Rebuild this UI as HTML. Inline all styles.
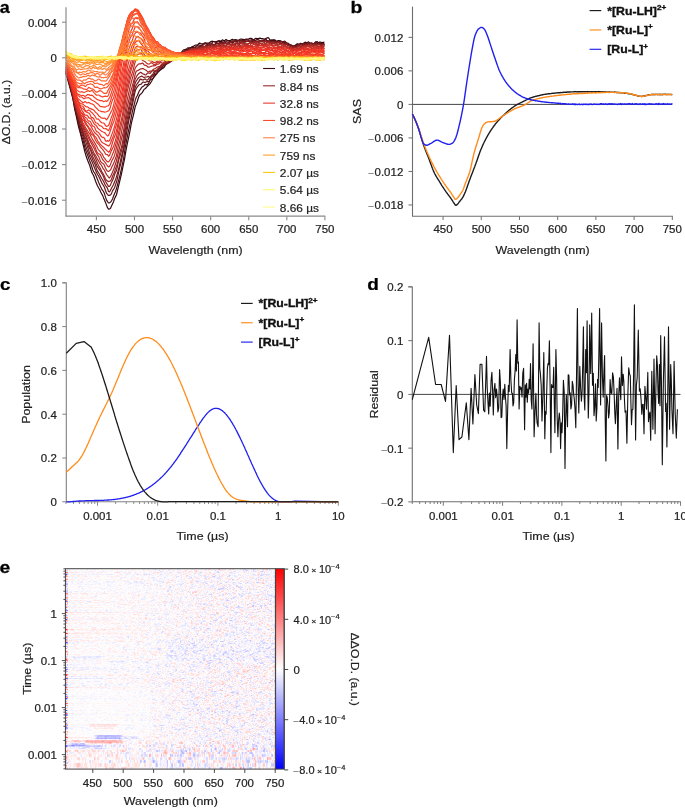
<!DOCTYPE html>
<html><head><meta charset="utf-8"><style>
html,body{margin:0;padding:0;background:#fff;}
#wrap{position:relative;width:685px;height:808px;overflow:hidden;}
#hm{position:absolute;left:65.4px;top:568.7px;width:210.0px;height:200.4px;background:#f6f0f4;}
svg{position:absolute;left:0;top:0;}
svg text{font-family:"Liberation Sans", sans-serif;}
.rt{stroke:#222;stroke-width:0.2;}
</style></head><body><div id="wrap">
<canvas id="hm" width="210" height="200"></canvas>
<svg width="685" height="808" viewBox="0 0 685 808">
<g fill="none" stroke-width="1.2" stroke-linejoin="round">
<path d="M65.9,73.3 66.9,76.3 67.9,79.9 68.9,83.8 69.9,87.6 70.9,91.4 71.9,94.7 72.9,98.7 73.9,104.3 74.8,109.7 75.8,114.2 76.8,118.7 77.8,123.4 78.8,127.8 79.8,131.2 80.8,134.9 81.8,139.2 82.8,143.3 83.8,147.4 84.7,151.4 85.7,154.7 86.7,157.7 87.7,160.5 88.7,162.9 89.7,165.4 90.7,168.8 91.7,172.1 92.7,174.0 93.7,175.7 94.6,178.4 95.6,181.3 96.6,183.7 97.6,186.0 98.6,187.8 99.6,189.5 100.6,191.8 101.6,193.7 102.6,195.4 103.6,197.9 104.6,200.2 105.5,202.4 106.5,205.1 107.5,207.7 108.5,209.2 109.5,209.0 110.5,208.2 111.5,206.1 112.5,203.9 113.5,201.8 114.5,198.8 115.4,196.9 116.4,195.0 117.4,191.0 118.4,186.6 119.4,182.5 120.4,178.4 121.4,174.1 122.4,169.3 123.4,164.5 124.4,159.8 125.3,154.4 126.3,148.7 127.3,143.6 128.3,139.2 129.3,134.4 130.3,129.1 131.3,123.7 132.3,119.3 133.3,115.5 134.3,111.0 135.2,106.9 136.2,104.4 137.2,101.7 138.2,98.5 139.2,95.8 140.2,94.4 141.2,93.7 142.2,92.6 143.2,90.9 144.2,89.3 145.1,88.7 146.1,87.8 147.1,86.5 148.1,85.5 149.1,84.7 150.1,83.6 151.1,82.0 152.1,80.2 153.1,78.2 154.1,76.9 155.1,75.9 156.0,74.7 157.0,73.5 158.0,72.2 159.0,71.0 160.0,70.3 161.0,69.6 162.0,68.7 163.0,68.3 164.0,67.5 165.0,65.9 165.9,64.5 166.9,62.6 167.9,61.2 168.9,61.4 169.9,61.2 170.9,59.9 171.9,59.0 172.9,58.6 173.9,57.9 174.9,56.9 175.8,56.5 176.8,56.4 177.8,55.6 178.8,54.8 179.8,54.1 180.8,53.1 181.8,51.9 182.8,50.6 183.8,49.8 184.8,49.6 185.7,49.4 186.7,49.3 187.7,49.5 188.7,48.7 189.7,47.9 190.7,47.7 191.7,47.1 192.7,46.6 193.7,46.1 194.7,45.5 195.6,45.0 196.6,45.0 197.6,45.1 198.6,43.7 199.6,43.1 200.6,43.6 201.6,43.9 202.6,43.9 203.6,43.5 204.6,42.9 205.6,42.9 206.5,43.1 207.5,43.1 208.5,43.2 209.5,42.7 210.5,41.7 211.5,41.4 212.5,41.2 213.5,41.5 214.5,41.8 215.5,41.7 216.4,41.5 217.4,41.2 218.4,41.1 219.4,41.3 220.4,41.6 221.4,40.8 222.4,39.9 223.4,40.4 224.4,40.8 225.4,39.8 226.3,39.5 227.3,40.4 228.3,40.5 229.3,40.6 230.3,40.6 231.3,39.8 232.3,39.4 233.3,39.8 234.3,39.8 235.3,39.6 236.2,39.7 237.2,40.0 238.2,40.3 239.2,40.0 240.2,39.1 241.2,39.2 242.2,39.3 243.2,39.3 244.2,39.6 245.2,39.4 246.2,39.1 247.1,39.2 248.1,39.3 249.1,38.8 250.1,38.3 251.1,38.3 252.1,38.8 253.1,39.6 254.1,39.7 255.1,38.6 256.1,38.3 257.0,38.7 258.0,38.6 259.0,38.3 260.0,38.1 261.0,38.5 262.0,38.6 263.0,38.7 264.0,39.1 265.0,38.8 266.0,38.4 266.9,38.0 267.9,37.6 268.9,38.3 269.9,39.9 270.9,40.3 271.9,39.8 272.9,39.9 273.9,39.8 274.9,39.8 275.9,41.2 276.8,41.6 277.8,40.7 278.8,40.5 279.8,40.8 280.8,41.2 281.8,41.9 282.8,42.4 283.8,42.3 284.8,43.0 285.8,43.4 286.7,43.1 287.7,43.1 288.7,43.8 289.7,44.7 290.7,45.4 291.7,45.9 292.7,45.9 293.7,45.8 294.7,45.6 295.7,45.1 296.7,44.0 297.6,43.7 298.6,44.2 299.6,43.8 300.6,43.3 301.6,43.5 302.6,43.8 303.6,43.2 304.6,42.4 305.6,42.4 306.6,42.5 307.5,42.3 308.5,41.9 309.5,42.7 310.5,43.8 311.5,43.9 312.5,44.5 313.5,44.8 314.5,43.2 315.5,41.9 316.5,42.4 317.4,43.3 318.4,43.0 319.4,42.1 320.4,42.1 321.4,42.4 322.4,42.5 323.4,42.3 324.4,42.1" stroke="#360910"/>
<path d="M65.9,72.6 66.9,75.9 67.9,79.5 68.9,82.7 69.9,86.1 70.9,89.8 71.9,94.3 72.9,98.5 73.9,103.3 74.8,108.1 75.8,111.8 76.8,116.2 77.8,121.0 78.8,124.8 79.8,129.2 80.8,133.7 81.8,136.6 82.8,139.4 83.8,143.2 84.7,147.1 85.7,150.3 86.7,152.9 87.7,155.3 88.7,158.2 89.7,160.9 90.7,163.2 91.7,166.3 92.7,169.5 93.7,171.8 94.6,172.9 95.6,174.7 96.6,177.2 97.6,179.7 98.6,182.3 99.6,184.6 100.6,186.8 101.6,188.8 102.6,190.3 103.6,191.7 104.6,194.1 105.5,197.1 106.5,199.9 107.5,201.6 108.5,202.8 109.5,202.9 110.5,202.1 111.5,200.8 112.5,199.0 113.5,196.3 114.5,193.8 115.4,191.7 116.4,189.0 117.4,185.1 118.4,181.2 119.4,177.6 120.4,173.5 121.4,168.9 122.4,164.2 123.4,159.5 124.4,153.4 125.3,147.0 126.3,141.9 127.3,136.9 128.3,131.7 129.3,127.1 130.3,122.7 131.3,117.2 132.3,112.0 133.3,108.0 134.3,104.3 135.2,100.4 136.2,97.5 137.2,95.7 138.2,93.4 139.2,91.0 140.2,89.7 141.2,88.1 142.2,86.8 143.2,86.4 144.2,85.5 145.1,84.4 146.1,84.6 147.1,84.8 148.1,84.1 149.1,82.2 150.1,80.1 151.1,79.4 152.1,79.2 153.1,78.4 154.1,76.7 155.1,75.2 156.0,74.0 157.0,72.8 158.0,71.8 159.0,71.0 160.0,69.9 161.0,68.7 162.0,67.6 163.0,66.1 164.0,64.6 165.0,64.1 165.9,64.3 166.9,64.0 167.9,63.2 168.9,63.0 169.9,62.1 170.9,60.2 171.9,59.2 172.9,59.5 173.9,59.6 174.9,58.8 175.8,57.7 176.8,56.0 177.8,54.7 178.8,54.8 179.8,55.1 180.8,54.3 181.8,53.0 182.8,52.1 183.8,51.6 184.8,50.9 185.7,50.1 186.7,48.8 187.7,47.8 188.7,47.8 189.7,48.0 190.7,47.7 191.7,47.4 192.7,47.4 193.7,47.4 194.7,47.6 195.6,47.0 196.6,45.9 197.6,45.4 198.6,45.0 199.6,45.0 200.6,45.7 201.6,45.5 202.6,44.5 203.6,44.1 204.6,43.9 205.6,43.4 206.5,43.7 207.5,44.4 208.5,44.0 209.5,42.9 210.5,43.1 211.5,43.4 212.5,42.3 213.5,41.5 214.5,41.6 215.5,42.2 216.4,42.7 217.4,42.0 218.4,40.9 219.4,40.7 220.4,41.0 221.4,41.4 222.4,41.9 223.4,42.2 224.4,41.5 225.4,41.0 226.3,41.1 227.3,40.6 228.3,40.7 229.3,41.4 230.3,41.4 231.3,41.0 232.3,40.9 233.3,41.1 234.3,41.2 235.3,41.1 236.2,41.4 237.2,41.3 238.2,40.5 239.2,40.2 240.2,40.8 241.2,40.8 242.2,40.7 243.2,40.6 244.2,40.0 245.2,39.7 246.2,39.6 247.1,39.9 248.1,40.0 249.1,40.1 250.1,40.2 251.1,39.8 252.1,39.6 253.1,39.5 254.1,39.9 255.1,40.4 256.1,40.1 257.0,39.5 258.0,39.5 259.0,40.0 260.0,40.4 261.0,40.5 262.0,40.1 263.0,40.6 264.0,41.0 265.0,40.0 266.0,39.6 266.9,40.6 267.9,41.0 268.9,40.8 269.9,40.6 270.9,40.3 271.9,40.6 272.9,40.6 273.9,40.4 274.9,40.6 275.9,40.8 276.8,41.4 277.8,42.3 278.8,41.8 279.8,40.8 280.8,41.0 281.8,41.6 282.8,41.7 283.8,42.0 284.8,41.9 285.8,42.2 286.7,43.8 287.7,45.1 288.7,45.4 289.7,45.3 290.7,44.7 291.7,45.0 292.7,46.3 293.7,46.9 294.7,46.0 295.7,45.7 296.7,46.2 297.6,45.7 298.6,44.8 299.6,44.3 300.6,44.3 301.6,44.4 302.6,44.5 303.6,43.8 304.6,42.5 305.6,42.4 306.6,43.2 307.5,44.0 308.5,44.3 309.5,43.7 310.5,43.1 311.5,43.0 312.5,43.3 313.5,43.6 314.5,43.3 315.5,42.7 316.5,41.8 317.4,41.7 318.4,42.8 319.4,43.4 320.4,43.4 321.4,43.5 322.4,43.6 323.4,43.6 324.4,43.6" stroke="#4a0f14"/>
<path d="M65.9,72.2 66.9,75.2 67.9,78.4 68.9,81.9 69.9,85.9 70.9,89.6 71.9,93.1 72.9,97.0 73.9,101.3 74.8,106.3 75.8,111.4 76.8,115.7 77.8,119.7 78.8,123.3 79.8,127.0 80.8,130.6 81.8,133.3 82.8,136.0 83.8,139.4 84.7,142.7 85.7,146.0 86.7,149.0 87.7,151.6 88.7,154.0 89.7,156.6 90.7,159.1 91.7,161.1 92.7,163.2 93.7,165.7 94.6,167.9 95.6,170.3 96.6,172.8 97.6,174.5 98.6,176.1 99.6,178.2 100.6,180.3 101.6,182.6 102.6,184.3 103.6,185.7 104.6,187.7 105.5,190.5 106.5,193.2 107.5,194.4 108.5,195.5 109.5,195.4 110.5,194.9 111.5,193.6 112.5,190.9 113.5,189.4 114.5,188.0 115.4,185.1 116.4,182.3 117.4,178.6 118.4,173.5 119.4,168.7 120.4,165.0 121.4,160.8 122.4,155.6 123.4,150.9 124.4,146.1 125.3,140.5 126.3,134.7 127.3,128.8 128.3,123.1 129.3,118.2 130.3,113.6 131.3,109.2 132.3,105.2 133.3,100.4 134.3,95.3 135.2,91.2 136.2,88.6 137.2,87.1 138.2,85.8 139.2,84.7 140.2,84.5 141.2,84.1 142.2,82.8 143.2,82.1 144.2,82.2 145.1,82.5 146.1,82.0 147.1,81.5 148.1,81.6 149.1,81.2 150.1,79.4 151.1,77.4 152.1,76.6 153.1,76.0 154.1,74.7 155.1,74.0 156.0,74.0 157.0,72.5 158.0,70.5 159.0,69.1 160.0,67.8 161.0,67.1 162.0,66.8 163.0,66.0 164.0,65.3 165.0,64.9 165.9,64.0 166.9,62.3 167.9,61.4 168.9,61.6 169.9,61.4 170.9,60.4 171.9,59.6 172.9,59.1 173.9,58.8 174.9,58.9 175.8,58.6 176.8,57.5 177.8,56.3 178.8,55.9 179.8,56.1 180.8,55.2 181.8,53.8 182.8,53.3 183.8,52.6 184.8,51.0 185.7,50.2 186.7,50.1 187.7,49.8 188.7,49.2 189.7,48.7 190.7,48.5 191.7,48.9 192.7,48.8 193.7,48.1 194.7,47.7 195.6,47.0 196.6,46.9 197.6,47.1 198.6,46.8 199.6,46.2 200.6,45.9 201.6,46.1 202.6,45.7 203.6,44.4 204.6,43.3 205.6,43.5 206.5,44.3 207.5,44.2 208.5,43.8 209.5,44.3 210.5,44.8 211.5,44.2 212.5,43.9 213.5,44.5 214.5,45.1 215.5,44.5 216.4,43.6 217.4,43.5 218.4,43.3 219.4,42.7 220.4,42.6 221.4,42.6 222.4,42.7 223.4,42.9 224.4,43.1 225.4,42.6 226.3,41.9 227.3,42.0 228.3,42.5 229.3,42.4 230.3,41.9 231.3,42.0 232.3,42.7 233.3,42.8 234.3,41.5 235.3,40.1 236.2,40.4 237.2,41.1 238.2,40.6 239.2,40.2 240.2,41.0 241.2,41.2 242.2,40.6 243.2,40.4 244.2,40.8 245.2,40.7 246.2,39.7 247.1,39.5 248.1,40.0 249.1,40.9 250.1,41.6 251.1,41.1 252.1,40.6 253.1,40.4 254.1,40.4 255.1,41.2 256.1,41.6 257.0,41.1 258.0,41.0 259.0,41.2 260.0,41.1 261.0,41.5 262.0,41.6 263.0,40.5 264.0,39.9 265.0,39.4 266.0,39.3 266.9,40.6 267.9,41.8 268.9,41.9 269.9,41.7 270.9,41.4 271.9,41.5 272.9,41.9 273.9,41.8 274.9,41.8 275.9,41.6 276.8,41.5 277.8,41.8 278.8,42.0 279.8,42.4 280.8,43.0 281.8,43.3 282.8,42.5 283.8,41.3 284.8,41.2 285.8,42.1 286.7,43.4 287.7,44.1 288.7,44.2 289.7,44.8 290.7,45.6 291.7,46.1 292.7,46.4 293.7,46.6 294.7,46.7 295.7,46.8 296.7,45.7 297.6,44.5 298.6,44.7 299.6,44.9 300.6,44.2 301.6,44.1 302.6,44.5 303.6,44.1 304.6,43.3 305.6,43.3 306.6,43.1 307.5,43.0 308.5,43.6 309.5,43.9 310.5,43.5 311.5,43.5 312.5,44.4 313.5,44.6 314.5,43.9 315.5,43.3 316.5,42.8 317.4,43.2 318.4,43.9 319.4,43.8 320.4,43.8 321.4,44.0 322.4,43.8 323.4,44.6 324.4,45.1" stroke="#651619"/>
<path d="M65.9,72.7 66.9,75.9 67.9,78.5 68.9,80.9 69.9,83.7 70.9,87.1 71.9,91.7 72.9,96.6 73.9,101.1 74.8,105.6 75.8,109.9 76.8,113.5 77.8,117.7 78.8,121.6 79.8,124.1 80.8,127.0 81.8,130.2 82.8,133.2 83.8,136.1 84.7,139.0 85.7,141.6 86.7,144.4 87.7,147.3 88.7,150.2 89.7,153.3 90.7,155.4 91.7,157.3 92.7,159.8 93.7,161.9 94.6,163.3 95.6,165.8 96.6,169.1 97.6,171.4 98.6,172.8 99.6,174.5 100.6,176.4 101.6,178.2 102.6,179.8 103.6,181.6 104.6,183.7 105.5,185.6 106.5,186.6 107.5,188.4 108.5,191.5 109.5,191.9 110.5,190.2 111.5,188.1 112.5,186.5 113.5,184.5 114.5,182.1 115.4,180.0 116.4,177.1 117.4,173.4 118.4,169.8 119.4,165.6 120.4,161.0 121.4,156.6 122.4,152.9 123.4,148.7 124.4,142.3 125.3,135.0 126.3,128.7 127.3,123.7 128.3,118.9 129.3,114.1 130.3,110.0 131.3,106.2 132.3,101.2 133.3,95.6 134.3,91.0 135.2,87.5 136.2,85.3 137.2,83.7 138.2,82.5 139.2,80.9 140.2,79.1 141.2,79.3 142.2,80.0 143.2,79.9 144.2,79.2 145.1,78.9 146.1,79.7 147.1,80.2 148.1,79.4 149.1,78.2 150.1,77.1 151.1,75.8 152.1,75.0 153.1,74.5 154.1,73.9 155.1,72.1 156.0,70.4 157.0,70.1 158.0,69.9 159.0,68.8 160.0,67.9 161.0,67.8 162.0,67.1 163.0,65.8 164.0,65.0 165.0,64.6 165.9,63.9 166.9,63.3 167.9,62.6 168.9,62.3 169.9,62.1 170.9,61.0 171.9,60.3 172.9,60.3 173.9,59.7 174.9,59.0 175.8,58.8 176.8,58.4 177.8,57.5 178.8,55.7 179.8,53.8 180.8,53.3 181.8,53.4 182.8,52.7 183.8,52.1 184.8,51.3 185.7,50.8 186.7,50.9 187.7,50.3 188.7,49.5 189.7,49.0 190.7,49.1 191.7,49.3 192.7,48.6 193.7,48.0 194.7,47.8 195.6,47.8 196.6,48.3 197.6,48.4 198.6,47.1 199.6,46.3 200.6,46.5 201.6,46.2 202.6,45.9 203.6,46.3 204.6,46.5 205.6,45.8 206.5,45.4 207.5,45.6 208.5,45.2 209.5,45.4 210.5,45.4 211.5,44.5 212.5,44.7 213.5,45.3 214.5,44.6 215.5,43.5 216.4,43.3 217.4,43.8 218.4,43.5 219.4,43.4 220.4,43.6 221.4,43.5 222.4,43.4 223.4,43.7 224.4,43.5 225.4,43.1 226.3,43.1 227.3,43.3 228.3,42.9 229.3,42.2 230.3,42.0 231.3,41.8 232.3,41.5 233.3,41.3 234.3,41.3 235.3,42.0 236.2,42.2 237.2,41.7 238.2,40.8 239.2,41.2 240.2,42.9 241.2,42.8 242.2,41.6 243.2,41.1 244.2,41.3 245.2,41.5 246.2,41.3 247.1,41.2 248.1,41.2 249.1,41.7 250.1,42.3 251.1,42.0 252.1,41.6 253.1,41.3 254.1,41.5 255.1,41.8 256.1,41.6 257.0,41.9 258.0,42.4 259.0,42.3 260.0,41.6 261.0,40.7 262.0,40.6 263.0,40.8 264.0,40.7 265.0,41.0 266.0,41.1 266.9,40.7 267.9,40.6 268.9,41.3 269.9,41.6 270.9,41.5 271.9,41.7 272.9,41.8 273.9,41.5 274.9,41.6 275.9,42.0 276.8,42.3 277.8,42.1 278.8,42.1 279.8,42.1 280.8,41.6 281.8,41.6 282.8,41.7 283.8,42.5 284.8,43.8 285.8,44.2 286.7,44.2 287.7,44.6 288.7,45.2 289.7,46.1 290.7,47.0 291.7,47.5 292.7,47.7 293.7,47.3 294.7,47.2 295.7,47.1 296.7,46.5 297.6,46.2 298.6,46.8 299.6,46.9 300.6,46.6 301.6,46.3 302.6,45.2 303.6,44.1 304.6,44.3 305.6,44.5 306.6,44.6 307.5,44.4 308.5,44.2 309.5,44.1 310.5,43.4 311.5,43.0 312.5,43.5 313.5,44.3 314.5,44.5 315.5,44.2 316.5,43.9 317.4,43.8 318.4,43.5 319.4,43.8 320.4,44.8 321.4,44.6 322.4,43.9 323.4,44.4 324.4,44.8" stroke="#711a1c"/>
<path d="M65.9,72.2 66.9,75.2 67.9,77.0 68.9,78.8 69.9,82.8 70.9,87.6 71.9,91.6 72.9,94.8 73.9,98.7 74.8,103.7 75.8,108.0 76.8,111.2 77.8,114.7 78.8,119.0 79.8,123.1 80.8,126.4 81.8,129.5 82.8,132.2 83.8,134.2 84.7,136.6 85.7,138.7 86.7,140.5 87.7,143.5 88.7,146.8 89.7,148.6 90.7,150.6 91.7,153.8 92.7,156.4 93.7,158.5 94.6,160.3 95.6,162.2 96.6,165.1 97.6,167.2 98.6,168.4 99.6,169.9 100.6,171.5 101.6,173.2 102.6,174.8 103.6,176.9 104.6,179.5 105.5,181.5 106.5,183.1 107.5,184.7 108.5,186.4 109.5,186.5 110.5,184.9 111.5,182.4 112.5,180.4 113.5,178.3 114.5,174.9 115.4,172.5 116.4,170.9 117.4,166.5 118.4,161.1 119.4,157.6 120.4,154.7 121.4,151.3 122.4,147.4 123.4,142.7 124.4,136.6 125.3,129.8 126.3,123.8 127.3,118.7 128.3,113.9 129.3,109.2 130.3,104.8 131.3,100.2 132.3,95.3 133.3,90.8 134.3,86.5 135.2,83.1 136.2,81.1 137.2,79.7 138.2,78.2 139.2,77.3 140.2,76.8 141.2,76.2 142.2,76.4 143.2,77.1 144.2,77.3 145.1,77.2 146.1,77.0 147.1,76.8 148.1,76.4 149.1,76.9 150.1,77.2 151.1,76.4 152.1,75.3 153.1,73.5 154.1,71.6 155.1,71.2 156.0,71.5 157.0,70.3 158.0,68.5 159.0,67.9 160.0,67.4 161.0,65.9 162.0,64.4 163.0,64.2 164.0,64.4 165.0,63.8 165.9,63.3 166.9,63.3 167.9,63.0 168.9,62.3 169.9,61.8 170.9,61.1 171.9,59.8 172.9,59.0 173.9,59.4 174.9,59.4 175.8,58.6 176.8,57.6 177.8,57.0 178.8,57.0 179.8,57.0 180.8,56.5 181.8,55.1 182.8,53.4 183.8,52.8 184.8,52.8 185.7,52.2 186.7,51.3 187.7,50.8 188.7,50.8 189.7,51.0 190.7,51.2 191.7,50.2 192.7,49.3 193.7,49.8 194.7,49.4 195.6,48.6 196.6,48.6 197.6,48.5 198.6,48.0 199.6,47.6 200.6,47.9 201.6,48.2 202.6,47.8 203.6,47.5 204.6,47.1 205.6,46.3 206.5,45.7 207.5,45.7 208.5,45.8 209.5,45.2 210.5,44.5 211.5,44.3 212.5,44.4 213.5,45.0 214.5,45.0 215.5,44.9 216.4,45.3 217.4,45.1 218.4,44.9 219.4,45.3 220.4,45.6 221.4,45.2 222.4,44.2 223.4,43.3 224.4,43.2 225.4,43.7 226.3,44.1 227.3,44.0 228.3,43.7 229.3,43.4 230.3,42.7 231.3,42.3 232.3,43.3 233.3,44.3 234.3,44.4 235.3,44.4 236.2,43.7 237.2,42.6 238.2,42.9 239.2,43.4 240.2,42.5 241.2,42.0 242.2,42.7 243.2,43.2 244.2,42.9 245.2,42.3 246.2,41.8 247.1,41.3 248.1,41.1 249.1,41.0 250.1,41.1 251.1,41.9 252.1,42.9 253.1,42.6 254.1,42.1 255.1,42.0 256.1,41.8 257.0,42.2 258.0,42.2 259.0,41.3 260.0,41.2 261.0,41.4 262.0,41.1 263.0,41.0 264.0,42.1 265.0,43.3 266.0,43.0 266.9,42.6 267.9,42.5 268.9,41.8 269.9,41.5 270.9,42.3 271.9,42.3 272.9,41.6 273.9,42.4 274.9,43.1 275.9,42.6 276.8,42.6 277.8,42.9 278.8,42.8 279.8,43.4 280.8,43.8 281.8,43.4 282.8,43.3 283.8,43.9 284.8,44.2 285.8,43.7 286.7,43.7 287.7,44.6 288.7,45.1 289.7,45.7 290.7,46.3 291.7,46.2 292.7,46.1 293.7,46.2 294.7,46.8 295.7,47.3 296.7,47.0 297.6,46.2 298.6,45.4 299.6,44.9 300.6,44.7 301.6,44.2 302.6,44.0 303.6,44.9 304.6,45.9 305.6,46.2 306.6,45.4 307.5,44.5 308.5,44.4 309.5,44.1 310.5,43.6 311.5,43.4 312.5,43.8 313.5,44.5 314.5,44.8 315.5,44.7 316.5,44.7 317.4,45.0 318.4,44.5 319.4,44.4 320.4,45.1 321.4,45.3 322.4,45.1 323.4,44.7 324.4,44.3" stroke="#831f1f"/>
<path d="M65.9,71.3 66.9,74.2 67.9,77.4 68.9,80.1 69.9,83.2 70.9,86.5 71.9,90.6 72.9,95.5 73.9,99.3 74.8,102.3 75.8,106.0 76.8,110.2 77.8,114.5 78.8,117.9 79.8,119.9 80.8,122.5 81.8,126.3 82.8,130.0 83.8,132.8 84.7,134.0 85.7,135.5 86.7,138.3 87.7,141.1 88.7,144.0 89.7,146.5 90.7,148.6 91.7,151.2 92.7,153.3 93.7,154.7 94.6,156.4 95.6,158.5 96.6,160.9 97.6,163.5 98.6,165.6 99.6,167.1 100.6,169.1 101.6,171.3 102.6,172.9 103.6,174.5 104.6,176.7 105.5,178.8 106.5,180.3 107.5,181.1 108.5,181.6 109.5,181.2 110.5,180.9 111.5,179.2 112.5,176.3 113.5,174.3 114.5,171.9 115.4,168.8 116.4,166.5 117.4,163.5 118.4,159.1 119.4,154.2 120.4,150.5 121.4,147.4 122.4,143.0 123.4,137.4 124.4,131.4 125.3,125.2 126.3,118.6 127.3,113.3 128.3,109.3 129.3,104.5 130.3,99.7 131.3,96.4 132.3,92.8 133.3,87.6 134.3,82.1 135.2,78.9 136.2,77.3 137.2,75.3 138.2,74.2 139.2,73.3 140.2,72.3 141.2,72.5 142.2,73.5 143.2,74.1 144.2,74.1 145.1,75.0 146.1,75.0 147.1,73.4 148.1,72.8 149.1,73.2 150.1,73.3 151.1,72.1 152.1,70.8 153.1,70.4 154.1,70.8 155.1,70.8 156.0,70.4 157.0,70.5 158.0,69.6 159.0,68.2 160.0,67.4 161.0,66.5 162.0,65.1 163.0,63.5 164.0,63.0 165.0,62.9 165.9,62.6 166.9,62.6 167.9,62.1 168.9,61.4 169.9,61.5 170.9,61.4 171.9,60.9 172.9,59.7 173.9,58.7 174.9,58.9 175.8,58.8 176.8,58.7 177.8,58.6 178.8,57.4 179.8,55.1 180.8,53.5 181.8,53.7 182.8,53.7 183.8,52.8 184.8,52.2 185.7,51.6 186.7,51.1 187.7,50.8 188.7,50.6 189.7,50.8 190.7,51.0 191.7,51.0 192.7,50.7 193.7,50.3 194.7,49.8 195.6,49.4 196.6,48.7 197.6,48.5 198.6,49.0 199.6,49.1 200.6,48.3 201.6,47.1 202.6,46.2 203.6,46.5 204.6,46.7 205.6,46.7 206.5,46.8 207.5,46.4 208.5,47.2 209.5,47.3 210.5,45.1 211.5,44.8 212.5,46.0 213.5,46.0 214.5,45.7 215.5,45.9 216.4,46.3 217.4,45.9 218.4,45.0 219.4,44.5 220.4,44.2 221.4,43.9 222.4,43.7 223.4,44.3 224.4,45.1 225.4,45.7 226.3,45.2 227.3,44.1 228.3,44.2 229.3,44.1 230.3,44.2 231.3,44.6 232.3,44.5 233.3,44.3 234.3,44.0 235.3,43.3 236.2,43.3 237.2,44.0 238.2,44.1 239.2,43.6 240.2,43.1 241.2,42.2 242.2,41.4 243.2,42.1 244.2,43.0 245.2,43.5 246.2,43.8 247.1,44.0 248.1,43.8 249.1,43.5 250.1,43.0 251.1,42.7 252.1,42.9 253.1,43.3 254.1,43.0 255.1,42.0 256.1,41.5 257.0,41.4 258.0,41.3 259.0,41.7 260.0,42.1 261.0,41.5 262.0,41.2 263.0,42.1 264.0,41.8 265.0,41.2 266.0,41.6 266.9,41.7 267.9,41.8 268.9,42.5 269.9,42.8 270.9,43.2 271.9,43.5 272.9,43.3 273.9,43.1 274.9,42.8 275.9,43.2 276.8,43.3 277.8,42.4 278.8,42.1 279.8,43.0 280.8,43.8 281.8,43.9 282.8,43.7 283.8,44.4 284.8,45.2 285.8,44.3 286.7,44.1 287.7,45.7 288.7,45.9 289.7,46.0 290.7,46.4 291.7,46.8 292.7,47.7 293.7,47.4 294.7,46.8 295.7,47.2 296.7,47.3 297.6,47.0 298.6,46.4 299.6,45.8 300.6,45.8 301.6,45.9 302.6,45.8 303.6,45.5 304.6,45.9 305.6,46.7 306.6,46.2 307.5,45.9 308.5,45.3 309.5,44.8 310.5,45.6 311.5,45.7 312.5,44.7 313.5,44.3 314.5,44.2 315.5,44.8 316.5,45.6 317.4,45.1 318.4,44.3 319.4,44.4 320.4,45.0 321.4,45.2 322.4,45.5 323.4,45.1 324.4,44.4" stroke="#912322"/>
<path d="M65.9,71.6 66.9,74.6 67.9,77.0 68.9,79.2 69.9,82.3 70.9,86.2 71.9,90.0 72.9,94.0 73.9,98.8 74.8,102.7 75.8,106.0 76.8,109.7 77.8,112.7 78.8,115.4 79.8,118.6 80.8,121.4 81.8,123.6 82.8,126.6 83.8,129.8 84.7,132.0 85.7,134.6 86.7,137.3 87.7,139.4 88.7,141.9 89.7,144.5 90.7,146.1 91.7,147.8 92.7,150.2 93.7,152.6 94.6,154.1 95.6,155.4 96.6,157.4 97.6,159.4 98.6,161.1 99.6,163.1 100.6,164.4 101.6,165.4 102.6,167.6 103.6,169.2 104.6,170.4 105.5,172.6 106.5,174.6 107.5,175.6 108.5,177.3 109.5,177.9 110.5,176.5 111.5,174.4 112.5,172.2 113.5,169.8 114.5,167.1 115.4,164.2 116.4,161.0 117.4,156.7 118.4,152.2 119.4,148.3 120.4,143.9 121.4,139.2 122.4,135.5 123.4,131.4 124.4,125.7 125.3,119.3 126.3,112.4 127.3,106.7 128.3,102.4 129.3,97.8 130.3,93.3 131.3,89.7 132.3,86.1 133.3,82.3 134.3,78.3 135.2,74.1 136.2,71.3 137.2,70.7 138.2,70.4 139.2,69.7 140.2,69.1 141.2,68.8 142.2,68.7 143.2,68.6 144.2,69.2 145.1,69.7 146.1,70.2 147.1,71.1 148.1,71.9 149.1,71.6 150.1,71.1 151.1,71.2 152.1,71.0 153.1,69.6 154.1,68.9 155.1,68.5 156.0,67.9 157.0,67.2 158.0,66.7 159.0,66.8 160.0,66.2 161.0,64.9 162.0,64.2 163.0,64.0 164.0,63.8 165.0,63.2 165.9,62.1 166.9,61.3 167.9,61.0 168.9,60.1 169.9,59.7 170.9,59.9 171.9,59.8 172.9,60.4 173.9,60.6 174.9,59.9 175.8,58.9 176.8,58.2 177.8,57.6 178.8,57.4 179.8,57.0 180.8,55.9 181.8,55.2 182.8,54.5 183.8,53.7 184.8,53.6 185.7,53.4 186.7,52.7 187.7,51.6 188.7,50.7 189.7,50.6 190.7,51.1 191.7,51.2 192.7,50.6 193.7,50.3 194.7,50.1 195.6,49.3 196.6,49.2 197.6,49.3 198.6,48.4 199.6,47.8 200.6,47.6 201.6,47.5 202.6,47.3 203.6,46.8 204.6,46.7 205.6,46.9 206.5,46.6 207.5,46.8 208.5,47.2 209.5,47.5 210.5,47.0 211.5,46.7 212.5,46.9 213.5,46.3 214.5,45.9 215.5,46.5 216.4,47.2 217.4,46.4 218.4,45.7 219.4,46.0 220.4,46.4 221.4,46.6 222.4,45.9 223.4,45.3 224.4,45.5 225.4,45.7 226.3,45.3 227.3,44.8 228.3,44.8 229.3,45.3 230.3,44.8 231.3,44.0 232.3,44.7 233.3,45.3 234.3,45.2 235.3,44.8 236.2,43.6 237.2,43.4 238.2,44.7 239.2,45.0 240.2,43.8 241.2,43.0 242.2,43.1 243.2,43.4 244.2,44.2 245.2,44.6 246.2,45.0 247.1,44.7 248.1,43.8 249.1,43.2 250.1,42.7 251.1,43.2 252.1,43.7 253.1,42.8 254.1,42.2 255.1,43.1 256.1,43.9 257.0,43.2 258.0,42.7 259.0,43.5 260.0,43.6 261.0,43.0 262.0,43.3 263.0,43.9 264.0,44.0 265.0,43.7 266.0,43.3 266.9,42.9 267.9,42.5 268.9,43.1 269.9,43.9 270.9,43.4 271.9,42.8 272.9,42.8 273.9,43.1 274.9,44.0 275.9,44.3 276.8,44.0 277.8,45.0 278.8,45.3 279.8,44.6 280.8,44.7 281.8,45.3 282.8,45.9 283.8,46.4 284.8,46.3 285.8,46.0 286.7,46.5 287.7,47.3 288.7,47.2 289.7,47.7 290.7,48.1 291.7,47.7 292.7,48.2 293.7,48.4 294.7,47.7 295.7,47.8 296.7,47.7 297.6,46.9 298.6,46.5 299.6,46.5 300.6,46.4 301.6,46.2 302.6,46.0 303.6,46.3 304.6,45.9 305.6,44.9 306.6,45.2 307.5,45.1 308.5,44.5 309.5,45.3 310.5,46.0 311.5,46.0 312.5,46.0 313.5,45.2 314.5,45.1 315.5,46.0 316.5,46.3 317.4,45.9 318.4,46.1 319.4,46.2 320.4,46.4 321.4,46.9 322.4,46.8 323.4,46.3 324.4,46.2" stroke="#a22724"/>
<path d="M65.9,71.3 66.9,74.1 67.9,76.5 68.9,79.5 69.9,83.3 70.9,87.1 71.9,90.2 72.9,93.4 73.9,97.6 74.8,101.4 75.8,104.7 76.8,108.1 77.8,111.5 78.8,115.5 79.8,118.7 80.8,120.7 81.8,122.8 82.8,125.3 83.8,127.6 84.7,129.7 85.7,131.7 86.7,134.0 87.7,136.2 88.7,138.3 89.7,140.3 90.7,142.1 91.7,144.0 92.7,145.9 93.7,147.5 94.6,149.5 95.6,151.5 96.6,153.6 97.6,155.1 98.6,156.3 99.6,158.9 100.6,161.4 101.6,162.8 102.6,163.3 103.6,163.9 104.6,165.7 105.5,168.0 106.5,170.1 107.5,171.2 108.5,171.5 109.5,170.8 110.5,169.9 111.5,167.8 112.5,165.6 113.5,163.8 114.5,161.1 115.4,158.7 116.4,155.7 117.4,150.5 118.4,145.5 119.4,141.8 120.4,137.7 121.4,132.6 122.4,127.9 123.4,122.8 124.4,116.9 125.3,111.1 126.3,104.9 127.3,99.4 128.3,94.9 129.3,90.5 130.3,86.2 131.3,82.0 132.3,78.6 133.3,75.0 134.3,71.1 135.2,68.0 136.2,66.6 137.2,65.4 138.2,64.3 139.2,63.9 140.2,63.9 141.2,63.7 142.2,63.1 143.2,63.6 144.2,64.9 145.1,65.4 146.1,65.4 147.1,66.3 148.1,67.2 149.1,67.2 150.1,66.8 151.1,66.4 152.1,66.0 153.1,65.7 154.1,65.8 155.1,65.7 156.0,65.1 157.0,64.2 158.0,64.2 159.0,63.9 160.0,62.8 161.0,62.5 162.0,63.0 163.0,63.1 164.0,62.5 165.0,61.7 165.9,61.0 166.9,60.9 167.9,60.7 168.9,60.4 169.9,59.9 170.9,58.8 171.9,58.6 172.9,59.3 173.9,59.1 174.9,58.2 175.8,57.9 176.8,57.8 177.8,57.5 178.8,56.8 179.8,55.7 180.8,54.9 181.8,54.3 182.8,53.6 183.8,53.5 184.8,53.3 185.7,52.3 186.7,51.6 187.7,51.3 188.7,50.5 189.7,50.4 190.7,51.2 191.7,50.8 192.7,49.3 193.7,49.1 194.7,50.2 195.6,50.6 196.6,50.2 197.6,50.1 198.6,50.0 199.6,49.7 200.6,49.8 201.6,49.4 202.6,48.5 203.6,48.5 204.6,48.2 205.6,47.5 206.5,47.4 207.5,47.7 208.5,47.9 209.5,47.5 210.5,46.6 211.5,46.8 212.5,47.6 213.5,47.2 214.5,46.5 215.5,45.9 216.4,45.3 217.4,45.6 218.4,46.5 219.4,47.0 220.4,47.0 221.4,46.4 222.4,45.3 223.4,44.6 224.4,45.8 225.4,47.2 226.3,46.7 227.3,46.2 228.3,46.6 229.3,46.5 230.3,45.9 231.3,45.5 232.3,45.7 233.3,45.7 234.3,45.3 235.3,45.5 236.2,46.0 237.2,46.2 238.2,45.7 239.2,45.4 240.2,45.7 241.2,45.2 242.2,44.7 243.2,44.8 244.2,45.1 245.2,44.9 246.2,44.0 247.1,43.7 248.1,44.7 249.1,45.7 250.1,45.3 251.1,43.8 252.1,43.2 253.1,43.5 254.1,43.8 255.1,44.4 256.1,44.6 257.0,44.2 258.0,44.4 259.0,44.7 260.0,43.8 261.0,43.5 262.0,44.8 263.0,45.1 264.0,44.5 265.0,45.0 266.0,45.3 266.9,44.3 267.9,44.0 268.9,43.8 269.9,43.2 270.9,43.8 271.9,44.7 272.9,44.8 273.9,45.2 274.9,45.1 275.9,44.8 276.8,45.1 277.8,44.8 278.8,44.0 279.8,44.0 280.8,44.5 281.8,44.8 282.8,44.8 283.8,44.9 284.8,45.2 285.8,45.6 286.7,46.8 287.7,47.8 288.7,48.2 289.7,48.0 290.7,47.4 291.7,47.6 292.7,48.5 293.7,48.9 294.7,49.0 295.7,49.2 296.7,49.0 297.6,48.7 298.6,48.6 299.6,47.9 300.6,47.4 301.6,47.6 302.6,47.9 303.6,47.3 304.6,46.4 305.6,46.4 306.6,45.9 307.5,45.9 308.5,46.9 309.5,46.9 310.5,45.8 311.5,45.6 312.5,46.6 313.5,46.6 314.5,46.0 315.5,45.6 316.5,45.6 317.4,46.2 318.4,46.7 319.4,46.5 320.4,46.0 321.4,47.0 322.4,48.0 323.4,47.3 324.4,46.7" stroke="#b42a25"/>
<path d="M65.9,70.0 66.9,73.2 67.9,76.2 68.9,78.4 69.9,81.3 70.9,84.9 71.9,88.3 72.9,92.2 73.9,96.8 74.8,101.0 75.8,105.3 76.8,108.8 77.8,111.7 78.8,114.7 79.8,116.8 80.8,119.0 81.8,122.1 82.8,124.8 83.8,126.6 84.7,128.1 85.7,129.8 86.7,131.7 87.7,133.7 88.7,135.8 89.7,138.1 90.7,140.0 91.7,141.2 92.7,142.9 93.7,144.7 94.6,146.0 95.6,148.5 96.6,151.4 97.6,152.8 98.6,153.8 99.6,154.2 100.6,155.0 101.6,157.5 102.6,159.5 103.6,160.7 104.6,161.8 105.5,162.9 106.5,164.5 107.5,166.0 108.5,166.9 109.5,166.4 110.5,164.4 111.5,161.6 112.5,159.5 113.5,157.9 114.5,155.4 115.4,152.1 116.4,148.0 117.4,143.6 118.4,139.2 119.4,134.3 120.4,129.5 121.4,125.1 122.4,120.3 123.4,115.0 124.4,109.2 125.3,102.9 126.3,96.4 127.3,91.2 128.3,87.3 129.3,82.8 130.3,78.9 131.3,75.8 132.3,72.9 133.3,69.3 134.3,65.2 135.2,61.8 136.2,60.1 137.2,59.0 138.2,57.6 139.2,57.3 140.2,58.2 141.2,59.1 142.2,60.0 143.2,60.8 144.2,61.2 145.1,61.6 146.1,62.6 147.1,63.6 148.1,64.0 149.1,64.1 150.1,63.4 151.1,62.6 152.1,63.0 153.1,63.9 154.1,64.5 155.1,64.5 156.0,63.8 157.0,62.7 158.0,62.4 159.0,62.3 160.0,61.9 161.0,61.1 162.0,60.4 163.0,60.7 164.0,60.9 165.0,60.2 165.9,59.7 166.9,60.0 167.9,60.3 168.9,60.2 169.9,59.6 170.9,57.9 171.9,57.0 172.9,57.6 173.9,57.5 174.9,57.4 175.8,57.8 176.8,57.4 177.8,56.9 178.8,56.0 179.8,55.2 180.8,55.2 181.8,54.4 182.8,53.4 183.8,53.2 184.8,52.5 185.7,51.8 186.7,51.6 187.7,51.3 188.7,51.5 189.7,51.7 190.7,50.2 191.7,48.9 192.7,49.2 193.7,50.0 194.7,50.7 195.6,50.6 196.6,50.4 197.6,49.9 198.6,49.4 199.6,49.6 200.6,50.0 201.6,50.2 202.6,49.5 203.6,49.0 204.6,49.3 205.6,48.7 206.5,48.0 207.5,48.8 208.5,49.3 209.5,48.5 210.5,47.1 211.5,46.4 212.5,47.3 213.5,48.1 214.5,47.8 215.5,47.3 216.4,47.3 217.4,46.5 218.4,46.1 219.4,46.6 220.4,46.6 221.4,46.1 222.4,46.2 223.4,46.7 224.4,46.6 225.4,46.8 226.3,47.1 227.3,46.8 228.3,46.9 229.3,47.5 230.3,47.8 231.3,46.9 232.3,45.3 233.3,44.7 234.3,45.0 235.3,45.5 236.2,46.1 237.2,46.1 238.2,46.1 239.2,46.7 240.2,46.7 241.2,46.1 242.2,46.2 243.2,46.3 244.2,45.8 245.2,45.4 246.2,45.1 247.1,45.4 248.1,45.6 249.1,45.5 250.1,45.6 251.1,45.9 252.1,45.5 253.1,44.8 254.1,44.4 255.1,44.8 256.1,45.8 257.0,45.9 258.0,45.4 259.0,45.3 260.0,45.4 261.0,45.3 262.0,44.8 263.0,45.1 264.0,45.3 265.0,44.4 266.0,44.3 266.9,44.9 267.9,45.0 268.9,45.0 269.9,44.8 270.9,45.2 271.9,45.8 272.9,45.9 273.9,45.8 274.9,45.5 275.9,45.4 276.8,45.7 277.8,47.0 278.8,47.9 279.8,47.4 280.8,47.0 281.8,46.3 282.8,45.6 283.8,46.2 284.8,47.0 285.8,47.3 286.7,47.7 287.7,48.2 288.7,48.7 289.7,48.6 290.7,48.2 291.7,48.4 292.7,48.7 293.7,49.1 294.7,49.3 295.7,49.0 296.7,48.4 297.6,48.0 298.6,48.3 299.6,48.7 300.6,48.1 301.6,47.1 302.6,47.4 303.6,47.3 304.6,46.4 305.6,46.2 306.6,46.8 307.5,46.7 308.5,46.0 309.5,46.3 310.5,46.9 311.5,47.6 312.5,48.4 313.5,48.2 314.5,47.3 315.5,47.0 316.5,47.6 317.4,48.3 318.4,48.4 319.4,48.2 320.4,47.9 321.4,46.9 322.4,45.8 323.4,45.3 324.4,46.2" stroke="#c22d25"/>
<path d="M65.9,71.2 66.9,74.6 67.9,78.0 68.9,79.9 69.9,81.7 70.9,84.3 71.9,87.5 72.9,91.4 73.9,95.5 74.8,99.3 75.8,103.4 76.8,107.8 77.8,111.3 78.8,113.6 79.8,114.8 80.8,116.7 81.8,119.7 82.8,122.5 83.8,124.3 84.7,126.0 85.7,127.8 86.7,129.4 87.7,131.0 88.7,132.6 89.7,133.9 90.7,135.7 91.7,137.8 92.7,139.7 93.7,141.2 94.6,142.6 95.6,144.4 96.6,146.1 97.6,148.2 98.6,149.9 99.6,150.9 100.6,152.3 101.6,153.3 102.6,154.9 103.6,157.1 104.6,158.4 105.5,159.5 106.5,161.0 107.5,161.7 108.5,161.9 109.5,160.8 110.5,159.1 111.5,156.9 112.5,154.4 113.5,152.0 114.5,149.0 115.4,145.5 116.4,142.2 117.4,138.3 118.4,133.6 119.4,128.3 120.4,123.6 121.4,119.6 122.4,115.0 123.4,108.9 124.4,102.3 125.3,96.8 126.3,91.1 127.3,86.2 128.3,82.4 129.3,77.9 130.3,73.4 131.3,69.4 132.3,66.5 133.3,63.4 134.3,59.8 135.2,56.9 136.2,55.5 137.2,54.9 138.2,54.5 139.2,53.9 140.2,53.1 141.2,53.2 142.2,54.4 143.2,55.6 144.2,56.1 145.1,56.7 146.1,57.4 147.1,58.6 148.1,60.0 149.1,60.6 150.1,60.8 151.1,61.0 152.1,61.3 153.1,62.1 154.1,62.6 155.1,62.4 156.0,62.0 157.0,61.2 158.0,61.0 159.0,61.1 160.0,60.0 161.0,59.3 162.0,59.0 163.0,58.1 164.0,58.1 165.0,58.8 165.9,58.4 166.9,57.9 167.9,57.7 168.9,57.7 169.9,58.2 170.9,58.5 171.9,58.4 172.9,58.1 173.9,57.9 174.9,58.1 175.8,57.6 176.8,56.5 177.8,56.0 178.8,56.1 179.8,56.4 180.8,55.8 181.8,54.6 182.8,53.8 183.8,53.1 184.8,52.4 185.7,52.2 186.7,52.2 187.7,51.7 188.7,51.4 189.7,51.2 190.7,50.7 191.7,50.5 192.7,50.7 193.7,50.5 194.7,50.0 195.6,49.5 196.6,49.4 197.6,49.4 198.6,49.4 199.6,49.2 200.6,49.0 201.6,49.8 202.6,50.2 203.6,49.2 204.6,49.1 205.6,49.8 206.5,49.7 207.5,48.9 208.5,47.8 209.5,48.3 210.5,49.2 211.5,48.8 212.5,48.0 213.5,47.7 214.5,48.9 215.5,49.6 216.4,48.7 217.4,48.3 218.4,48.8 219.4,49.0 220.4,47.7 221.4,47.2 222.4,47.9 223.4,47.6 224.4,46.9 225.4,46.3 226.3,46.6 227.3,47.0 228.3,46.6 229.3,46.8 230.3,47.2 231.3,47.0 232.3,47.6 233.3,47.6 234.3,46.5 235.3,46.7 236.2,47.2 237.2,47.2 238.2,47.8 239.2,48.0 240.2,47.4 241.2,47.0 242.2,46.4 243.2,46.0 244.2,46.3 245.2,46.1 246.2,46.2 247.1,46.7 248.1,46.7 249.1,46.4 250.1,45.8 251.1,45.7 252.1,46.4 253.1,46.8 254.1,46.6 255.1,46.2 256.1,45.9 257.0,46.1 258.0,46.2 259.0,45.5 260.0,45.5 261.0,45.7 262.0,45.5 263.0,45.8 264.0,46.1 265.0,46.1 266.0,46.4 266.9,46.4 267.9,45.7 268.9,44.8 269.9,44.8 270.9,45.3 271.9,45.3 272.9,45.6 273.9,45.8 274.9,45.6 275.9,45.3 276.8,45.0 277.8,46.1 278.8,46.9 279.8,46.5 280.8,46.8 281.8,48.0 282.8,48.5 283.8,47.3 284.8,46.6 285.8,46.9 286.7,46.9 287.7,47.3 288.7,48.0 289.7,48.6 290.7,49.4 291.7,49.6 292.7,49.2 293.7,49.7 294.7,50.3 295.7,49.8 296.7,49.7 297.6,49.6 298.6,49.1 299.6,49.3 300.6,49.8 301.6,48.9 302.6,48.0 303.6,48.4 304.6,48.2 305.6,47.5 306.6,47.8 307.5,48.5 308.5,48.4 309.5,47.8 310.5,47.7 311.5,48.4 312.5,48.5 313.5,47.4 314.5,47.0 315.5,47.6 316.5,48.1 317.4,47.9 318.4,47.6 319.4,47.8 320.4,48.4 321.4,48.3 322.4,48.4 323.4,48.6 324.4,48.2" stroke="#cd2f25"/>
<path d="M65.9,70.4 66.9,72.8 67.9,75.6 68.9,78.8 69.9,81.4 70.9,83.9 71.9,86.9 72.9,90.7 73.9,95.7 74.8,100.0 75.8,103.0 76.8,105.4 77.8,107.6 78.8,110.9 79.8,114.0 80.8,116.0 81.8,118.6 82.8,120.1 83.8,120.5 84.7,122.3 85.7,124.3 86.7,125.5 87.7,126.8 88.7,128.5 89.7,130.5 90.7,133.1 91.7,134.7 92.7,134.9 93.7,136.1 94.6,138.2 95.6,140.2 96.6,142.0 97.6,143.4 98.6,144.2 99.6,145.5 100.6,147.2 101.6,148.4 102.6,149.4 103.6,150.7 104.6,152.3 105.5,154.1 106.5,154.5 107.5,154.7 108.5,156.2 109.5,155.5 110.5,152.9 111.5,150.4 112.5,148.5 113.5,146.5 114.5,143.6 115.4,140.7 116.4,136.9 117.4,131.9 118.4,126.7 119.4,121.0 120.4,115.6 121.4,111.8 122.4,108.1 123.4,103.9 124.4,98.4 125.3,92.2 126.3,86.2 127.3,80.9 128.3,76.2 129.3,72.2 130.3,69.0 131.3,66.0 132.3,62.4 133.3,58.2 134.3,54.5 135.2,51.6 136.2,50.3 137.2,50.0 138.2,49.9 139.2,49.7 140.2,49.1 141.2,49.8 142.2,51.9 143.2,53.4 144.2,54.4 145.1,55.9 146.1,56.4 147.1,56.4 148.1,57.3 149.1,58.0 150.1,58.4 151.1,59.0 152.1,59.3 153.1,59.5 154.1,59.5 155.1,59.3 156.0,58.9 157.0,58.5 158.0,58.3 159.0,58.3 160.0,58.7 161.0,58.9 162.0,59.3 163.0,59.3 164.0,58.2 165.0,57.9 165.9,58.0 166.9,57.6 167.9,57.6 168.9,57.4 169.9,56.9 170.9,57.2 171.9,57.4 172.9,56.4 173.9,56.2 174.9,57.0 175.8,57.6 176.8,57.8 177.8,57.0 178.8,55.8 179.8,55.5 180.8,55.5 181.8,54.3 182.8,53.0 183.8,53.1 184.8,52.9 185.7,51.9 186.7,51.7 187.7,52.1 188.7,52.6 189.7,53.0 190.7,52.7 191.7,52.0 192.7,51.3 193.7,50.8 194.7,50.5 195.6,50.4 196.6,50.7 197.6,51.5 198.6,51.9 199.6,51.3 200.6,51.0 201.6,50.7 202.6,50.6 203.6,50.9 204.6,50.7 205.6,50.0 206.5,49.7 207.5,49.7 208.5,49.3 209.5,49.5 210.5,49.8 211.5,48.9 212.5,48.2 213.5,48.5 214.5,48.1 215.5,47.4 216.4,47.8 217.4,48.2 218.4,47.8 219.4,48.0 220.4,48.6 221.4,48.5 222.4,48.1 223.4,48.2 224.4,48.0 225.4,47.8 226.3,48.4 227.3,48.6 228.3,47.7 229.3,47.1 230.3,47.5 231.3,47.9 232.3,47.4 233.3,46.8 234.3,47.0 235.3,47.8 236.2,47.9 237.2,48.1 238.2,48.6 239.2,48.0 240.2,47.2 241.2,47.6 242.2,47.6 243.2,46.8 244.2,46.3 245.2,46.7 246.2,47.4 247.1,47.1 248.1,46.8 249.1,47.3 250.1,47.4 251.1,46.4 252.1,46.2 253.1,47.8 254.1,48.9 255.1,48.6 256.1,47.8 257.0,47.0 258.0,46.6 259.0,46.9 260.0,47.1 261.0,47.1 262.0,47.2 263.0,47.2 264.0,46.4 265.0,45.3 266.0,45.8 266.9,47.2 267.9,47.6 268.9,47.7 269.9,47.9 270.9,47.8 271.9,47.2 272.9,46.8 273.9,47.2 274.9,47.9 275.9,48.4 276.8,48.2 277.8,47.7 278.8,47.3 279.8,47.1 280.8,47.4 281.8,47.3 282.8,47.4 283.8,48.5 284.8,49.6 285.8,49.5 286.7,48.4 287.7,48.1 288.7,48.6 289.7,49.2 290.7,49.9 291.7,50.5 292.7,50.5 293.7,49.9 294.7,50.0 295.7,50.3 296.7,50.1 297.6,49.5 298.6,49.6 299.6,49.3 300.6,48.5 301.6,48.5 302.6,48.5 303.6,47.8 304.6,47.9 305.6,48.3 306.6,48.7 307.5,49.2 308.5,49.8 309.5,49.7 310.5,49.1 311.5,49.1 312.5,49.0 313.5,49.2 314.5,49.4 315.5,48.9 316.5,48.4 317.4,47.8 318.4,47.5 319.4,47.8 320.4,48.3 321.4,48.6 322.4,48.4 323.4,48.6 324.4,48.9" stroke="#d73025"/>
<path d="M65.9,70.1 66.9,72.4 67.9,74.8 68.9,77.6 69.9,81.0 70.9,84.0 71.9,87.1 72.9,91.3 73.9,94.7 74.8,98.3 75.8,103.2 76.8,106.2 77.8,108.2 78.8,110.4 79.8,112.3 80.8,114.9 81.8,115.9 82.8,116.6 83.8,118.8 84.7,121.0 85.7,122.8 86.7,124.3 87.7,125.6 88.7,127.3 89.7,128.4 90.7,129.5 91.7,131.5 92.7,133.1 93.7,134.6 94.6,136.1 95.6,136.9 96.6,138.6 97.6,140.8 98.6,142.1 99.6,143.4 100.6,144.6 101.6,145.6 102.6,146.5 103.6,147.3 104.6,148.4 105.5,149.4 106.5,150.3 107.5,151.1 108.5,152.1 109.5,151.6 110.5,149.5 111.5,146.2 112.5,142.6 113.5,139.3 114.5,136.8 115.4,134.5 116.4,131.1 117.4,126.5 118.4,121.1 119.4,115.7 120.4,111.5 121.4,107.9 122.4,103.0 123.4,97.1 124.4,91.4 125.3,85.4 126.3,79.4 127.3,74.5 128.3,70.5 129.3,67.1 130.3,63.8 131.3,60.0 132.3,57.2 133.3,54.2 134.3,50.8 135.2,47.9 136.2,46.7 137.2,46.6 138.2,46.7 139.2,46.8 140.2,47.2 141.2,47.4 142.2,48.1 143.2,48.8 144.2,49.3 145.1,50.7 146.1,52.2 147.1,53.6 148.1,54.4 149.1,54.6 150.1,55.5 151.1,56.6 152.1,56.5 153.1,56.2 154.1,56.4 155.1,57.1 156.0,58.2 157.0,57.9 158.0,56.8 159.0,57.2 160.0,58.0 161.0,57.7 162.0,57.9 163.0,58.9 164.0,59.2 165.0,58.4 165.9,57.2 166.9,56.9 167.9,56.8 168.9,56.5 169.9,56.8 170.9,57.6 171.9,57.5 172.9,57.3 173.9,57.4 174.9,56.9 175.8,56.4 176.8,56.5 177.8,56.6 178.8,55.5 179.8,54.3 180.8,55.0 181.8,55.1 182.8,53.7 183.8,52.7 184.8,52.8 185.7,52.9 186.7,52.4 187.7,52.7 188.7,53.0 189.7,52.6 190.7,51.8 191.7,51.1 192.7,51.0 193.7,50.9 194.7,50.7 195.6,50.6 196.6,50.8 197.6,51.8 198.6,51.7 199.6,51.0 200.6,51.1 201.6,51.0 202.6,50.6 203.6,50.7 204.6,50.2 205.6,50.2 206.5,50.7 207.5,49.5 208.5,48.4 209.5,49.2 210.5,49.5 211.5,48.8 212.5,48.7 213.5,49.6 214.5,49.8 215.5,49.3 216.4,49.0 217.4,48.9 218.4,48.9 219.4,49.2 220.4,49.3 221.4,49.5 222.4,49.5 223.4,49.2 224.4,49.3 225.4,49.1 226.3,48.3 227.3,48.8 228.3,49.2 229.3,48.6 230.3,48.6 231.3,48.5 232.3,48.3 233.3,48.3 234.3,48.4 235.3,48.6 236.2,47.9 237.2,47.8 238.2,48.9 239.2,48.6 240.2,48.2 241.2,48.9 242.2,48.5 243.2,47.4 244.2,47.1 245.2,46.8 246.2,47.1 247.1,47.6 248.1,47.4 249.1,47.0 250.1,46.9 251.1,47.1 252.1,47.5 253.1,47.2 254.1,46.7 255.1,47.1 256.1,48.1 257.0,48.1 258.0,47.7 259.0,47.9 260.0,48.1 261.0,48.1 262.0,47.7 263.0,47.0 264.0,46.8 265.0,46.6 266.0,46.4 266.9,46.1 267.9,45.6 268.9,46.0 269.9,47.1 270.9,48.4 271.9,49.2 272.9,48.4 273.9,47.2 274.9,47.1 275.9,47.6 276.8,47.4 277.8,47.5 278.8,48.4 279.8,49.3 280.8,49.0 281.8,48.4 282.8,48.2 283.8,48.7 284.8,49.2 285.8,48.7 286.7,48.6 287.7,48.9 288.7,48.9 289.7,49.2 290.7,50.4 291.7,51.6 292.7,51.5 293.7,50.3 294.7,50.1 295.7,50.6 296.7,50.7 297.6,50.4 298.6,50.3 299.6,50.3 300.6,49.7 301.6,48.6 302.6,49.0 303.6,50.0 304.6,50.4 305.6,49.8 306.6,48.9 307.5,48.7 308.5,49.1 309.5,49.3 310.5,49.7 311.5,49.6 312.5,48.8 313.5,48.1 314.5,48.1 315.5,49.0 316.5,49.3 317.4,48.9 318.4,49.5 319.4,50.3 320.4,50.1 321.4,49.4 322.4,49.1 323.4,49.0 324.4,48.8" stroke="#df3226"/>
<path d="M65.9,69.2 66.9,71.6 67.9,74.5 68.9,77.2 69.9,79.7 70.9,82.5 71.9,85.9 72.9,89.6 73.9,94.0 74.8,98.5 75.8,101.8 76.8,104.0 77.8,105.9 78.8,108.1 79.8,110.4 80.8,112.1 81.8,113.4 82.8,115.3 83.8,117.6 84.7,119.1 85.7,120.5 86.7,121.8 87.7,122.4 88.7,123.3 89.7,124.5 90.7,125.6 91.7,127.5 92.7,129.5 93.7,131.0 94.6,132.5 95.6,133.5 96.6,134.3 97.6,135.2 98.6,136.6 99.6,138.4 100.6,140.3 101.6,141.9 102.6,142.8 103.6,143.3 104.6,143.8 105.5,144.4 106.5,144.9 107.5,145.5 108.5,146.1 109.5,145.3 110.5,143.3 111.5,140.5 112.5,137.9 113.5,135.5 114.5,131.8 115.4,127.7 116.4,124.8 117.4,121.2 118.4,116.5 119.4,111.3 120.4,105.8 121.4,100.9 122.4,95.9 123.4,89.7 124.4,84.0 125.3,79.1 126.3,73.3 127.3,67.8 128.3,63.7 129.3,60.2 130.3,56.7 131.3,53.2 132.3,50.5 133.3,47.7 134.3,44.6 135.2,42.5 136.2,41.7 137.2,41.0 138.2,40.4 139.2,41.1 140.2,42.6 141.2,44.0 142.2,45.2 143.2,46.4 144.2,47.2 145.1,48.6 146.1,50.5 147.1,51.0 148.1,51.2 149.1,52.5 150.1,53.4 151.1,53.7 152.1,54.8 153.1,55.9 154.1,55.9 155.1,55.3 156.0,54.6 157.0,54.7 158.0,55.7 159.0,56.7 160.0,56.9 161.0,56.7 162.0,56.8 163.0,57.0 164.0,56.3 165.0,55.7 165.9,55.8 166.9,56.0 167.9,56.7 168.9,57.1 169.9,56.4 170.9,55.3 171.9,55.2 172.9,55.6 173.9,55.5 174.9,55.3 175.8,54.9 176.8,55.1 177.8,55.3 178.8,55.1 179.8,55.2 180.8,55.5 181.8,54.9 182.8,53.8 183.8,53.2 184.8,53.1 185.7,52.6 186.7,52.1 187.7,52.5 188.7,52.4 189.7,51.3 190.7,50.9 191.7,51.8 192.7,52.7 193.7,52.2 194.7,51.4 195.6,50.9 196.6,50.9 197.6,51.4 198.6,51.3 199.6,50.9 200.6,50.5 201.6,50.3 202.6,50.5 203.6,51.2 204.6,51.9 205.6,51.7 206.5,51.4 207.5,50.9 208.5,49.7 209.5,49.3 210.5,50.1 211.5,50.7 212.5,50.7 213.5,50.1 214.5,49.4 215.5,49.3 216.4,49.7 217.4,50.5 218.4,51.2 219.4,51.0 220.4,50.4 221.4,49.8 222.4,49.7 223.4,50.1 224.4,49.6 225.4,49.1 226.3,49.8 227.3,50.2 228.3,49.9 229.3,49.9 230.3,49.6 231.3,48.7 232.3,48.7 233.3,49.7 234.3,49.6 235.3,49.1 236.2,49.2 237.2,49.2 238.2,49.0 239.2,48.6 240.2,48.9 241.2,49.1 242.2,48.8 243.2,48.8 244.2,48.6 245.2,48.2 246.2,48.4 247.1,48.6 248.1,48.9 249.1,49.3 250.1,49.5 251.1,49.2 252.1,48.8 253.1,49.1 254.1,49.1 255.1,48.4 256.1,48.5 257.0,48.7 258.0,47.9 259.0,47.9 260.0,48.1 261.0,47.7 262.0,48.1 263.0,48.0 264.0,47.6 265.0,48.3 266.0,48.4 266.9,48.1 267.9,48.6 268.9,48.5 269.9,47.5 270.9,47.2 271.9,48.2 272.9,48.5 273.9,48.1 274.9,48.7 275.9,49.1 276.8,48.8 277.8,48.5 278.8,48.3 279.8,48.0 280.8,48.1 281.8,48.6 282.8,49.2 283.8,49.9 284.8,49.9 285.8,49.8 286.7,50.1 287.7,50.5 288.7,50.5 289.7,49.5 290.7,49.5 291.7,50.7 292.7,51.3 293.7,51.1 294.7,50.7 295.7,50.7 296.7,51.0 297.6,51.0 298.6,51.0 299.6,50.9 300.6,50.5 301.6,50.3 302.6,50.0 303.6,49.6 304.6,49.4 305.6,49.4 306.6,49.6 307.5,50.0 308.5,49.9 309.5,49.8 310.5,49.8 311.5,49.6 312.5,49.9 313.5,50.6 314.5,50.7 315.5,50.3 316.5,50.2 317.4,50.9 318.4,51.4 319.4,50.6 320.4,49.9 321.4,50.2 322.4,50.4 323.4,50.7 324.4,51.1" stroke="#e83326"/>
<path d="M65.9,69.5 66.9,71.5 67.9,73.8 68.9,76.4 69.9,79.5 70.9,82.7 71.9,85.6 72.9,88.4 73.9,91.6 74.8,95.7 75.8,100.0 76.8,103.6 77.8,105.6 78.8,107.3 79.8,109.9 80.8,111.8 81.8,112.9 82.8,113.5 83.8,114.8 84.7,116.9 85.7,117.7 86.7,118.3 87.7,120.1 88.7,121.1 89.7,121.2 90.7,122.1 91.7,124.6 92.7,126.2 93.7,126.3 94.6,127.2 95.6,129.8 96.6,131.6 97.6,131.8 98.6,132.6 99.6,133.8 100.6,135.3 101.6,136.8 102.6,137.4 103.6,137.3 104.6,138.5 105.5,140.9 106.5,141.3 107.5,140.5 108.5,141.3 109.5,140.8 110.5,138.2 111.5,135.4 112.5,132.6 113.5,129.9 114.5,126.8 115.4,123.2 116.4,119.3 117.4,114.9 118.4,109.7 119.4,104.0 120.4,98.6 121.4,94.1 122.4,89.5 123.4,84.2 124.4,78.2 125.3,72.1 126.3,66.2 127.3,60.6 128.3,56.7 129.3,54.1 130.3,51.1 131.3,47.8 132.3,45.2 133.3,43.2 134.3,41.6 135.2,39.6 136.2,37.5 137.2,36.3 138.2,36.6 139.2,37.5 140.2,38.1 141.2,39.1 142.2,40.3 143.2,41.7 144.2,43.7 145.1,45.6 146.1,47.4 147.1,48.7 148.1,49.4 149.1,49.6 150.1,50.0 151.1,50.6 152.1,51.6 153.1,52.5 154.1,52.8 155.1,53.0 156.0,53.1 157.0,53.7 158.0,54.5 159.0,54.5 160.0,54.5 161.0,54.5 162.0,53.9 163.0,53.7 164.0,54.7 165.0,55.8 165.9,56.3 166.9,55.8 167.9,55.9 168.9,56.3 169.9,55.5 170.9,55.1 171.9,55.7 172.9,56.0 173.9,55.8 174.9,55.6 175.8,56.0 176.8,55.3 177.8,54.1 178.8,54.2 179.8,54.4 180.8,54.5 181.8,54.6 182.8,53.8 183.8,53.3 184.8,53.4 185.7,52.7 186.7,51.8 187.7,52.2 188.7,53.3 189.7,53.7 190.7,53.1 191.7,51.9 192.7,51.3 193.7,51.7 194.7,52.5 195.6,52.6 196.6,52.0 197.6,51.8 198.6,52.0 199.6,51.5 200.6,51.0 201.6,51.4 202.6,52.4 203.6,52.7 204.6,51.9 205.6,51.2 206.5,51.3 207.5,51.5 208.5,51.3 209.5,50.8 210.5,50.7 211.5,51.1 212.5,51.4 213.5,51.3 214.5,51.1 215.5,51.5 216.4,51.6 217.4,50.8 218.4,50.0 219.4,49.7 220.4,49.7 221.4,50.2 222.4,51.0 223.4,51.3 224.4,50.6 225.4,49.6 226.3,49.5 227.3,49.6 228.3,49.6 229.3,50.0 230.3,50.2 231.3,49.9 232.3,49.6 233.3,49.5 234.3,49.6 235.3,49.9 236.2,50.3 237.2,50.4 238.2,50.1 239.2,50.1 240.2,50.6 241.2,49.8 242.2,48.6 243.2,49.5 244.2,50.3 245.2,49.5 246.2,48.9 247.1,49.1 248.1,49.2 249.1,49.3 250.1,48.8 251.1,47.8 252.1,48.6 253.1,49.7 254.1,49.6 255.1,49.1 256.1,48.7 257.0,48.7 258.0,49.3 259.0,49.8 260.0,49.4 261.0,49.3 262.0,49.8 263.0,50.2 264.0,50.0 265.0,49.7 266.0,49.7 266.9,49.9 267.9,49.5 268.9,49.4 269.9,49.9 270.9,50.1 271.9,49.6 272.9,49.7 273.9,50.5 274.9,50.7 275.9,50.5 276.8,50.0 277.8,49.4 278.8,49.8 279.8,50.1 280.8,49.7 281.8,48.9 282.8,48.7 283.8,49.7 284.8,51.0 285.8,51.2 286.7,50.5 287.7,50.8 288.7,51.2 289.7,51.5 290.7,51.9 291.7,51.7 292.7,51.6 293.7,51.9 294.7,52.0 295.7,51.9 296.7,51.7 297.6,51.0 298.6,50.3 299.6,50.4 300.6,50.4 301.6,51.2 302.6,51.9 303.6,51.1 304.6,50.6 305.6,50.8 306.6,51.1 307.5,51.6 308.5,51.1 309.5,50.1 310.5,49.9 311.5,50.8 312.5,50.9 313.5,50.3 314.5,50.2 315.5,49.8 316.5,50.3 317.4,50.8 318.4,49.9 319.4,49.9 320.4,50.6 321.4,50.3 322.4,50.0 323.4,50.1 324.4,50.5" stroke="#ed3526"/>
<path d="M65.9,69.8 66.9,71.2 67.9,72.5 68.9,74.4 69.9,77.3 70.9,81.1 71.9,84.9 72.9,88.6 73.9,92.4 74.8,96.1 75.8,100.0 76.8,103.2 77.8,104.6 78.8,105.3 79.8,106.2 80.8,108.2 81.8,110.3 82.8,111.6 83.8,113.2 84.7,114.7 85.7,115.3 86.7,115.0 87.7,115.9 88.7,117.6 89.7,118.1 90.7,118.4 91.7,119.6 92.7,121.3 93.7,123.2 94.6,124.5 95.6,125.0 96.6,126.0 97.6,127.9 98.6,129.0 99.6,129.6 100.6,130.5 101.6,131.2 102.6,131.8 103.6,132.2 104.6,132.5 105.5,133.5 106.5,134.8 107.5,135.8 108.5,135.6 109.5,133.3 110.5,130.4 111.5,127.3 112.5,124.4 113.5,122.2 114.5,119.4 115.4,115.8 116.4,112.1 117.4,107.9 118.4,102.6 119.4,97.1 120.4,92.3 121.4,87.6 122.4,82.6 123.4,77.2 124.4,71.4 125.3,65.8 126.3,60.7 127.3,55.3 128.3,50.6 129.3,47.6 130.3,44.7 131.3,42.6 132.3,40.6 133.3,37.1 134.3,34.5 135.2,33.1 136.2,32.2 137.2,32.2 138.2,32.4 139.2,32.7 140.2,33.0 141.2,33.9 142.2,36.0 143.2,37.2 144.2,38.8 145.1,41.7 146.1,43.3 147.1,43.7 148.1,44.8 149.1,45.6 150.1,46.5 151.1,48.3 152.1,50.3 153.1,51.3 154.1,51.1 155.1,51.1 156.0,51.2 157.0,51.8 158.0,52.3 159.0,51.6 160.0,51.5 161.0,52.5 162.0,53.7 163.0,54.0 164.0,54.0 165.0,54.3 165.9,54.4 166.9,54.0 167.9,53.8 168.9,54.2 169.9,54.2 170.9,53.9 171.9,54.9 172.9,56.3 173.9,55.9 174.9,54.8 175.8,54.4 176.8,54.8 177.8,55.1 178.8,54.8 179.8,54.3 180.8,54.3 181.8,54.5 182.8,54.0 183.8,53.4 184.8,53.7 185.7,53.9 186.7,53.2 187.7,52.9 188.7,52.6 189.7,52.0 190.7,51.6 191.7,51.8 192.7,52.5 193.7,52.9 194.7,52.6 195.6,51.6 196.6,51.1 197.6,51.4 198.6,52.4 199.6,52.8 200.6,51.7 201.6,51.4 202.6,51.8 203.6,51.6 204.6,51.3 205.6,51.7 206.5,52.1 207.5,51.7 208.5,51.8 209.5,51.5 210.5,50.6 211.5,50.7 212.5,51.9 213.5,52.5 214.5,51.7 215.5,51.1 216.4,51.6 217.4,52.2 218.4,52.4 219.4,52.1 220.4,51.3 221.4,50.5 222.4,50.7 223.4,51.2 224.4,51.1 225.4,50.9 226.3,51.3 227.3,50.7 228.3,49.9 229.3,50.1 230.3,50.6 231.3,50.9 232.3,51.5 233.3,51.8 234.3,51.0 235.3,49.7 236.2,49.1 237.2,49.4 238.2,50.0 239.2,50.6 240.2,51.0 241.2,50.7 242.2,50.5 243.2,50.6 244.2,50.5 245.2,51.2 246.2,51.9 247.1,51.9 248.1,51.9 249.1,51.2 250.1,50.2 251.1,50.1 252.1,49.9 253.1,49.3 254.1,49.4 255.1,49.8 256.1,49.5 257.0,49.6 258.0,50.0 259.0,50.3 260.0,51.0 261.0,50.9 262.0,50.2 263.0,49.9 264.0,50.2 265.0,50.0 266.0,49.3 266.9,48.9 267.9,49.0 268.9,49.4 269.9,50.1 270.9,50.4 271.9,50.2 272.9,50.5 273.9,50.2 274.9,49.7 275.9,50.3 276.8,50.9 277.8,50.0 278.8,49.5 279.8,49.8 280.8,50.2 281.8,50.8 282.8,51.4 283.8,51.5 284.8,50.9 285.8,50.7 286.7,51.2 287.7,51.4 288.7,52.0 289.7,52.2 290.7,51.7 291.7,51.8 292.7,52.7 293.7,53.3 294.7,53.1 295.7,52.3 296.7,51.4 297.6,51.6 298.6,52.4 299.6,52.6 300.6,52.7 301.6,52.2 302.6,51.5 303.6,51.3 304.6,51.5 305.6,51.8 306.6,51.5 307.5,51.1 308.5,52.1 309.5,52.5 310.5,52.0 311.5,52.0 312.5,51.7 313.5,51.3 314.5,51.4 315.5,51.4 316.5,51.2 317.4,50.5 318.4,50.5 319.4,51.4 320.4,51.9 321.4,51.9 322.4,51.3 323.4,51.2 324.4,51.9" stroke="#ee3625"/>
<path d="M65.9,68.7 66.9,71.6 67.9,74.5 68.9,76.3 69.9,77.7 70.9,80.5 71.9,84.1 72.9,87.4 73.9,91.2 74.8,95.4 75.8,97.9 76.8,99.7 77.8,102.3 78.8,104.4 79.8,105.9 80.8,107.5 81.8,108.3 82.8,108.7 83.8,109.7 84.7,110.8 85.7,111.7 86.7,112.3 87.7,112.6 88.7,112.8 89.7,113.9 90.7,116.1 91.7,117.7 92.7,117.7 93.7,118.5 94.6,120.8 95.6,122.7 96.6,123.0 97.6,123.3 98.6,124.6 99.6,125.6 100.6,125.8 101.6,126.2 102.6,127.4 103.6,128.5 104.6,128.8 105.5,128.5 106.5,128.9 107.5,130.0 108.5,130.6 109.5,128.8 110.5,126.0 111.5,123.2 112.5,119.7 113.5,116.5 114.5,113.3 115.4,109.6 116.4,105.9 117.4,101.7 118.4,95.7 119.4,89.7 120.4,85.6 121.4,80.8 122.4,75.1 123.4,70.2 124.4,65.4 125.3,59.6 126.3,53.2 127.3,47.4 128.3,43.4 129.3,40.6 130.3,38.0 131.3,36.0 132.3,33.9 133.3,31.6 134.3,29.1 135.2,27.0 136.2,26.5 137.2,26.8 138.2,26.8 139.2,28.0 140.2,29.6 141.2,31.0 142.2,32.6 143.2,33.8 144.2,35.0 145.1,36.7 146.1,38.3 147.1,40.0 148.1,41.9 149.1,43.6 150.1,44.7 151.1,45.9 152.1,46.8 153.1,47.4 154.1,48.3 155.1,49.8 156.0,50.5 157.0,50.2 158.0,50.0 159.0,50.2 160.0,50.2 161.0,50.4 162.0,51.2 163.0,52.2 164.0,53.1 165.0,53.5 165.9,53.2 166.9,53.0 167.9,53.1 168.9,53.4 169.9,53.6 170.9,53.5 171.9,53.7 172.9,53.9 173.9,54.2 174.9,54.8 175.8,55.0 176.8,54.4 177.8,54.1 178.8,54.5 179.8,53.9 180.8,53.1 181.8,53.6 182.8,53.8 183.8,53.6 184.8,53.8 185.7,52.9 186.7,51.9 187.7,51.9 188.7,52.2 189.7,52.4 190.7,52.4 191.7,52.3 192.7,52.7 193.7,52.9 194.7,52.5 195.6,52.0 196.6,52.0 197.6,52.6 198.6,53.1 199.6,51.8 200.6,50.6 201.6,51.2 202.6,52.4 203.6,52.8 204.6,52.7 205.6,52.6 206.5,52.3 207.5,52.1 208.5,51.5 209.5,51.8 210.5,52.8 211.5,52.7 212.5,52.8 213.5,53.2 214.5,52.9 215.5,52.1 216.4,52.0 217.4,52.3 218.4,51.4 219.4,50.5 220.4,51.0 221.4,51.5 222.4,52.1 223.4,52.4 224.4,51.9 225.4,51.4 226.3,50.7 227.3,50.1 228.3,50.7 229.3,51.0 230.3,51.2 231.3,52.4 232.3,52.8 233.3,52.4 234.3,51.9 235.3,51.5 236.2,51.1 237.2,50.4 238.2,50.1 239.2,50.8 240.2,51.3 241.2,51.0 242.2,51.1 243.2,51.7 244.2,51.3 245.2,50.8 246.2,50.6 247.1,50.1 248.1,50.4 249.1,51.3 250.1,51.6 251.1,51.4 252.1,51.3 253.1,51.2 254.1,50.8 255.1,50.4 256.1,50.5 257.0,51.3 258.0,51.4 259.0,50.5 260.0,50.3 261.0,50.2 262.0,50.2 263.0,50.1 264.0,49.8 265.0,50.0 266.0,50.6 266.9,51.2 267.9,51.0 268.9,50.9 269.9,51.2 270.9,51.0 271.9,50.5 272.9,50.6 273.9,51.7 274.9,51.8 275.9,51.3 276.8,51.0 277.8,51.1 278.8,51.4 279.8,51.4 280.8,51.0 281.8,51.0 282.8,51.6 283.8,52.2 284.8,52.6 285.8,52.1 286.7,51.8 287.7,52.2 288.7,52.6 289.7,54.0 290.7,54.7 291.7,54.3 292.7,53.7 293.7,53.3 294.7,53.2 295.7,53.0 296.7,52.7 297.6,53.3 298.6,53.9 299.6,53.1 300.6,52.3 301.6,53.1 302.6,52.6 303.6,51.4 304.6,51.8 305.6,52.5 306.6,52.1 307.5,51.4 308.5,51.5 309.5,52.1 310.5,51.9 311.5,51.5 312.5,51.1 313.5,51.2 314.5,52.3 315.5,52.9 316.5,51.9 317.4,51.0 318.4,51.3 319.4,51.2 320.4,51.1 321.4,51.9 322.4,52.1 323.4,52.2 324.4,52.3" stroke="#f03725"/>
<path d="M65.9,68.1 66.9,69.9 67.9,73.0 68.9,76.1 69.9,78.6 70.9,80.8 71.9,83.3 72.9,86.7 73.9,90.6 74.8,93.7 75.8,96.4 76.8,99.1 77.8,100.9 78.8,102.6 79.8,104.7 80.8,105.9 81.8,106.0 82.8,106.3 83.8,107.5 84.7,109.5 85.7,110.8 86.7,111.1 87.7,110.6 88.7,109.9 89.7,110.5 90.7,111.6 91.7,112.5 92.7,113.4 93.7,114.7 94.6,115.7 95.6,117.3 96.6,119.0 97.6,119.2 98.6,119.2 99.6,120.5 100.6,121.8 101.6,122.7 102.6,123.0 103.6,123.0 104.6,123.9 105.5,125.6 106.5,126.5 107.5,125.9 108.5,125.5 109.5,123.6 110.5,119.9 111.5,117.1 112.5,114.7 113.5,110.8 114.5,107.3 115.4,103.9 116.4,99.9 117.4,95.8 118.4,90.8 119.4,85.3 120.4,79.5 121.4,73.9 122.4,69.4 123.4,64.6 124.4,58.5 125.3,52.4 126.3,46.8 127.3,41.8 128.3,38.6 129.3,36.1 130.3,32.9 131.3,30.3 132.3,28.4 133.3,25.5 134.3,23.2 135.2,22.6 136.2,22.0 137.2,21.7 138.2,22.7 139.2,24.3 140.2,25.4 141.2,26.1 142.2,27.5 143.2,29.6 144.2,31.1 145.1,32.3 146.1,34.6 147.1,37.2 148.1,38.7 149.1,39.6 150.1,41.0 151.1,42.7 152.1,44.3 153.1,45.7 154.1,46.8 155.1,47.1 156.0,47.4 157.0,48.1 158.0,49.0 159.0,49.8 160.0,50.5 161.0,50.7 162.0,50.5 163.0,50.8 164.0,51.4 165.0,52.0 165.9,52.5 166.9,53.1 167.9,53.3 168.9,52.9 169.9,52.8 170.9,53.0 171.9,53.3 172.9,53.2 173.9,53.3 174.9,53.4 175.8,53.5 176.8,54.0 177.8,54.3 178.8,54.2 179.8,54.1 180.8,53.5 181.8,52.9 182.8,53.0 183.8,53.8 184.8,54.2 185.7,53.8 186.7,53.1 187.7,52.8 188.7,53.2 189.7,53.2 190.7,53.0 191.7,53.3 192.7,52.9 193.7,51.9 194.7,51.7 195.6,52.3 196.6,53.0 197.6,53.3 198.6,53.0 199.6,52.8 200.6,53.0 201.6,53.2 202.6,53.2 203.6,53.0 204.6,52.4 205.6,52.0 206.5,52.8 207.5,53.9 208.5,54.2 209.5,54.2 210.5,53.5 211.5,52.7 212.5,52.7 213.5,53.0 214.5,53.1 215.5,53.5 216.4,54.1 217.4,54.1 218.4,53.3 219.4,52.6 220.4,52.8 221.4,52.1 222.4,51.8 223.4,52.5 224.4,53.0 225.4,53.1 226.3,52.7 227.3,52.4 228.3,52.3 229.3,51.8 230.3,51.7 231.3,52.1 232.3,52.4 233.3,52.4 234.3,52.7 235.3,52.9 236.2,52.5 237.2,52.5 238.2,52.3 239.2,51.8 240.2,52.6 241.2,53.0 242.2,52.9 243.2,53.5 244.2,53.6 245.2,53.5 246.2,53.2 247.1,52.5 248.1,51.8 249.1,51.3 250.1,51.1 251.1,51.1 252.1,51.6 253.1,51.9 254.1,51.7 255.1,52.2 256.1,52.1 257.0,51.2 258.0,51.1 259.0,51.5 260.0,51.3 261.0,51.7 262.0,52.5 263.0,52.7 264.0,52.6 265.0,52.4 266.0,51.9 266.9,51.3 267.9,51.5 268.9,52.3 269.9,52.5 270.9,52.6 271.9,52.2 272.9,51.7 273.9,52.3 274.9,53.1 275.9,52.7 276.8,52.0 277.8,51.7 278.8,52.0 279.8,52.6 280.8,52.6 281.8,52.6 282.8,52.5 283.8,52.2 284.8,52.4 285.8,52.9 286.7,53.4 287.7,54.1 288.7,54.2 289.7,53.5 290.7,53.9 291.7,54.8 292.7,54.7 293.7,53.7 294.7,52.7 295.7,52.6 296.7,53.4 297.6,54.3 298.6,53.9 299.6,53.0 300.6,52.8 301.6,52.9 302.6,52.7 303.6,51.8 304.6,51.8 305.6,52.9 306.6,53.0 307.5,52.3 308.5,52.4 309.5,52.0 310.5,51.9 311.5,52.9 312.5,53.1 313.5,52.9 314.5,52.7 315.5,52.1 316.5,51.7 317.4,52.1 318.4,52.5 319.4,52.5 320.4,52.9 321.4,52.7 322.4,52.1 323.4,53.0 324.4,53.4" stroke="#f23824"/>
<path d="M65.9,68.4 66.9,71.2 67.9,73.4 68.9,74.8 69.9,77.4 70.9,80.3 71.9,83.1 72.9,86.5 73.9,89.8 74.8,91.9 75.8,94.0 76.8,96.8 77.8,99.5 78.8,101.8 79.8,103.0 80.8,103.6 81.8,103.8 82.8,104.3 83.8,104.9 84.7,105.6 85.7,106.5 86.7,106.9 87.7,106.9 88.7,107.7 89.7,108.4 90.7,108.6 91.7,109.1 92.7,109.4 93.7,110.0 94.6,111.1 95.6,112.3 96.6,113.1 97.6,114.2 98.6,115.7 99.6,116.4 100.6,117.3 101.6,118.1 102.6,118.2 103.6,118.3 104.6,118.0 105.5,118.7 106.5,119.8 107.5,118.7 108.5,116.7 109.5,115.0 110.5,112.9 111.5,111.0 112.5,108.9 113.5,105.4 114.5,100.9 115.4,97.0 116.4,93.5 117.4,88.7 118.4,83.3 119.4,78.3 120.4,72.4 121.4,65.7 122.4,60.4 123.4,55.7 124.4,50.4 125.3,45.7 126.3,41.7 127.3,36.9 128.3,32.3 129.3,28.5 130.3,25.4 131.3,23.6 132.3,22.9 133.3,21.3 134.3,19.0 135.2,17.9 136.2,18.5 137.2,18.8 138.2,18.1 139.2,18.7 140.2,20.8 141.2,22.3 142.2,23.6 143.2,25.4 144.2,27.2 145.1,29.0 146.1,31.6 147.1,34.1 148.1,36.4 149.1,38.6 150.1,39.4 151.1,39.7 152.1,41.2 153.1,42.9 154.1,44.2 155.1,45.5 156.0,45.9 157.0,45.7 158.0,46.6 159.0,47.5 160.0,47.4 161.0,47.6 162.0,48.7 163.0,49.8 164.0,51.2 165.0,51.8 165.9,51.1 166.9,51.0 167.9,51.7 168.9,52.3 169.9,52.4 170.9,51.8 171.9,51.8 172.9,53.2 173.9,53.9 174.9,53.1 175.8,52.9 176.8,53.3 177.8,53.0 178.8,52.6 179.8,53.1 180.8,54.0 181.8,54.7 182.8,54.6 183.8,54.1 184.8,53.6 185.7,53.5 186.7,53.4 187.7,53.1 188.7,53.7 189.7,53.9 190.7,53.8 191.7,53.9 192.7,53.4 193.7,53.1 194.7,53.0 195.6,52.6 196.6,52.9 197.6,53.6 198.6,54.4 199.6,54.8 200.6,54.4 201.6,54.0 202.6,53.6 203.6,53.8 204.6,54.8 205.6,55.2 206.5,54.4 207.5,53.4 208.5,53.6 209.5,54.2 210.5,54.0 211.5,53.4 212.5,53.4 213.5,54.1 214.5,54.2 215.5,53.4 216.4,52.9 217.4,52.8 218.4,52.8 219.4,53.4 220.4,53.5 221.4,53.1 222.4,53.2 223.4,53.6 224.4,53.7 225.4,53.6 226.3,53.0 227.3,52.8 228.3,52.8 229.3,52.9 230.3,53.8 231.3,53.5 232.3,52.7 233.3,53.6 234.3,54.0 235.3,52.9 236.2,53.0 237.2,53.6 238.2,53.5 239.2,54.0 240.2,54.3 241.2,53.8 242.2,53.8 243.2,54.0 244.2,53.9 245.2,53.7 246.2,53.4 247.1,52.9 248.1,52.8 249.1,53.4 250.1,54.2 251.1,54.1 252.1,53.1 253.1,52.0 254.1,52.3 255.1,52.8 256.1,52.9 257.0,53.0 258.0,52.8 259.0,52.6 260.0,52.4 261.0,52.4 262.0,52.8 263.0,53.0 264.0,53.3 265.0,52.9 266.0,51.2 266.9,50.2 267.9,51.4 268.9,52.9 269.9,53.1 270.9,53.0 271.9,53.7 272.9,53.7 273.9,53.3 274.9,53.1 275.9,52.3 276.8,52.2 277.8,53.3 278.8,53.9 279.8,54.4 280.8,54.2 281.8,53.3 282.8,52.8 283.8,53.0 284.8,53.4 285.8,53.8 286.7,54.1 287.7,54.5 288.7,54.0 289.7,53.0 290.7,53.2 291.7,54.3 292.7,54.3 293.7,53.3 294.7,53.5 295.7,54.8 296.7,54.8 297.6,53.9 298.6,53.7 299.6,54.0 300.6,53.9 301.6,53.2 302.6,52.5 303.6,53.0 304.6,53.8 305.6,53.6 306.6,53.1 307.5,53.3 308.5,54.0 309.5,54.2 310.5,54.5 311.5,54.8 312.5,54.9 313.5,54.9 314.5,54.7 315.5,54.2 316.5,53.5 317.4,53.2 318.4,53.9 319.4,54.1 320.4,54.1 321.4,55.1 322.4,55.1 323.4,53.7 324.4,53.2" stroke="#f33924"/>
<path d="M65.9,67.2 66.9,69.7 67.9,72.4 68.9,74.2 69.9,76.1 70.9,79.1 71.9,82.2 72.9,85.4 73.9,88.3 74.8,90.5 75.8,93.5 76.8,96.8 77.8,98.5 78.8,99.2 79.8,99.9 80.8,100.9 81.8,101.8 82.8,102.7 83.8,102.6 84.7,101.7 85.7,101.8 86.7,102.8 87.7,102.8 88.7,102.4 89.7,103.0 90.7,103.6 91.7,103.8 92.7,104.3 93.7,104.8 94.6,106.0 95.6,107.4 96.6,108.3 97.6,109.2 98.6,110.5 99.6,110.8 100.6,111.0 101.6,111.7 102.6,111.7 103.6,111.8 104.6,112.2 105.5,112.0 106.5,111.7 107.5,111.2 108.5,111.0 109.5,109.7 110.5,106.7 111.5,102.9 112.5,100.1 113.5,98.0 114.5,94.8 115.4,90.9 116.4,86.4 117.4,80.7 118.4,75.2 119.4,70.5 120.4,65.0 121.4,59.7 122.4,55.3 123.4,50.2 124.4,44.8 125.3,39.1 126.3,34.1 127.3,29.9 128.3,26.0 129.3,22.9 130.3,20.3 131.3,18.2 132.3,16.7 133.3,15.1 134.3,14.0 135.2,13.7 136.2,13.9 137.2,13.6 138.2,13.3 139.2,14.8 140.2,17.6 141.2,19.1 142.2,20.5 143.2,23.1 144.2,24.6 145.1,25.3 146.1,27.6 147.1,30.3 148.1,31.6 149.1,33.1 150.1,35.2 151.1,37.2 152.1,39.1 153.1,41.0 154.1,41.9 155.1,42.3 156.0,42.8 157.0,43.5 158.0,45.6 159.0,47.4 160.0,47.4 161.0,47.2 162.0,47.7 163.0,48.6 164.0,49.1 165.0,49.1 165.9,49.8 166.9,50.3 167.9,51.1 168.9,51.6 169.9,51.9 170.9,53.1 171.9,53.3 172.9,52.7 173.9,52.8 174.9,52.8 175.8,53.3 176.8,53.2 177.8,52.7 178.8,53.3 179.8,54.2 180.8,54.5 181.8,54.2 182.8,53.4 183.8,53.2 184.8,53.7 185.7,53.9 186.7,54.0 187.7,54.5 188.7,54.5 189.7,54.2 190.7,54.3 191.7,54.2 192.7,54.4 193.7,54.0 194.7,53.0 195.6,52.8 196.6,53.1 197.6,53.4 198.6,53.3 199.6,53.0 200.6,52.6 201.6,52.6 202.6,53.5 203.6,54.0 204.6,55.0 205.6,56.3 206.5,55.8 207.5,54.3 208.5,54.0 209.5,54.0 210.5,53.4 211.5,53.3 212.5,53.7 213.5,53.1 214.5,52.8 215.5,53.8 216.4,54.3 217.4,53.8 218.4,54.1 219.4,54.5 220.4,54.5 221.4,54.3 222.4,53.7 223.4,53.3 224.4,53.4 225.4,53.9 226.3,54.7 227.3,54.4 228.3,54.0 229.3,53.6 230.3,53.0 231.3,53.8 232.3,54.4 233.3,53.6 234.3,53.6 235.3,54.1 236.2,54.2 237.2,53.8 238.2,53.4 239.2,53.6 240.2,54.0 241.2,53.8 242.2,53.3 243.2,54.3 244.2,55.7 245.2,55.5 246.2,54.7 247.1,54.3 248.1,53.7 249.1,53.3 250.1,53.4 251.1,53.8 252.1,53.5 253.1,53.1 254.1,53.7 255.1,53.5 256.1,52.9 257.0,53.8 258.0,54.7 259.0,54.3 260.0,53.9 261.0,53.7 262.0,53.2 263.0,53.3 264.0,53.6 265.0,53.3 266.0,53.3 266.9,53.5 267.9,53.5 268.9,53.7 269.9,54.0 270.9,54.1 271.9,54.2 272.9,54.7 273.9,54.5 274.9,53.6 275.9,53.7 276.8,54.1 277.8,54.1 278.8,54.0 279.8,54.0 280.8,54.3 281.8,54.3 282.8,54.1 283.8,54.1 284.8,54.5 285.8,55.4 286.7,55.3 287.7,54.4 288.7,54.7 289.7,55.1 290.7,55.1 291.7,55.4 292.7,55.8 293.7,56.3 294.7,56.0 295.7,55.3 296.7,54.6 297.6,54.5 298.6,54.6 299.6,54.3 300.6,55.1 301.6,56.4 302.6,55.9 303.6,54.4 304.6,54.3 305.6,55.0 306.6,55.3 307.5,54.9 308.5,54.1 309.5,53.7 310.5,53.6 311.5,54.7 312.5,55.5 313.5,54.7 314.5,54.5 315.5,54.3 316.5,53.8 317.4,53.9 318.4,53.9 319.4,54.4 320.4,54.7 321.4,54.6 322.4,54.3 323.4,53.7 324.4,53.7" stroke="#f53a23"/>
<path d="M65.9,66.8 66.9,68.3 67.9,70.3 68.9,72.5 69.9,74.7 70.9,77.1 71.9,79.9 72.9,83.0 73.9,85.9 74.8,88.8 75.8,92.0 76.8,94.3 77.8,95.3 78.8,96.1 79.8,97.1 80.8,97.0 81.8,96.8 82.8,97.8 83.8,98.8 84.7,98.4 85.7,97.9 86.7,98.0 87.7,97.7 88.7,97.7 89.7,98.3 90.7,99.2 91.7,100.0 92.7,100.5 93.7,100.9 94.6,101.4 95.6,102.2 96.6,103.2 97.6,103.7 98.6,104.6 99.6,105.9 100.6,106.6 101.6,106.7 102.6,106.8 103.6,106.8 104.6,107.1 105.5,107.0 106.5,106.3 107.5,106.0 108.5,105.7 109.5,104.0 110.5,101.0 111.5,97.5 112.5,94.8 113.5,92.0 114.5,88.4 115.4,84.7 116.4,80.1 117.4,74.9 118.4,69.6 119.4,64.1 120.4,59.3 121.4,54.6 122.4,49.0 123.4,43.8 124.4,39.3 125.3,34.7 126.3,29.7 127.3,25.4 128.3,21.9 129.3,18.6 130.3,16.8 131.3,15.8 132.3,14.3 133.3,12.4 134.3,11.1 135.2,10.5 136.2,10.2 137.2,10.9 138.2,12.7 139.2,14.3 140.2,15.7 141.2,16.6 142.2,17.8 143.2,20.4 144.2,23.3 145.1,25.0 146.1,26.6 147.1,28.9 148.1,30.9 149.1,33.0 150.1,35.1 151.1,36.1 152.1,37.2 153.1,39.0 154.1,40.9 155.1,42.2 156.0,42.9 157.0,43.4 158.0,44.1 159.0,44.5 160.0,44.5 161.0,45.6 162.0,47.4 163.0,47.9 164.0,47.7 165.0,48.3 165.9,48.4 166.9,48.9 167.9,50.3 168.9,51.1 169.9,51.5 170.9,52.3 171.9,52.8 172.9,52.5 173.9,52.4 174.9,52.9 175.8,53.5 176.8,54.0 177.8,53.9 178.8,53.8 179.8,54.7 180.8,54.5 181.8,54.0 182.8,54.2 183.8,53.5 184.8,53.3 185.7,54.0 186.7,54.3 187.7,54.4 188.7,54.0 189.7,53.8 190.7,53.6 191.7,53.3 192.7,53.3 193.7,53.3 194.7,53.9 195.6,54.7 196.6,54.4 197.6,54.4 198.6,54.7 199.6,54.1 200.6,54.0 201.6,54.5 202.6,54.9 203.6,54.7 204.6,54.5 205.6,54.7 206.5,55.2 207.5,55.4 208.5,54.8 209.5,55.5 210.5,56.4 211.5,56.1 212.5,55.3 213.5,55.0 214.5,55.1 215.5,55.2 216.4,54.7 217.4,53.9 218.4,53.6 219.4,54.1 220.4,54.8 221.4,55.2 222.4,55.2 223.4,54.8 224.4,54.9 225.4,56.0 226.3,56.3 227.3,56.3 228.3,56.3 229.3,56.1 230.3,56.1 231.3,56.0 232.3,55.2 233.3,55.0 234.3,55.7 235.3,55.6 236.2,55.1 237.2,55.2 238.2,55.1 239.2,54.4 240.2,54.1 241.2,54.3 242.2,54.3 243.2,53.4 244.2,53.5 245.2,54.6 246.2,54.6 247.1,54.4 248.1,54.8 249.1,54.7 250.1,54.8 251.1,55.1 252.1,55.4 253.1,55.7 254.1,55.9 255.1,55.2 256.1,53.6 257.0,52.9 258.0,53.5 259.0,53.9 260.0,53.7 261.0,53.4 262.0,53.5 263.0,54.1 264.0,54.7 265.0,54.7 266.0,55.1 266.9,55.6 267.9,55.4 268.9,54.4 269.9,54.3 270.9,54.6 271.9,53.7 272.9,53.5 273.9,54.6 274.9,55.0 275.9,54.6 276.8,54.3 277.8,55.0 278.8,55.4 279.8,55.5 280.8,55.8 281.8,55.0 282.8,54.2 283.8,54.3 284.8,54.4 285.8,54.4 286.7,54.6 287.7,55.2 288.7,55.8 289.7,55.7 290.7,55.2 291.7,54.5 292.7,54.3 293.7,55.2 294.7,56.1 295.7,56.2 296.7,55.4 297.6,54.7 298.6,54.9 299.6,55.5 300.6,55.5 301.6,54.9 302.6,54.8 303.6,55.1 304.6,54.7 305.6,54.3 306.6,54.3 307.5,54.0 308.5,54.0 309.5,54.5 310.5,54.7 311.5,55.2 312.5,55.7 313.5,55.7 314.5,55.5 315.5,55.1 316.5,54.8 317.4,54.6 318.4,55.4 319.4,56.5 320.4,56.3 321.4,55.9 322.4,55.7 323.4,55.5 324.4,55.3" stroke="#f73b22"/>
<path d="M65.9,66.2 66.9,68.6 67.9,70.3 68.9,72.4 69.9,74.9 70.9,76.4 71.9,78.6 72.9,81.7 73.9,84.0 74.8,85.7 75.8,89.6 76.8,93.0 77.8,94.0 78.8,94.4 79.8,94.9 80.8,95.3 81.8,95.5 82.8,95.3 83.8,95.6 84.7,96.3 85.7,96.1 86.7,95.3 87.7,94.5 88.7,94.6 89.7,95.1 90.7,95.4 91.7,95.2 92.7,95.5 93.7,96.8 94.6,97.5 95.6,98.2 96.6,99.2 97.6,99.6 98.6,100.0 99.6,100.6 100.6,100.6 101.6,100.5 102.6,100.9 103.6,101.6 104.6,101.2 105.5,100.8 106.5,101.4 107.5,100.8 108.5,99.3 109.5,97.7 110.5,95.4 111.5,92.5 112.5,89.1 113.5,86.0 114.5,83.2 115.4,79.8 116.4,75.9 117.4,71.5 118.4,66.4 119.4,61.1 120.4,55.2 121.4,49.3 122.4,44.3 123.4,40.3 124.4,36.0 125.3,31.1 126.3,27.0 127.3,22.6 128.3,19.1 129.3,17.3 130.3,15.2 131.3,13.5 132.3,12.9 133.3,11.9 134.3,10.7 135.2,9.9 136.2,9.3 137.2,9.9 138.2,11.6 139.2,13.1 140.2,14.6 141.2,16.7 142.2,18.6 143.2,20.1 144.2,22.3 145.1,24.9 146.1,26.5 147.1,28.1 148.1,30.5 149.1,32.1 150.1,32.6 151.1,34.6 152.1,37.7 153.1,39.4 154.1,40.0 155.1,41.3 156.0,42.3 157.0,42.9 158.0,44.2 159.0,46.3 160.0,47.5 161.0,47.0 162.0,46.6 163.0,47.7 164.0,48.8 165.0,48.6 165.9,48.7 166.9,49.7 167.9,50.3 168.9,50.1 169.9,50.3 170.9,50.9 171.9,51.5 172.9,52.1 173.9,52.9 174.9,53.3 175.8,53.2 176.8,53.4 177.8,53.4 178.8,53.1 179.8,53.0 180.8,53.7 181.8,54.3 182.8,54.2 183.8,54.4 184.8,54.9 185.7,54.5 186.7,53.6 187.7,53.7 188.7,54.8 189.7,55.2 190.7,54.9 191.7,54.3 192.7,54.2 193.7,55.4 194.7,56.1 195.6,55.3 196.6,54.8 197.6,54.5 198.6,53.9 199.6,53.7 200.6,54.7 201.6,55.8 202.6,56.0 203.6,55.1 204.6,54.6 205.6,54.7 206.5,54.6 207.5,54.4 208.5,54.3 209.5,54.9 210.5,55.9 211.5,56.3 212.5,56.7 213.5,56.6 214.5,55.5 215.5,54.4 216.4,54.2 217.4,55.1 218.4,55.9 219.4,55.9 220.4,55.2 221.4,55.3 222.4,55.6 223.4,55.2 224.4,55.6 225.4,56.3 226.3,55.7 227.3,55.5 228.3,55.9 229.3,55.5 230.3,54.4 231.3,53.9 232.3,54.6 233.3,55.9 234.3,56.0 235.3,55.6 236.2,56.1 237.2,56.7 238.2,56.2 239.2,54.8 240.2,54.4 241.2,54.9 242.2,55.4 243.2,55.7 244.2,55.6 245.2,55.4 246.2,55.3 247.1,55.1 248.1,55.6 249.1,55.6 250.1,55.0 251.1,55.0 252.1,55.2 253.1,56.0 254.1,56.5 255.1,56.0 256.1,55.6 257.0,55.5 258.0,56.3 259.0,56.6 260.0,55.5 261.0,54.9 262.0,55.4 263.0,55.6 264.0,55.5 265.0,55.9 266.0,56.1 266.9,55.9 267.9,55.4 268.9,55.1 269.9,55.2 270.9,55.0 271.9,55.2 272.9,56.3 273.9,56.5 274.9,56.0 275.9,55.7 276.8,55.9 277.8,56.1 278.8,55.3 279.8,54.9 280.8,55.7 281.8,56.2 282.8,56.0 283.8,55.7 284.8,55.4 285.8,55.3 286.7,55.5 287.7,55.4 288.7,55.8 289.7,56.9 290.7,56.9 291.7,56.4 292.7,56.5 293.7,56.4 294.7,56.4 295.7,56.5 296.7,56.5 297.6,56.3 298.6,55.9 299.6,55.9 300.6,55.5 301.6,54.7 302.6,55.4 303.6,56.0 304.6,55.2 305.6,54.7 306.6,54.4 307.5,54.7 308.5,55.4 309.5,55.1 310.5,54.8 311.5,55.3 312.5,56.3 313.5,57.3 314.5,56.3 315.5,55.4 316.5,56.3 317.4,56.3 318.4,55.5 319.4,54.9 320.4,55.1 321.4,56.2 322.4,55.9 323.4,55.6 324.4,56.1" stroke="#f83c22"/>
<path d="M65.9,65.4 66.9,66.1 67.9,67.8 68.9,71.0 69.9,74.2 70.9,75.7 71.9,77.1 72.9,79.8 73.9,81.8 74.8,83.6 75.8,87.1 76.8,89.9 77.8,90.7 78.8,91.5 79.8,92.1 80.8,92.0 81.8,91.6 82.8,92.0 83.8,92.6 84.7,92.2 85.7,91.7 86.7,91.4 87.7,90.7 88.7,90.8 89.7,91.5 90.7,91.0 91.7,90.3 92.7,91.0 93.7,92.3 94.6,93.2 95.6,94.5 96.6,95.3 97.6,95.0 98.6,95.0 99.6,95.6 100.6,96.1 101.6,96.6 102.6,96.9 103.6,96.6 104.6,96.3 105.5,96.2 106.5,96.4 107.5,96.5 108.5,95.0 109.5,91.9 110.5,89.2 111.5,87.3 112.5,85.2 113.5,82.4 114.5,78.5 115.4,75.0 116.4,71.6 117.4,66.8 118.4,61.2 119.4,56.6 120.4,52.1 121.4,47.5 122.4,42.7 123.4,37.4 124.4,33.0 125.3,28.9 126.3,23.9 127.3,19.9 128.3,17.2 129.3,14.9 130.3,13.7 131.3,12.2 132.3,11.3 133.3,11.0 134.3,9.8 135.2,9.0 136.2,9.7 137.2,10.3 138.2,11.0 139.2,12.6 140.2,14.4 141.2,16.0 142.2,17.5 143.2,19.1 144.2,21.7 145.1,24.1 146.1,25.7 147.1,27.1 148.1,28.5 149.1,30.5 150.1,33.0 151.1,35.0 152.1,36.2 153.1,37.2 154.1,38.6 155.1,40.8 156.0,42.0 157.0,41.5 158.0,42.1 159.0,43.7 160.0,44.9 161.0,46.2 162.0,47.2 163.0,47.6 164.0,48.1 165.0,49.1 165.9,49.9 166.9,49.9 167.9,49.9 168.9,50.6 169.9,51.6 170.9,52.5 171.9,52.4 172.9,52.5 173.9,53.5 174.9,53.9 175.8,53.5 176.8,53.5 177.8,53.6 178.8,53.6 179.8,53.7 180.8,54.3 181.8,54.9 182.8,54.7 183.8,54.2 184.8,54.2 185.7,54.6 186.7,54.6 187.7,53.9 188.7,53.6 189.7,53.7 190.7,53.9 191.7,54.1 192.7,54.2 193.7,54.2 194.7,54.6 195.6,54.9 196.6,54.4 197.6,53.9 198.6,54.7 199.6,55.5 200.6,55.6 201.6,55.4 202.6,55.6 203.6,56.5 204.6,56.8 205.6,56.3 206.5,56.3 207.5,55.9 208.5,55.2 209.5,54.6 210.5,54.5 211.5,55.3 212.5,56.3 213.5,56.8 214.5,56.6 215.5,56.7 216.4,57.0 217.4,56.5 218.4,55.8 219.4,55.8 220.4,56.1 221.4,56.3 222.4,56.6 223.4,57.0 224.4,57.2 225.4,56.2 226.3,55.3 227.3,55.6 228.3,56.2 229.3,56.3 230.3,55.9 231.3,56.0 232.3,56.0 233.3,56.2 234.3,56.4 235.3,55.9 236.2,55.8 237.2,55.9 238.2,55.9 239.2,56.1 240.2,56.2 241.2,56.1 242.2,56.2 243.2,56.3 244.2,56.8 245.2,57.2 246.2,56.9 247.1,56.5 248.1,55.8 249.1,55.8 250.1,56.5 251.1,56.9 252.1,57.4 253.1,57.2 254.1,57.1 255.1,57.7 256.1,57.5 257.0,56.3 258.0,55.9 259.0,56.2 260.0,55.8 261.0,55.0 262.0,55.7 263.0,56.0 264.0,55.1 265.0,55.2 266.0,55.6 266.9,55.3 267.9,55.3 268.9,55.5 269.9,55.9 270.9,56.1 271.9,55.7 272.9,55.9 273.9,56.6 274.9,56.4 275.9,55.8 276.8,55.9 277.8,55.9 278.8,55.6 279.8,56.2 280.8,56.6 281.8,55.9 282.8,55.2 283.8,55.0 284.8,55.0 285.8,55.4 286.7,55.3 287.7,55.3 288.7,55.6 289.7,55.1 290.7,54.8 291.7,55.1 292.7,55.1 293.7,55.8 294.7,56.4 295.7,56.0 296.7,55.8 297.6,56.0 298.6,55.8 299.6,55.4 300.6,55.8 301.6,56.4 302.6,56.0 303.6,55.9 304.6,56.5 305.6,56.7 306.6,56.7 307.5,56.5 308.5,55.9 309.5,55.1 310.5,54.6 311.5,54.8 312.5,55.1 313.5,55.0 314.5,55.3 315.5,55.9 316.5,55.9 317.4,55.9 318.4,56.3 319.4,56.6 320.4,56.7 321.4,56.8 322.4,56.8 323.4,56.3 324.4,56.1" stroke="#f94425"/>
<path d="M65.9,65.2 66.9,66.3 67.9,68.0 68.9,70.2 69.9,72.5 70.9,75.3 71.9,78.0 72.9,79.4 73.9,81.0 74.8,83.7 75.8,85.4 76.8,86.5 77.8,87.6 78.8,87.7 79.8,87.7 80.8,87.9 81.8,87.8 82.8,88.5 83.8,89.2 84.7,89.1 85.7,89.3 86.7,89.7 87.7,88.7 88.7,87.4 89.7,87.8 90.7,88.5 91.7,88.8 92.7,89.1 93.7,89.6 94.6,90.6 95.6,91.6 96.6,92.1 97.6,91.9 98.6,91.2 99.6,90.6 100.6,90.8 101.6,91.3 102.6,92.1 103.6,93.1 104.6,93.4 105.5,93.4 106.5,93.3 107.5,91.6 108.5,89.3 109.5,87.8 110.5,85.9 111.5,84.1 112.5,81.9 113.5,78.8 114.5,75.0 115.4,70.5 116.4,66.7 117.4,63.7 118.4,59.3 119.4,54.2 120.4,49.9 121.4,45.6 122.4,40.6 123.4,35.7 124.4,31.7 125.3,28.0 126.3,24.4 127.3,20.7 128.3,17.5 129.3,15.6 130.3,14.1 131.3,12.8 132.3,12.1 133.3,11.8 134.3,10.8 135.2,9.2 136.2,9.2 137.2,9.7 138.2,10.0 139.2,11.8 140.2,13.7 141.2,15.2 142.2,16.8 143.2,18.9 144.2,21.3 145.1,23.5 146.1,25.2 147.1,27.3 148.1,30.1 149.1,31.9 150.1,33.3 151.1,35.5 152.1,37.3 153.1,38.2 154.1,39.4 155.1,40.7 156.0,42.1 157.0,43.4 158.0,44.4 159.0,45.5 160.0,46.0 161.0,46.2 162.0,46.5 163.0,47.1 164.0,47.3 165.0,47.2 165.9,48.5 166.9,50.2 167.9,50.8 168.9,51.0 169.9,51.4 170.9,51.9 171.9,51.9 172.9,51.5 173.9,52.1 174.9,53.0 175.8,53.3 176.8,53.1 177.8,52.8 178.8,52.8 179.8,54.0 180.8,55.3 181.8,54.5 182.8,53.1 183.8,53.1 184.8,54.4 185.7,55.3 186.7,55.0 187.7,55.4 188.7,56.1 189.7,55.4 190.7,54.3 191.7,54.0 192.7,54.7 193.7,54.9 194.7,54.6 195.6,55.3 196.6,56.1 197.6,55.9 198.6,55.1 199.6,54.8 200.6,55.0 201.6,55.4 202.6,55.7 203.6,56.2 204.6,56.5 205.6,55.6 206.5,55.3 207.5,55.9 208.5,56.0 209.5,55.5 210.5,55.1 211.5,55.5 212.5,56.1 213.5,56.8 214.5,57.3 215.5,56.9 216.4,56.5 217.4,56.4 218.4,56.2 219.4,55.9 220.4,55.9 221.4,56.0 222.4,56.0 223.4,56.2 224.4,56.4 225.4,56.8 226.3,57.0 227.3,56.7 228.3,56.7 229.3,56.5 230.3,56.1 231.3,56.0 232.3,56.5 233.3,56.8 234.3,56.2 235.3,56.1 236.2,56.4 237.2,56.2 238.2,55.8 239.2,55.8 240.2,56.6 241.2,57.3 242.2,57.1 243.2,56.1 244.2,55.4 245.2,55.8 246.2,56.1 247.1,55.9 248.1,56.2 249.1,56.4 250.1,56.7 251.1,56.9 252.1,56.2 253.1,56.0 254.1,56.7 255.1,57.0 256.1,56.2 257.0,55.7 258.0,56.6 259.0,56.9 260.0,56.8 261.0,57.6 262.0,58.0 263.0,57.3 264.0,56.9 265.0,56.8 266.0,56.6 266.9,56.3 267.9,56.5 268.9,56.8 269.9,56.5 270.9,55.9 271.9,55.4 272.9,55.4 273.9,56.6 274.9,58.1 275.9,57.8 276.8,56.7 277.8,56.8 278.8,56.8 279.8,56.0 280.8,56.0 281.8,56.6 282.8,56.6 283.8,56.8 284.8,56.8 285.8,56.6 286.7,57.0 287.7,57.6 288.7,57.3 289.7,57.1 290.7,56.9 291.7,56.6 292.7,56.5 293.7,55.9 294.7,56.0 295.7,56.9 296.7,56.5 297.6,56.1 298.6,56.7 299.6,57.3 300.6,56.3 301.6,55.9 302.6,56.7 303.6,56.6 304.6,56.4 305.6,56.7 306.6,56.8 307.5,56.5 308.5,55.9 309.5,56.2 310.5,56.5 311.5,56.3 312.5,56.6 313.5,56.5 314.5,55.9 315.5,55.8 316.5,55.7 317.4,55.9 318.4,56.0 319.4,55.9 320.4,55.5 321.4,55.5 322.4,56.0 323.4,56.0 324.4,56.0" stroke="#fa4d29"/>
<path d="M65.9,64.7 66.9,66.0 67.9,67.6 68.9,69.9 69.9,71.5 70.9,72.8 71.9,74.5 72.9,76.1 73.9,78.5 74.8,81.0 75.8,82.9 76.8,84.5 77.8,85.6 78.8,86.3 79.8,86.3 80.8,85.6 81.8,85.2 82.8,85.1 83.8,85.5 84.7,86.2 85.7,86.3 86.7,85.1 87.7,84.4 88.7,84.5 89.7,84.0 90.7,83.8 91.7,84.3 92.7,84.6 93.7,85.7 94.6,87.1 95.6,87.4 96.6,87.1 97.6,87.3 98.6,88.0 99.6,88.7 100.6,88.9 101.6,88.7 102.6,88.3 103.6,87.8 104.6,87.7 105.5,87.8 106.5,87.5 107.5,86.8 108.5,85.3 109.5,84.2 110.5,83.2 111.5,80.5 112.5,76.7 113.5,74.0 114.5,71.7 115.4,68.2 116.4,64.5 117.4,61.5 118.4,57.7 119.4,52.9 120.4,48.1 121.4,43.5 122.4,39.0 123.4,34.4 124.4,30.8 125.3,27.8 126.3,24.4 127.3,20.9 128.3,17.5 129.3,15.2 130.3,14.0 131.3,13.3 132.3,12.9 133.3,11.5 134.3,10.6 135.2,11.1 136.2,11.0 137.2,11.6 138.2,13.8 139.2,15.5 140.2,16.2 141.2,17.0 142.2,19.0 143.2,20.9 144.2,22.4 145.1,24.4 146.1,26.5 147.1,28.2 148.1,29.9 149.1,31.6 150.1,33.1 151.1,35.3 152.1,37.3 153.1,38.1 154.1,39.7 155.1,41.5 156.0,42.5 157.0,43.6 158.0,44.2 159.0,44.5 160.0,45.5 161.0,46.2 162.0,46.4 163.0,46.5 164.0,47.9 165.0,49.5 165.9,50.3 166.9,50.4 167.9,50.4 168.9,50.4 169.9,50.6 170.9,51.2 171.9,51.7 172.9,52.1 173.9,52.5 174.9,52.6 175.8,52.5 176.8,53.0 177.8,54.3 178.8,55.2 179.8,54.9 180.8,55.0 181.8,55.7 182.8,55.3 183.8,54.7 184.8,55.2 185.7,55.1 186.7,53.9 187.7,53.9 188.7,54.5 189.7,54.2 190.7,54.5 191.7,54.9 192.7,54.6 193.7,55.4 194.7,56.2 195.6,56.3 196.6,56.3 197.6,56.4 198.6,55.9 199.6,55.3 200.6,55.6 201.6,55.7 202.6,55.5 203.6,55.9 204.6,55.9 205.6,56.0 206.5,56.2 207.5,56.2 208.5,56.2 209.5,56.5 210.5,57.0 211.5,56.8 212.5,56.4 213.5,56.8 214.5,57.4 215.5,57.5 216.4,57.2 217.4,56.8 218.4,56.6 219.4,56.8 220.4,57.1 221.4,57.3 222.4,58.3 223.4,58.7 224.4,58.1 225.4,58.0 226.3,58.2 227.3,57.6 228.3,57.2 229.3,57.3 230.3,57.3 231.3,57.5 232.3,58.1 233.3,58.0 234.3,57.0 235.3,56.4 236.2,56.0 237.2,55.7 238.2,56.2 239.2,56.7 240.2,56.9 241.2,57.0 242.2,57.3 243.2,56.9 244.2,56.6 245.2,57.3 246.2,57.1 247.1,56.5 248.1,56.9 249.1,57.4 250.1,57.3 251.1,57.4 252.1,57.5 253.1,57.2 254.1,57.2 255.1,57.0 256.1,56.9 257.0,57.1 258.0,57.0 259.0,56.9 260.0,56.7 261.0,56.6 262.0,56.9 263.0,57.4 264.0,57.7 265.0,57.4 266.0,56.7 266.9,56.1 267.9,56.2 268.9,56.8 269.9,57.3 270.9,58.2 271.9,58.6 272.9,58.0 273.9,57.8 274.9,58.3 275.9,58.0 276.8,57.2 277.8,57.6 278.8,57.3 279.8,56.0 280.8,56.3 281.8,56.8 282.8,56.8 283.8,56.7 284.8,56.7 285.8,57.7 286.7,58.1 287.7,57.6 288.7,57.1 289.7,56.9 290.7,57.7 291.7,57.8 292.7,57.0 293.7,56.5 294.7,56.3 295.7,56.1 296.7,56.0 297.6,56.7 298.6,56.8 299.6,56.6 300.6,57.0 301.6,57.3 302.6,57.5 303.6,57.7 304.6,57.9 305.6,58.0 306.6,57.8 307.5,57.6 308.5,57.2 309.5,55.9 310.5,55.3 311.5,56.0 312.5,56.9 313.5,57.0 314.5,56.4 315.5,56.4 316.5,56.8 317.4,56.9 318.4,56.8 319.4,57.1 320.4,57.6 321.4,58.0 322.4,57.6 323.4,57.0 324.4,57.1" stroke="#fb552d"/>
<path d="M65.9,64.1 66.9,64.9 67.9,66.0 68.9,67.9 69.9,70.3 70.9,71.3 71.9,72.8 72.9,75.8 73.9,77.8 74.8,79.2 75.8,81.3 76.8,82.7 77.8,82.9 78.8,83.3 79.8,83.8 80.8,83.9 81.8,83.4 82.8,82.6 83.8,83.2 84.7,83.8 85.7,82.8 86.7,82.3 87.7,82.1 88.7,81.7 89.7,81.7 90.7,81.3 91.7,81.3 92.7,81.5 93.7,82.5 94.6,83.6 95.6,83.5 96.6,83.2 97.6,83.2 98.6,83.7 99.6,84.5 100.6,84.4 101.6,84.4 102.6,85.1 103.6,85.7 104.6,85.2 105.5,84.0 106.5,83.6 107.5,83.8 108.5,82.7 109.5,80.9 110.5,79.3 111.5,77.1 112.5,74.9 113.5,72.7 114.5,69.3 115.4,65.7 116.4,61.5 117.4,57.7 118.4,54.3 119.4,50.0 120.4,46.1 121.4,43.1 122.4,39.3 123.4,34.9 124.4,31.4 125.3,28.3 126.3,25.1 127.3,22.2 128.3,19.8 129.3,17.5 130.3,15.9 131.3,15.9 132.3,15.9 133.3,15.3 134.3,15.1 135.2,14.4 136.2,13.2 137.2,13.1 138.2,14.9 139.2,16.9 140.2,18.5 141.2,20.7 142.2,21.8 143.2,22.3 144.2,24.4 145.1,27.5 146.1,29.4 147.1,30.1 148.1,31.7 149.1,33.6 150.1,35.2 151.1,37.3 152.1,39.1 153.1,39.7 154.1,41.0 155.1,42.7 156.0,43.6 157.0,44.0 158.0,44.7 159.0,45.2 160.0,45.8 161.0,46.4 162.0,47.5 163.0,49.0 164.0,50.1 165.0,50.1 165.9,48.9 166.9,48.8 167.9,50.9 168.9,52.0 169.9,51.6 170.9,51.8 171.9,52.6 172.9,53.3 173.9,53.9 174.9,53.7 175.8,52.8 176.8,52.8 177.8,53.8 178.8,54.3 179.8,54.0 180.8,53.8 181.8,54.4 182.8,55.1 183.8,54.8 184.8,54.7 185.7,55.7 186.7,56.1 187.7,55.4 188.7,54.9 189.7,55.0 190.7,55.5 191.7,56.2 192.7,56.5 193.7,56.8 194.7,56.9 195.6,56.7 196.6,56.2 197.6,56.0 198.6,56.6 199.6,56.8 200.6,56.3 201.6,55.7 202.6,56.0 203.6,56.4 204.6,56.2 205.6,56.4 206.5,56.4 207.5,55.8 208.5,55.5 209.5,55.4 210.5,55.5 211.5,56.1 212.5,56.9 213.5,57.2 214.5,56.8 215.5,56.6 216.4,56.7 217.4,57.1 218.4,57.7 219.4,57.6 220.4,56.7 221.4,56.4 222.4,56.9 223.4,56.7 224.4,56.6 225.4,57.4 226.3,58.0 227.3,57.7 228.3,56.9 229.3,57.0 230.3,57.9 231.3,58.3 232.3,57.6 233.3,56.9 234.3,57.3 235.3,57.4 236.2,57.4 237.2,57.8 238.2,57.4 239.2,57.2 240.2,57.7 241.2,57.8 242.2,57.4 243.2,57.3 244.2,57.3 245.2,57.1 246.2,57.3 247.1,57.8 248.1,57.7 249.1,56.9 250.1,56.2 251.1,56.4 252.1,57.0 253.1,56.6 254.1,56.5 255.1,56.9 256.1,56.7 257.0,56.1 258.0,56.3 259.0,57.1 260.0,57.2 261.0,57.1 262.0,57.0 263.0,56.4 264.0,56.7 265.0,57.5 266.0,57.5 266.9,57.5 267.9,57.6 268.9,57.1 269.9,56.9 270.9,57.0 271.9,56.5 272.9,56.1 273.9,56.8 274.9,56.9 275.9,56.5 276.8,57.1 277.8,57.9 278.8,57.7 279.8,56.9 280.8,56.6 281.8,56.8 282.8,57.0 283.8,57.4 284.8,57.8 285.8,57.7 286.7,57.2 287.7,56.6 288.7,56.6 289.7,57.4 290.7,58.0 291.7,57.6 292.7,57.2 293.7,57.4 294.7,56.9 295.7,56.4 296.7,56.8 297.6,57.5 298.6,58.3 299.6,58.4 300.6,58.2 301.6,57.6 302.6,57.4 303.6,57.4 304.6,56.8 305.6,56.9 306.6,57.5 307.5,58.0 308.5,58.2 309.5,57.2 310.5,56.4 311.5,56.9 312.5,57.3 313.5,57.2 314.5,56.8 315.5,56.8 316.5,57.7 317.4,58.3 318.4,57.6 319.4,56.8 320.4,56.9 321.4,57.1 322.4,57.8 323.4,58.2 324.4,57.5" stroke="#fc5e30"/>
<path d="M65.9,63.3 66.9,64.7 67.9,65.8 68.9,66.9 69.9,68.3 70.9,69.7 71.9,71.8 72.9,74.2 73.9,75.7 74.8,77.2 75.8,78.8 76.8,79.7 77.8,80.1 78.8,80.1 79.8,80.0 80.8,80.8 81.8,81.5 82.8,80.9 83.8,79.9 84.7,80.0 85.7,80.1 86.7,79.4 87.7,78.6 88.7,78.2 89.7,78.3 90.7,78.9 91.7,79.1 92.7,79.1 93.7,79.9 94.6,80.7 95.6,80.9 96.6,80.5 97.6,79.6 98.6,79.0 99.6,79.4 100.6,80.3 101.6,81.0 102.6,80.9 103.6,80.9 104.6,80.9 105.5,81.2 106.5,80.7 107.5,79.0 108.5,77.6 109.5,76.3 110.5,73.7 111.5,71.9 112.5,71.2 113.5,69.6 114.5,67.1 115.4,64.4 116.4,61.4 117.4,57.7 118.4,53.3 119.4,49.4 120.4,46.2 121.4,43.0 122.4,39.5 123.4,36.0 124.4,32.6 125.3,29.6 126.3,27.0 127.3,24.6 128.3,21.7 129.3,19.6 130.3,19.5 131.3,19.1 132.3,18.0 133.3,18.4 134.3,19.2 135.2,18.1 136.2,17.3 137.2,17.5 138.2,17.9 139.2,19.2 140.2,21.5 141.2,23.9 142.2,25.2 143.2,25.8 144.2,27.2 145.1,29.5 146.1,31.1 147.1,32.6 148.1,35.1 149.1,36.8 150.1,37.3 151.1,38.3 152.1,40.4 153.1,42.1 154.1,42.8 155.1,43.4 156.0,43.8 157.0,44.4 158.0,45.2 159.0,45.9 160.0,46.8 161.0,46.9 162.0,47.2 163.0,47.9 164.0,48.7 165.0,49.6 165.9,49.9 166.9,50.7 167.9,51.7 168.9,52.1 169.9,52.5 170.9,52.8 171.9,52.6 172.9,52.6 173.9,53.2 174.9,54.1 175.8,54.6 176.8,54.2 177.8,53.5 178.8,53.7 179.8,54.4 180.8,55.3 181.8,55.7 182.8,55.8 183.8,56.3 184.8,56.1 185.7,55.5 186.7,55.3 187.7,55.3 188.7,55.9 189.7,56.3 190.7,56.3 191.7,56.5 192.7,56.5 193.7,56.4 194.7,56.4 195.6,56.4 196.6,55.8 197.6,55.6 198.6,56.1 199.6,56.2 200.6,56.3 201.6,56.0 202.6,56.1 203.6,57.4 204.6,58.1 205.6,57.9 206.5,57.5 207.5,56.1 208.5,54.9 209.5,55.3 210.5,55.6 211.5,56.0 212.5,56.8 213.5,56.5 214.5,56.1 215.5,56.6 216.4,56.9 217.4,57.3 218.4,58.1 219.4,58.0 220.4,57.2 221.4,57.2 222.4,57.8 223.4,57.8 224.4,57.6 225.4,57.4 226.3,57.1 227.3,57.2 228.3,57.7 229.3,58.4 230.3,58.3 231.3,58.0 232.3,58.2 233.3,57.9 234.3,58.0 235.3,57.9 236.2,57.5 237.2,57.9 238.2,58.3 239.2,58.0 240.2,56.9 241.2,56.6 242.2,57.8 243.2,58.1 244.2,57.3 245.2,57.1 246.2,58.0 247.1,58.5 248.1,57.7 249.1,57.7 250.1,58.1 251.1,58.4 252.1,58.5 253.1,57.7 254.1,56.9 255.1,56.9 256.1,57.4 257.0,57.4 258.0,57.4 259.0,57.4 260.0,57.1 261.0,57.2 262.0,57.6 263.0,57.5 264.0,57.3 265.0,57.5 266.0,57.3 266.9,56.8 267.9,57.0 268.9,57.0 269.9,56.8 270.9,57.3 271.9,57.7 272.9,56.9 273.9,57.3 274.9,58.0 275.9,57.1 276.8,56.1 277.8,56.9 278.8,58.0 279.8,57.6 280.8,57.2 281.8,57.8 282.8,57.9 283.8,57.0 284.8,56.4 285.8,56.7 286.7,57.0 287.7,57.7 288.7,57.8 289.7,57.0 290.7,57.3 291.7,58.0 292.7,57.4 293.7,57.1 294.7,57.6 295.7,57.4 296.7,57.4 297.6,57.8 298.6,58.1 299.6,58.0 300.6,58.1 301.6,58.2 302.6,58.2 303.6,58.2 304.6,57.8 305.6,57.7 306.6,57.8 307.5,56.8 308.5,55.9 309.5,56.6 310.5,57.5 311.5,57.1 312.5,57.0 313.5,57.6 314.5,57.8 315.5,57.2 316.5,56.6 317.4,56.9 318.4,57.7 319.4,58.0 320.4,57.7 321.4,56.8 322.4,56.6 323.4,57.5 324.4,57.7" stroke="#fd6734"/>
<path d="M65.9,63.0 66.9,63.9 67.9,64.3 68.9,65.5 69.9,67.6 70.9,68.6 71.9,68.8 72.9,70.2 73.9,72.2 74.8,74.2 75.8,75.6 76.8,76.5 77.8,77.4 78.8,78.0 79.8,77.5 80.8,77.2 81.8,77.3 82.8,76.6 83.8,76.4 84.7,76.8 85.7,76.5 86.7,75.9 87.7,75.2 88.7,75.3 89.7,76.2 90.7,76.1 91.7,75.2 92.7,75.2 93.7,75.6 94.6,75.5 95.6,75.9 96.6,76.6 97.6,76.8 98.6,77.0 99.6,76.7 100.6,76.9 101.6,77.7 102.6,77.7 103.6,77.6 104.6,77.5 105.5,77.3 106.5,77.4 107.5,76.6 108.5,74.8 109.5,73.6 110.5,73.0 111.5,71.0 112.5,67.7 113.5,65.5 114.5,64.5 115.4,62.9 116.4,60.3 117.4,57.3 118.4,53.8 119.4,49.8 120.4,46.7 121.4,44.3 122.4,41.9 123.4,39.3 124.4,36.0 125.3,32.9 126.3,30.4 127.3,28.1 128.3,26.1 129.3,24.4 130.3,23.3 131.3,23.3 132.3,23.5 133.3,22.4 134.3,21.7 135.2,22.1 136.2,22.7 137.2,23.0 138.2,23.3 139.2,24.4 140.2,26.0 141.2,26.9 142.2,27.5 143.2,28.6 144.2,30.0 145.1,31.8 146.1,33.9 147.1,35.3 148.1,36.5 149.1,38.3 150.1,40.0 151.1,41.6 152.1,42.6 153.1,43.6 154.1,44.4 155.1,44.8 156.0,45.7 157.0,46.6 158.0,47.3 159.0,47.6 160.0,47.8 161.0,48.6 162.0,49.7 163.0,50.6 164.0,51.0 165.0,51.2 165.9,51.6 166.9,52.0 167.9,51.7 168.9,51.6 169.9,52.5 170.9,53.3 171.9,53.0 172.9,52.1 173.9,52.3 174.9,53.3 175.8,54.1 176.8,54.8 177.8,55.0 178.8,54.9 179.8,55.2 180.8,55.9 181.8,55.9 182.8,55.4 183.8,55.9 184.8,56.7 185.7,56.0 186.7,55.4 187.7,55.9 188.7,56.5 189.7,56.6 190.7,56.4 191.7,57.0 192.7,57.4 193.7,56.3 194.7,55.5 195.6,56.6 196.6,57.3 197.6,56.7 198.6,56.0 199.6,56.2 200.6,57.4 201.6,58.0 202.6,57.3 203.6,56.7 204.6,56.4 205.6,56.7 206.5,57.7 207.5,57.9 208.5,57.2 209.5,56.6 210.5,56.8 211.5,57.6 212.5,57.6 213.5,56.8 214.5,55.9 215.5,55.8 216.4,56.4 217.4,56.9 218.4,57.8 219.4,58.2 220.4,58.1 221.4,58.2 222.4,58.3 223.4,58.1 224.4,57.9 225.4,57.7 226.3,57.4 227.3,57.5 228.3,57.3 229.3,56.8 230.3,57.1 231.3,57.5 232.3,57.6 233.3,57.5 234.3,57.5 235.3,57.6 236.2,56.9 237.2,56.3 238.2,56.8 239.2,58.0 240.2,58.7 241.2,58.2 242.2,57.4 243.2,57.2 244.2,57.6 245.2,57.4 246.2,57.1 247.1,57.3 248.1,57.0 249.1,57.2 250.1,58.0 251.1,57.9 252.1,58.0 253.1,58.7 254.1,59.2 255.1,58.7 256.1,57.9 257.0,57.6 258.0,57.8 259.0,58.1 260.0,58.1 261.0,58.2 262.0,58.8 263.0,58.7 264.0,57.7 265.0,57.6 266.0,58.0 266.9,57.7 267.9,56.8 268.9,56.7 269.9,57.4 270.9,56.9 271.9,56.3 272.9,56.6 273.9,57.4 274.9,58.1 275.9,57.5 276.8,57.7 277.8,58.3 278.8,57.4 279.8,56.5 280.8,56.4 281.8,56.6 282.8,57.5 283.8,58.1 284.8,58.0 285.8,57.6 286.7,57.5 287.7,57.7 288.7,57.5 289.7,57.0 290.7,56.6 291.7,55.8 292.7,56.2 293.7,57.8 294.7,58.5 295.7,58.7 296.7,58.4 297.6,57.9 298.6,58.2 299.6,58.4 300.6,57.8 301.6,57.3 302.6,57.6 303.6,57.6 304.6,57.1 305.6,57.0 306.6,57.0 307.5,57.2 308.5,57.8 309.5,57.9 310.5,57.6 311.5,57.0 312.5,57.2 313.5,57.6 314.5,57.5 315.5,57.5 316.5,57.2 317.4,57.4 318.4,58.3 319.4,58.4 320.4,58.0 321.4,57.8 322.4,57.8 323.4,57.8 324.4,58.1" stroke="#fe6f37"/>
<path d="M65.9,62.0 66.9,63.2 67.9,64.5 68.9,65.2 69.9,66.8 70.9,68.5 71.9,68.8 72.9,69.2 73.9,70.3 74.8,71.6 75.8,72.2 76.8,72.7 77.8,73.3 78.8,73.8 79.8,74.6 80.8,74.9 81.8,74.3 82.8,73.8 83.8,74.0 84.7,74.6 85.7,74.6 86.7,73.5 87.7,73.3 88.7,73.6 89.7,73.0 90.7,72.6 91.7,72.7 92.7,72.6 93.7,73.2 94.6,74.3 95.6,74.3 96.6,73.6 97.6,73.2 98.6,73.9 99.6,75.2 100.6,75.0 101.6,74.1 102.6,73.5 103.6,73.8 104.6,74.7 105.5,75.0 106.5,74.4 107.5,73.6 108.5,72.8 109.5,71.1 110.5,69.4 111.5,68.8 112.5,68.1 113.5,65.9 114.5,63.5 115.4,61.9 116.4,59.6 117.4,56.5 118.4,53.3 119.4,50.4 120.4,48.0 121.4,45.5 122.4,42.9 123.4,40.1 124.4,37.4 125.3,34.9 126.3,33.1 127.3,31.4 128.3,29.4 129.3,28.0 130.3,27.1 131.3,26.5 132.3,25.8 133.3,25.5 134.3,26.1 135.2,26.3 136.2,26.4 137.2,27.1 138.2,28.1 139.2,28.7 140.2,29.5 141.2,30.8 142.2,32.1 143.2,33.2 144.2,33.5 145.1,34.1 146.1,35.6 147.1,38.0 148.1,39.6 149.1,40.7 150.1,42.0 151.1,42.9 152.1,43.9 153.1,44.7 154.1,45.2 155.1,45.5 156.0,45.6 157.0,47.0 158.0,48.3 159.0,48.8 160.0,49.6 161.0,50.4 162.0,51.1 163.0,51.1 164.0,50.8 165.0,51.7 165.9,52.6 166.9,52.9 167.9,52.6 168.9,52.7 169.9,53.9 170.9,54.4 171.9,54.3 172.9,54.9 173.9,54.7 174.9,54.1 175.8,54.6 176.8,55.4 177.8,55.9 178.8,56.1 179.8,56.0 180.8,55.3 181.8,54.8 182.8,55.1 183.8,56.2 184.8,56.4 185.7,56.4 186.7,57.0 187.7,57.0 188.7,56.9 189.7,57.3 190.7,57.2 191.7,57.0 192.7,57.6 193.7,57.7 194.7,57.2 195.6,57.2 196.6,57.2 197.6,56.7 198.6,56.8 199.6,57.2 200.6,57.4 201.6,57.7 202.6,57.4 203.6,56.7 204.6,56.7 205.6,56.9 206.5,56.9 207.5,57.2 208.5,57.1 209.5,57.4 210.5,57.6 211.5,57.6 212.5,57.8 213.5,57.7 214.5,57.7 215.5,57.2 216.4,56.6 217.4,57.1 218.4,57.8 219.4,57.9 220.4,58.1 221.4,58.6 222.4,58.5 223.4,57.8 224.4,57.9 225.4,58.5 226.3,58.1 227.3,57.5 228.3,57.8 229.3,58.0 230.3,57.8 231.3,58.0 232.3,57.4 233.3,57.3 234.3,58.4 235.3,58.1 236.2,57.5 237.2,57.8 238.2,58.2 239.2,58.5 240.2,58.5 241.2,57.9 242.2,57.6 243.2,58.2 244.2,58.5 245.2,58.2 246.2,57.9 247.1,57.8 248.1,57.8 249.1,58.1 250.1,59.1 251.1,59.3 252.1,57.8 253.1,57.2 254.1,58.3 255.1,58.4 256.1,57.5 257.0,57.0 258.0,56.8 259.0,56.9 260.0,57.3 261.0,57.4 262.0,57.5 263.0,57.5 264.0,57.1 265.0,56.8 266.0,57.2 266.9,57.4 267.9,57.6 268.9,57.9 269.9,58.5 270.9,59.2 271.9,58.7 272.9,57.7 273.9,57.7 274.9,58.2 275.9,58.1 276.8,57.2 277.8,57.0 278.8,57.5 279.8,57.4 280.8,57.1 281.8,56.9 282.8,57.6 283.8,58.5 284.8,57.9 285.8,57.0 286.7,57.2 287.7,57.6 288.7,57.5 289.7,57.4 290.7,57.8 291.7,58.6 292.7,58.4 293.7,57.7 294.7,57.6 295.7,57.1 296.7,56.7 297.6,57.3 298.6,57.8 299.6,58.1 300.6,58.2 301.6,58.3 302.6,59.0 303.6,58.8 304.6,57.6 305.6,57.2 306.6,57.2 307.5,57.3 308.5,57.5 309.5,57.2 310.5,57.5 311.5,57.9 312.5,57.7 313.5,57.9 314.5,57.2 315.5,56.4 316.5,56.6 317.4,57.0 318.4,57.3 319.4,57.5 320.4,57.4 321.4,57.7 322.4,58.3 323.4,58.3 324.4,57.8" stroke="#ff783b"/>
<path d="M65.9,62.3 66.9,62.6 67.9,62.7 68.9,63.9 69.9,65.3 70.9,66.0 71.9,66.5 72.9,67.5 73.9,68.7 74.8,69.3 75.8,70.0 76.8,71.8 77.8,72.9 78.8,72.5 79.8,72.1 80.8,72.5 81.8,72.5 82.8,71.7 83.8,71.4 84.7,71.9 85.7,71.9 86.7,71.2 87.7,70.3 88.7,70.0 89.7,70.6 90.7,71.1 91.7,71.0 92.7,71.0 93.7,71.1 94.6,71.5 95.6,71.6 96.6,71.5 97.6,71.7 98.6,72.1 99.6,72.3 100.6,72.2 101.6,72.2 102.6,72.1 103.6,72.6 104.6,73.0 105.5,71.8 106.5,70.5 107.5,70.1 108.5,69.6 109.5,69.0 110.5,68.6 111.5,67.4 112.5,65.0 113.5,63.0 114.5,61.7 115.4,60.2 116.4,58.5 117.4,56.5 118.4,54.2 119.4,51.7 120.4,49.6 121.4,47.8 122.4,45.4 123.4,42.8 124.4,41.4 125.3,40.1 126.3,38.1 127.3,35.9 128.3,33.4 129.3,32.1 130.3,32.1 131.3,32.4 132.3,32.4 133.3,31.8 134.3,31.4 135.2,31.5 136.2,31.3 137.2,31.2 138.2,31.9 139.2,33.8 140.2,35.1 141.2,35.4 142.2,35.9 143.2,36.3 144.2,36.4 145.1,37.5 146.1,39.1 147.1,39.9 148.1,40.8 149.1,42.4 150.1,43.6 151.1,44.4 152.1,45.7 153.1,47.1 154.1,47.8 155.1,48.3 156.0,48.7 157.0,49.0 158.0,49.3 159.0,49.2 160.0,50.0 161.0,51.1 162.0,51.4 163.0,51.5 164.0,51.5 165.0,52.0 165.9,52.7 166.9,53.1 167.9,53.6 168.9,53.7 169.9,53.8 170.9,54.2 171.9,54.6 172.9,55.0 173.9,55.2 174.9,55.5 175.8,55.2 176.8,54.9 177.8,55.3 178.8,55.1 179.8,54.6 180.8,55.3 181.8,56.3 182.8,56.2 183.8,55.9 184.8,56.0 185.7,56.3 186.7,56.6 187.7,56.7 188.7,56.5 189.7,56.4 190.7,56.8 191.7,57.1 192.7,57.1 193.7,57.6 194.7,57.5 195.6,57.3 196.6,57.5 197.6,57.2 198.6,57.3 199.6,57.6 200.6,57.1 201.6,56.9 202.6,57.4 203.6,57.3 204.6,56.7 205.6,56.7 206.5,57.3 207.5,58.0 208.5,58.2 209.5,57.8 210.5,57.1 211.5,56.9 212.5,56.8 213.5,56.8 214.5,57.4 215.5,57.9 216.4,57.4 217.4,57.3 218.4,58.1 219.4,57.9 220.4,57.4 221.4,57.0 222.4,56.3 223.4,56.4 224.4,57.3 225.4,57.9 226.3,57.8 227.3,57.8 228.3,57.8 229.3,57.8 230.3,57.8 231.3,57.2 232.3,56.6 233.3,56.8 234.3,57.9 235.3,58.4 236.2,57.5 237.2,57.0 238.2,57.7 239.2,57.9 240.2,57.8 241.2,57.8 242.2,57.8 243.2,58.3 244.2,58.5 245.2,58.3 246.2,58.5 247.1,58.0 248.1,57.8 249.1,58.0 250.1,57.7 251.1,57.6 252.1,57.5 253.1,57.6 254.1,58.0 255.1,58.5 256.1,58.8 257.0,58.7 258.0,57.9 259.0,56.8 260.0,57.1 261.0,57.9 262.0,57.6 263.0,57.5 264.0,57.7 265.0,57.4 266.0,57.3 266.9,57.8 267.9,57.9 268.9,57.9 269.9,58.1 270.9,57.9 271.9,57.9 272.9,58.2 273.9,58.2 274.9,57.5 275.9,57.1 276.8,57.5 277.8,57.8 278.8,57.5 279.8,57.3 280.8,57.1 281.8,57.2 282.8,57.9 283.8,58.1 284.8,58.2 285.8,57.8 286.7,56.7 287.7,57.2 288.7,58.2 289.7,58.1 290.7,57.6 291.7,57.2 292.7,57.4 293.7,57.7 294.7,57.6 295.7,57.5 296.7,57.6 297.6,57.8 298.6,57.7 299.6,57.8 300.6,58.1 301.6,58.0 302.6,57.9 303.6,57.8 304.6,57.8 305.6,58.2 306.6,58.4 307.5,58.1 308.5,57.7 309.5,57.8 310.5,57.7 311.5,57.9 312.5,58.3 313.5,58.0 314.5,58.0 315.5,58.0 316.5,57.6 317.4,57.1 318.4,56.7 319.4,56.6 320.4,57.3 321.4,58.0 322.4,57.9 323.4,57.1 324.4,56.8" stroke="#ff7e39"/>
<path d="M65.9,60.2 66.9,60.9 67.9,61.4 68.9,61.9 69.9,63.0 70.9,64.6 71.9,66.0 72.9,66.0 73.9,66.0 74.8,67.5 75.8,69.2 76.8,69.8 77.8,69.5 78.8,68.7 79.8,69.1 80.8,69.7 81.8,69.3 82.8,69.1 83.8,68.8 84.7,68.9 85.7,69.0 86.7,68.7 87.7,68.4 88.7,67.7 89.7,67.9 90.7,68.9 91.7,68.8 92.7,67.4 93.7,67.5 94.6,68.3 95.6,68.0 96.6,68.3 97.6,68.9 98.6,69.1 99.6,68.8 100.6,68.4 101.6,69.2 102.6,69.5 103.6,68.3 104.6,68.3 105.5,69.2 106.5,69.3 107.5,68.7 108.5,67.8 109.5,66.7 110.5,66.0 111.5,65.4 112.5,64.2 113.5,62.4 114.5,60.7 115.4,59.1 116.4,58.1 117.4,56.6 118.4,54.8 119.4,52.8 120.4,50.4 121.4,48.9 122.4,47.8 123.4,45.7 124.4,43.7 125.3,42.2 126.3,40.2 127.3,38.7 128.3,38.0 129.3,36.6 130.3,35.7 131.3,35.9 132.3,35.7 133.3,34.9 134.3,35.1 135.2,36.2 136.2,36.6 137.2,36.8 138.2,37.5 139.2,38.1 140.2,38.1 141.2,38.6 142.2,39.3 143.2,40.0 144.2,41.4 145.1,42.4 146.1,43.2 147.1,44.2 148.1,44.8 149.1,45.3 150.1,46.0 151.1,46.8 152.1,48.0 153.1,49.1 154.1,49.9 155.1,50.3 156.0,50.3 157.0,50.0 158.0,50.3 159.0,50.7 160.0,50.6 161.0,51.0 162.0,52.1 163.0,53.5 164.0,54.2 165.0,54.0 165.9,54.2 166.9,54.6 167.9,55.0 168.9,55.1 169.9,54.7 170.9,55.3 171.9,55.6 172.9,55.6 173.9,55.9 174.9,55.4 175.8,55.2 176.8,56.1 177.8,56.8 178.8,57.1 179.8,56.9 180.8,56.1 181.8,56.2 182.8,57.1 183.8,57.1 184.8,56.2 185.7,56.1 186.7,57.1 187.7,57.8 188.7,57.7 189.7,56.9 190.7,56.1 191.7,55.9 192.7,56.6 193.7,57.5 194.7,57.3 195.6,57.3 196.6,57.6 197.6,57.2 198.6,57.0 199.6,57.7 200.6,57.6 201.6,56.6 202.6,56.3 203.6,57.0 204.6,56.8 205.6,56.6 206.5,57.4 207.5,58.0 208.5,58.2 209.5,57.9 210.5,57.7 211.5,58.0 212.5,58.4 213.5,58.9 214.5,58.9 215.5,58.3 216.4,57.7 217.4,58.0 218.4,58.1 219.4,57.5 220.4,57.5 221.4,58.1 222.4,58.1 223.4,57.5 224.4,57.7 225.4,58.1 226.3,57.9 227.3,57.5 228.3,57.5 229.3,57.8 230.3,57.5 231.3,57.7 232.3,58.0 233.3,57.3 234.3,57.5 235.3,57.8 236.2,57.5 237.2,58.1 238.2,58.7 239.2,58.0 240.2,57.4 241.2,57.4 242.2,57.4 243.2,57.1 244.2,56.9 245.2,56.3 246.2,56.0 247.1,57.7 248.1,59.2 249.1,58.9 250.1,58.4 251.1,58.0 252.1,58.0 253.1,58.7 254.1,58.7 255.1,58.3 256.1,58.6 257.0,58.9 258.0,57.9 259.0,57.5 260.0,57.7 261.0,57.9 262.0,58.2 263.0,57.8 264.0,57.0 265.0,56.9 266.0,57.3 266.9,58.0 267.9,57.9 268.9,57.2 269.9,57.3 270.9,58.4 271.9,59.2 272.9,59.3 273.9,58.7 274.9,57.6 275.9,57.6 276.8,58.2 277.8,57.5 278.8,56.2 279.8,56.8 280.8,58.2 281.8,58.5 282.8,58.9 283.8,58.9 284.8,57.5 285.8,56.1 286.7,56.4 287.7,57.5 288.7,57.9 289.7,57.5 290.7,57.6 291.7,58.7 292.7,58.6 293.7,57.2 294.7,56.8 295.7,56.8 296.7,56.9 297.6,57.1 298.6,57.6 299.6,57.3 300.6,56.6 301.6,57.0 302.6,57.5 303.6,57.6 304.6,58.3 305.6,58.6 306.6,57.5 307.5,56.7 308.5,57.3 309.5,58.0 310.5,57.5 311.5,57.3 312.5,58.5 313.5,58.9 314.5,57.7 315.5,56.9 316.5,57.7 317.4,58.9 318.4,58.7 319.4,57.4 320.4,57.0 321.4,57.4 322.4,57.7 323.4,57.8 324.4,58.0" stroke="#ff8335"/>
<path d="M65.9,59.6 66.9,60.2 67.9,60.6 68.9,60.9 69.9,61.0 70.9,61.8 71.9,62.7 72.9,63.2 73.9,64.5 74.8,65.0 75.8,64.9 76.8,66.1 77.8,67.2 78.8,66.6 79.8,65.6 80.8,66.4 81.8,67.7 82.8,67.6 83.8,66.9 84.7,66.4 85.7,65.9 86.7,65.8 87.7,65.4 88.7,65.7 89.7,66.7 90.7,66.8 91.7,66.3 92.7,65.8 93.7,65.6 94.6,65.8 95.6,66.3 96.6,67.8 97.6,68.6 98.6,67.4 99.6,66.6 100.6,67.0 101.6,67.3 102.6,66.3 103.6,65.6 104.6,66.4 105.5,67.1 106.5,66.4 107.5,65.2 108.5,64.9 109.5,64.4 110.5,63.3 111.5,62.8 112.5,62.5 113.5,61.1 114.5,59.8 115.4,58.8 116.4,57.8 117.4,57.0 118.4,55.8 119.4,54.0 120.4,52.3 121.4,51.0 122.4,49.8 123.4,48.7 124.4,47.3 125.3,45.8 126.3,44.5 127.3,43.3 128.3,42.6 129.3,42.6 130.3,42.3 131.3,41.3 132.3,41.1 133.3,41.3 134.3,41.0 135.2,40.7 136.2,40.9 137.2,40.7 138.2,40.2 139.2,40.3 140.2,41.2 141.2,42.6 142.2,43.7 143.2,43.6 144.2,43.8 145.1,44.7 146.1,45.7 147.1,46.9 148.1,47.6 149.1,47.5 150.1,48.3 151.1,49.5 152.1,49.9 153.1,50.1 154.1,50.5 155.1,50.9 156.0,51.0 157.0,51.2 158.0,52.3 159.0,53.2 160.0,53.2 161.0,53.6 162.0,54.2 163.0,54.3 164.0,54.6 165.0,54.0 165.9,53.8 166.9,54.5 167.9,54.7 168.9,54.7 169.9,55.4 170.9,56.0 171.9,55.8 172.9,55.5 173.9,55.6 174.9,55.7 175.8,55.6 176.8,55.8 177.8,55.7 178.8,55.6 179.8,55.9 180.8,56.1 181.8,56.3 182.8,56.6 183.8,56.8 184.8,56.4 185.7,56.2 186.7,56.5 187.7,56.6 188.7,57.0 189.7,57.5 190.7,56.9 191.7,56.6 192.7,57.6 193.7,58.3 194.7,57.8 195.6,57.1 196.6,56.5 197.6,56.9 198.6,57.6 199.6,57.7 200.6,57.6 201.6,57.9 202.6,58.1 203.6,58.0 204.6,57.6 205.6,57.4 206.5,57.8 207.5,58.1 208.5,58.3 209.5,58.1 210.5,57.7 211.5,57.9 212.5,57.8 213.5,58.0 214.5,57.4 215.5,57.1 216.4,58.6 217.4,58.7 218.4,57.4 219.4,57.5 220.4,58.0 221.4,58.2 222.4,58.3 223.4,57.6 224.4,57.1 225.4,57.6 226.3,57.6 227.3,56.7 228.3,56.7 229.3,57.6 230.3,58.0 231.3,58.3 232.3,58.5 233.3,58.4 234.3,58.7 235.3,59.4 236.2,59.5 237.2,58.7 238.2,57.7 239.2,57.4 240.2,57.9 241.2,57.9 242.2,57.4 243.2,57.3 244.2,57.7 245.2,57.4 246.2,57.0 247.1,57.7 248.1,58.6 249.1,58.7 250.1,58.1 251.1,57.4 252.1,57.0 253.1,57.3 254.1,57.3 255.1,56.7 256.1,57.1 257.0,57.7 258.0,57.4 259.0,57.5 260.0,58.0 261.0,58.1 262.0,58.2 263.0,58.7 264.0,59.0 265.0,58.1 266.0,57.9 266.9,58.3 267.9,57.5 268.9,56.6 269.9,57.2 270.9,57.5 271.9,57.3 272.9,57.8 273.9,58.3 274.9,58.2 275.9,57.9 276.8,57.4 277.8,57.5 278.8,58.1 279.8,58.1 280.8,57.9 281.8,58.0 282.8,58.1 283.8,58.4 284.8,58.4 285.8,58.3 286.7,58.2 287.7,57.9 288.7,58.1 289.7,58.5 290.7,58.5 291.7,58.3 292.7,58.0 293.7,57.9 294.7,58.1 295.7,58.0 296.7,57.1 297.6,57.0 298.6,57.3 299.6,57.2 300.6,57.5 301.6,57.9 302.6,57.2 303.6,56.2 304.6,56.4 305.6,57.2 306.6,57.6 307.5,57.1 308.5,56.4 309.5,56.8 310.5,56.9 311.5,56.8 312.5,56.8 313.5,56.8 314.5,57.2 315.5,57.7 316.5,57.4 317.4,56.6 318.4,57.0 319.4,57.4 320.4,57.2 321.4,57.7 322.4,58.2 323.4,58.2 324.4,58.0" stroke="#ff8931"/>
<path d="M65.9,58.3 66.9,58.6 67.9,59.4 68.9,60.2 69.9,60.7 70.9,61.2 71.9,61.5 72.9,61.5 73.9,62.1 74.8,63.3 75.8,64.2 76.8,64.6 77.8,64.8 78.8,64.7 79.8,64.6 80.8,65.1 81.8,65.2 82.8,64.5 83.8,63.5 84.7,63.9 85.7,64.1 86.7,63.5 87.7,63.2 88.7,63.5 89.7,64.4 90.7,63.8 91.7,62.4 92.7,63.1 93.7,64.1 94.6,63.8 95.6,63.9 96.6,64.5 97.6,64.4 98.6,64.1 99.6,64.0 100.6,64.3 101.6,64.9 102.6,65.7 103.6,65.7 104.6,64.9 105.5,64.9 106.5,64.3 107.5,63.3 108.5,63.2 109.5,63.1 110.5,62.5 111.5,61.7 112.5,61.3 113.5,60.5 114.5,59.4 115.4,59.2 116.4,59.0 117.4,57.5 118.4,56.1 119.4,55.1 120.4,53.4 121.4,51.5 122.4,50.5 123.4,50.2 124.4,49.8 125.3,49.4 126.3,48.3 127.3,46.9 128.3,46.1 129.3,45.9 130.3,45.8 131.3,45.8 132.3,45.5 133.3,44.9 134.3,44.5 135.2,44.3 136.2,44.1 137.2,44.9 138.2,46.2 139.2,46.6 140.2,46.6 141.2,46.8 142.2,46.6 143.2,47.1 144.2,48.0 145.1,48.4 146.1,48.7 147.1,49.7 148.1,50.2 149.1,50.2 150.1,50.4 151.1,50.7 152.1,51.4 153.1,52.2 154.1,53.2 155.1,53.8 156.0,54.4 157.0,55.0 158.0,54.2 159.0,53.6 160.0,54.2 161.0,54.5 162.0,54.4 163.0,54.6 164.0,54.2 165.0,53.9 165.9,54.5 166.9,55.0 167.9,55.3 168.9,55.7 169.9,55.9 170.9,55.9 171.9,56.2 172.9,57.1 173.9,56.9 174.9,56.6 175.8,57.0 176.8,57.3 177.8,57.2 178.8,56.7 179.8,56.1 180.8,56.0 181.8,56.7 182.8,57.3 183.8,57.1 184.8,56.5 185.7,57.0 186.7,57.9 187.7,58.1 188.7,58.0 189.7,57.4 190.7,56.9 191.7,56.9 192.7,56.8 193.7,57.2 194.7,57.7 195.6,57.2 196.6,56.9 197.6,57.3 198.6,57.9 199.6,57.9 200.6,57.5 201.6,57.8 202.6,58.3 203.6,58.3 204.6,58.3 205.6,57.7 206.5,57.0 207.5,56.7 208.5,56.5 209.5,56.9 210.5,57.7 211.5,57.4 212.5,56.4 213.5,56.7 214.5,58.3 215.5,58.8 216.4,58.1 217.4,58.2 218.4,58.4 219.4,58.1 220.4,58.8 221.4,59.2 222.4,58.5 223.4,57.7 224.4,57.4 225.4,57.3 226.3,57.7 227.3,58.2 228.3,58.8 229.3,59.1 230.3,58.3 231.3,57.4 232.3,56.9 233.3,56.8 234.3,58.0 235.3,58.7 236.2,57.7 237.2,57.5 238.2,58.7 239.2,59.0 240.2,58.1 241.2,57.8 242.2,58.4 243.2,58.6 244.2,58.7 245.2,59.1 246.2,58.9 247.1,58.3 248.1,58.3 249.1,59.0 250.1,59.0 251.1,58.0 252.1,58.0 253.1,58.5 254.1,58.4 255.1,58.4 256.1,58.6 257.0,58.3 258.0,57.8 259.0,57.8 260.0,58.4 261.0,58.6 262.0,57.7 263.0,57.3 264.0,58.1 265.0,58.3 266.0,58.1 266.9,57.8 267.9,57.5 268.9,57.6 269.9,57.7 270.9,57.9 271.9,58.2 272.9,58.6 273.9,58.9 274.9,58.7 275.9,58.5 276.8,58.1 277.8,57.5 278.8,57.5 279.8,57.3 280.8,57.9 281.8,58.7 282.8,58.3 283.8,57.9 284.8,58.3 285.8,58.5 286.7,57.7 287.7,57.0 288.7,57.2 289.7,57.6 290.7,57.4 291.7,56.9 292.7,56.5 293.7,56.8 294.7,57.5 295.7,57.8 296.7,57.8 297.6,57.9 298.6,57.9 299.6,57.9 300.6,58.3 301.6,58.4 302.6,58.1 303.6,58.2 304.6,58.7 305.6,58.8 306.6,58.1 307.5,57.8 308.5,57.9 309.5,57.7 310.5,57.9 311.5,57.7 312.5,57.2 313.5,57.4 314.5,57.1 315.5,57.0 316.5,57.8 317.4,58.3 318.4,58.1 319.4,57.7 320.4,58.1 321.4,58.3 322.4,57.3 323.4,57.4 324.4,58.2" stroke="#ff8e2d"/>
<path d="M65.9,56.7 66.9,56.8 67.9,56.6 68.9,57.5 69.9,59.2 70.9,60.2 71.9,60.6 72.9,60.8 73.9,60.9 74.8,61.1 75.8,62.1 76.8,63.1 77.8,62.8 78.8,61.7 79.8,61.6 80.8,62.4 81.8,62.6 82.8,62.6 83.8,62.8 84.7,62.9 85.7,62.4 86.7,62.3 87.7,62.8 88.7,63.2 89.7,62.2 90.7,61.8 91.7,62.4 92.7,61.8 93.7,61.7 94.6,62.8 95.6,63.0 96.6,62.1 97.6,61.8 98.6,62.1 99.6,62.6 100.6,62.7 101.6,62.5 102.6,62.6 103.6,62.7 104.6,63.3 105.5,63.6 106.5,62.9 107.5,62.3 108.5,62.7 109.5,62.5 110.5,61.1 111.5,60.0 112.5,58.7 113.5,58.2 114.5,58.3 115.4,58.7 116.4,59.0 117.4,58.4 118.4,57.0 119.4,56.3 120.4,55.9 121.4,55.2 122.4,53.9 123.4,52.3 124.4,51.7 125.3,51.5 126.3,50.9 127.3,50.3 128.3,50.2 129.3,50.3 130.3,50.0 131.3,49.0 132.3,48.3 133.3,48.4 134.3,48.5 135.2,48.1 136.2,47.8 137.2,48.8 138.2,50.1 139.2,50.2 140.2,49.4 141.2,49.2 142.2,49.6 143.2,50.2 144.2,51.2 145.1,52.4 146.1,53.1 147.1,53.4 148.1,53.6 149.1,53.7 150.1,53.6 151.1,54.2 152.1,54.8 153.1,54.1 154.1,54.2 155.1,55.1 156.0,55.0 157.0,54.8 158.0,55.0 159.0,55.0 160.0,55.0 161.0,55.1 162.0,55.6 163.0,56.0 164.0,55.8 165.0,55.7 165.9,56.2 166.9,56.9 167.9,57.2 168.9,57.2 169.9,57.1 170.9,56.9 171.9,56.8 172.9,57.0 173.9,57.1 174.9,56.7 175.8,56.1 176.8,56.4 177.8,57.2 178.8,57.4 179.8,57.5 180.8,57.6 181.8,57.8 182.8,58.2 183.8,59.0 184.8,59.1 185.7,57.8 186.7,57.2 187.7,57.7 188.7,57.7 189.7,57.7 190.7,57.9 191.7,58.1 192.7,58.1 193.7,58.5 194.7,58.9 195.6,58.3 196.6,58.4 197.6,58.9 198.6,58.1 199.6,57.6 200.6,57.7 201.6,57.7 202.6,58.3 203.6,58.6 204.6,58.5 205.6,57.7 206.5,56.4 207.5,56.6 208.5,57.8 209.5,58.2 210.5,57.8 211.5,57.8 212.5,58.4 213.5,58.2 214.5,57.0 215.5,57.4 216.4,59.0 217.4,59.5 218.4,58.8 219.4,58.0 220.4,57.8 221.4,58.5 222.4,58.9 223.4,58.2 224.4,57.7 225.4,58.0 226.3,58.2 227.3,57.9 228.3,58.2 229.3,58.6 230.3,58.6 231.3,58.5 232.3,57.8 233.3,57.9 234.3,58.4 235.3,57.9 236.2,57.9 237.2,58.9 238.2,58.3 239.2,57.7 240.2,58.5 241.2,58.9 242.2,58.9 243.2,59.1 244.2,59.7 245.2,59.6 246.2,58.7 247.1,58.0 248.1,57.7 249.1,57.5 250.1,57.2 251.1,57.2 252.1,57.8 253.1,58.4 254.1,57.6 255.1,55.9 256.1,55.9 257.0,56.9 258.0,57.2 259.0,57.5 260.0,57.5 261.0,57.3 262.0,57.8 263.0,57.6 264.0,57.5 265.0,58.5 266.0,58.9 266.9,59.0 267.9,58.9 268.9,58.4 269.9,58.2 270.9,58.3 271.9,58.4 272.9,58.6 273.9,58.8 274.9,58.9 275.9,58.7 276.8,58.4 277.8,58.4 278.8,58.1 279.8,58.2 280.8,58.0 281.8,57.5 282.8,58.2 283.8,58.9 284.8,59.0 285.8,59.4 286.7,58.8 287.7,58.6 288.7,58.9 289.7,58.5 290.7,57.7 291.7,57.2 292.7,57.3 293.7,56.8 294.7,57.0 295.7,58.2 296.7,58.3 297.6,57.6 298.6,57.8 299.6,58.1 300.6,58.5 301.6,58.9 302.6,58.8 303.6,59.1 304.6,59.2 305.6,58.2 306.6,56.8 307.5,56.8 308.5,57.6 309.5,57.9 310.5,57.4 311.5,57.1 312.5,57.7 313.5,58.3 314.5,58.1 315.5,56.9 316.5,56.6 317.4,58.2 318.4,59.1 319.4,58.2 320.4,57.9 321.4,57.7 322.4,57.4 323.4,58.1 324.4,58.7" stroke="#ff9329"/>
<path d="M65.9,57.6 66.9,58.0 67.9,58.1 68.9,58.5 69.9,59.1 70.9,59.7 71.9,60.1 72.9,60.2 73.9,60.0 74.8,59.6 75.8,59.6 76.8,60.6 77.8,60.8 78.8,60.0 79.8,60.0 80.8,60.3 81.8,60.0 82.8,59.7 83.8,59.7 84.7,60.0 85.7,60.4 86.7,61.1 87.7,61.2 88.7,60.8 89.7,60.6 90.7,60.5 91.7,60.4 92.7,60.7 93.7,61.3 94.6,61.5 95.6,60.6 96.6,60.5 97.6,61.0 98.6,60.7 99.6,60.5 100.6,61.2 101.6,62.2 102.6,62.2 103.6,61.1 104.6,60.4 105.5,61.0 106.5,61.5 107.5,61.5 108.5,61.0 109.5,60.8 110.5,61.8 111.5,61.6 112.5,59.9 113.5,59.1 114.5,58.9 115.4,57.8 116.4,57.8 117.4,58.4 118.4,57.4 119.4,56.1 120.4,56.1 121.4,55.6 122.4,54.7 123.4,54.8 124.4,55.0 125.3,54.7 126.3,54.0 127.3,53.4 128.3,53.1 129.3,52.8 130.3,52.9 131.3,53.0 132.3,53.0 133.3,52.4 134.3,51.3 135.2,50.9 136.2,51.2 137.2,51.9 138.2,52.2 139.2,52.1 140.2,52.4 141.2,52.6 142.2,52.5 143.2,52.6 144.2,52.8 145.1,53.1 146.1,53.8 147.1,54.6 148.1,55.3 149.1,55.6 150.1,55.5 151.1,55.1 152.1,55.3 153.1,55.2 154.1,54.4 155.1,54.8 156.0,55.1 157.0,56.0 158.0,57.4 159.0,56.8 160.0,56.5 161.0,57.3 162.0,57.2 163.0,57.2 164.0,57.3 165.0,57.5 165.9,57.9 166.9,57.7 167.9,57.7 168.9,57.6 169.9,56.2 170.9,55.3 171.9,56.2 172.9,57.1 173.9,57.6 174.9,57.9 175.8,57.3 176.8,56.7 177.8,56.9 178.8,57.2 179.8,57.0 180.8,56.9 181.8,57.8 182.8,57.8 183.8,57.3 184.8,57.8 185.7,58.7 186.7,58.8 187.7,58.3 188.7,58.2 189.7,58.8 190.7,58.6 191.7,57.6 192.7,57.4 193.7,58.2 194.7,58.7 195.6,57.9 196.6,56.8 197.6,57.1 198.6,57.6 199.6,56.9 200.6,56.3 201.6,57.2 202.6,58.5 203.6,58.6 204.6,58.4 205.6,58.7 206.5,58.9 207.5,58.9 208.5,58.7 209.5,58.2 210.5,58.3 211.5,59.3 212.5,59.5 213.5,58.6 214.5,57.8 215.5,57.7 216.4,58.9 217.4,60.0 218.4,59.4 219.4,58.7 220.4,58.8 221.4,59.0 222.4,58.9 223.4,57.9 224.4,56.7 225.4,57.1 226.3,58.1 227.3,58.3 228.3,58.2 229.3,58.2 230.3,58.3 231.3,58.0 232.3,57.4 233.3,57.4 234.3,57.4 235.3,57.3 236.2,58.0 237.2,59.1 238.2,59.5 239.2,59.0 240.2,58.3 241.2,57.7 242.2,57.6 243.2,58.4 244.2,58.5 245.2,57.7 246.2,57.5 247.1,58.0 248.1,57.8 249.1,57.3 250.1,57.6 251.1,58.6 252.1,58.9 253.1,57.8 254.1,57.4 255.1,58.0 256.1,58.7 257.0,59.0 258.0,58.6 259.0,58.0 260.0,57.9 261.0,58.1 262.0,57.7 263.0,57.5 264.0,57.8 265.0,58.3 266.0,57.9 266.9,57.4 267.9,58.2 268.9,59.0 269.9,58.6 270.9,58.3 271.9,59.1 272.9,59.2 273.9,58.7 274.9,58.4 275.9,58.4 276.8,59.1 277.8,59.6 278.8,58.6 279.8,57.8 280.8,58.2 281.8,58.3 282.8,58.3 283.8,58.3 284.8,57.8 285.8,57.7 286.7,58.3 287.7,59.4 288.7,60.2 289.7,60.1 290.7,59.0 291.7,58.1 292.7,57.4 293.7,57.3 294.7,58.0 295.7,58.2 296.7,57.6 297.6,57.5 298.6,58.0 299.6,58.1 300.6,58.2 301.6,58.2 302.6,58.0 303.6,58.6 304.6,58.7 305.6,58.1 306.6,58.1 307.5,58.3 308.5,58.2 309.5,58.0 310.5,58.0 311.5,57.7 312.5,57.3 313.5,56.9 314.5,56.9 315.5,57.4 316.5,58.0 317.4,58.3 318.4,57.7 319.4,56.9 320.4,57.4 321.4,57.6 322.4,57.7 323.4,58.7 324.4,58.9" stroke="#ff9925"/>
<path d="M65.9,56.4 66.9,57.4 67.9,58.0 68.9,57.6 69.9,57.0 70.9,57.3 71.9,58.1 72.9,59.0 73.9,59.5 74.8,59.0 75.8,59.2 76.8,59.8 77.8,59.8 78.8,59.8 79.8,60.2 80.8,60.5 81.8,60.5 82.8,60.2 83.8,59.5 84.7,59.2 85.7,59.4 86.7,59.7 87.7,59.3 88.7,59.1 89.7,59.6 90.7,59.3 91.7,59.0 92.7,59.6 93.7,59.9 94.6,60.2 95.6,60.7 96.6,60.7 97.6,60.5 98.6,60.4 99.6,59.4 100.6,59.8 101.6,61.6 102.6,61.4 103.6,59.9 104.6,59.5 105.5,59.4 106.5,59.2 107.5,58.8 108.5,58.4 109.5,58.2 110.5,58.5 111.5,59.0 112.5,59.5 113.5,59.5 114.5,58.7 115.4,57.2 116.4,56.2 117.4,57.1 118.4,57.9 119.4,57.4 120.4,56.7 121.4,56.0 122.4,55.3 123.4,55.8 124.4,56.4 125.3,55.4 126.3,55.1 127.3,54.9 128.3,54.2 129.3,54.7 130.3,55.6 131.3,55.5 132.3,54.5 133.3,53.5 134.3,53.4 135.2,54.2 136.2,54.3 137.2,53.9 138.2,54.0 139.2,53.9 140.2,54.2 141.2,54.8 142.2,55.0 143.2,55.2 144.2,55.7 145.1,56.0 146.1,56.1 147.1,56.1 148.1,55.9 149.1,56.0 150.1,56.4 151.1,56.6 152.1,56.2 153.1,55.8 154.1,56.4 155.1,57.2 156.0,57.0 157.0,56.8 158.0,57.0 159.0,57.3 160.0,57.3 161.0,57.2 162.0,57.0 163.0,57.5 164.0,58.5 165.0,59.2 165.9,59.0 166.9,57.6 167.9,56.5 168.9,56.7 169.9,57.0 170.9,57.1 171.9,57.5 172.9,58.3 173.9,58.9 174.9,58.8 175.8,58.2 176.8,57.2 177.8,56.9 178.8,57.7 179.8,57.8 180.8,57.9 181.8,58.8 182.8,59.3 183.8,59.2 184.8,59.1 185.7,58.6 186.7,58.2 187.7,58.2 188.7,58.1 189.7,58.1 190.7,58.2 191.7,58.3 192.7,58.7 193.7,58.4 194.7,58.1 195.6,58.8 196.6,59.0 197.6,58.4 198.6,58.1 199.6,57.7 200.6,57.5 201.6,57.9 202.6,57.9 203.6,57.5 204.6,57.9 205.6,58.5 206.5,58.2 207.5,57.8 208.5,57.9 209.5,58.1 210.5,58.2 211.5,58.5 212.5,59.1 213.5,58.9 214.5,58.1 215.5,58.2 216.4,58.6 217.4,58.9 218.4,58.7 219.4,57.8 220.4,57.2 221.4,58.2 222.4,58.7 223.4,57.7 224.4,57.9 225.4,59.0 226.3,58.4 227.3,58.0 228.3,58.5 229.3,58.3 230.3,58.6 231.3,59.0 232.3,58.8 233.3,58.9 234.3,58.5 235.3,57.5 236.2,58.1 237.2,58.5 238.2,58.0 239.2,57.7 240.2,57.6 241.2,57.9 242.2,58.1 243.2,58.0 244.2,58.2 245.2,58.3 246.2,57.9 247.1,57.6 248.1,58.3 249.1,58.8 250.1,58.4 251.1,57.9 252.1,57.6 253.1,58.0 254.1,58.6 255.1,58.5 256.1,58.3 257.0,58.4 258.0,58.7 259.0,59.1 260.0,58.5 261.0,58.4 262.0,58.9 263.0,58.2 264.0,57.5 265.0,57.9 266.0,58.1 266.9,58.4 267.9,58.9 268.9,59.0 269.9,58.3 270.9,57.4 271.9,57.6 272.9,58.1 273.9,57.9 274.9,58.2 275.9,58.5 276.8,58.4 277.8,59.0 278.8,58.9 279.8,58.4 280.8,58.7 281.8,58.8 282.8,58.9 283.8,58.7 284.8,58.4 285.8,59.1 286.7,59.5 287.7,58.8 288.7,58.5 289.7,58.7 290.7,58.2 291.7,57.9 292.7,58.3 293.7,58.6 294.7,58.6 295.7,58.2 296.7,57.2 297.6,56.5 298.6,57.0 299.6,57.4 300.6,57.6 301.6,58.1 302.6,58.1 303.6,58.4 304.6,58.4 305.6,57.8 306.6,57.5 307.5,57.8 308.5,58.5 309.5,58.6 310.5,58.5 311.5,59.0 312.5,59.0 313.5,58.2 314.5,58.1 315.5,59.0 316.5,59.4 317.4,58.6 318.4,57.7 319.4,58.0 320.4,58.3 321.4,58.0 322.4,58.0 323.4,57.9 324.4,57.8" stroke="#ff9e21"/>
<path d="M65.9,54.9 66.9,55.7 67.9,56.8 68.9,57.2 69.9,57.3 70.9,57.5 71.9,57.8 72.9,58.3 73.9,58.2 74.8,58.0 75.8,58.8 76.8,59.2 77.8,58.4 78.8,58.1 79.8,58.6 80.8,59.0 81.8,59.2 82.8,58.8 83.8,58.0 84.7,58.0 85.7,58.5 86.7,59.3 87.7,59.6 88.7,58.9 89.7,58.1 90.7,57.6 91.7,57.3 92.7,57.8 93.7,58.5 94.6,58.8 95.6,58.2 96.6,57.7 97.6,57.7 98.6,58.0 99.6,58.0 100.6,58.1 101.6,58.6 102.6,58.4 103.6,58.3 104.6,59.2 105.5,59.5 106.5,58.8 107.5,58.4 108.5,58.2 109.5,58.4 110.5,58.7 111.5,58.2 112.5,57.8 113.5,58.2 114.5,58.7 115.4,58.4 116.4,57.2 117.4,56.9 118.4,57.5 119.4,57.1 120.4,56.7 121.4,57.2 122.4,57.5 123.4,57.6 124.4,57.2 125.3,56.4 126.3,55.9 127.3,55.8 128.3,55.6 129.3,56.1 130.3,56.2 131.3,55.3 132.3,55.2 133.3,55.6 134.3,55.2 135.2,55.3 136.2,55.3 137.2,55.7 138.2,57.3 139.2,57.4 140.2,56.3 141.2,56.5 142.2,56.6 143.2,55.8 144.2,56.3 145.1,57.3 146.1,57.2 147.1,56.1 148.1,56.3 149.1,57.5 150.1,57.6 151.1,57.7 152.1,58.3 153.1,58.2 154.1,58.4 155.1,57.7 156.0,56.7 157.0,56.7 158.0,56.9 159.0,57.0 160.0,57.1 161.0,57.4 162.0,58.2 163.0,58.0 164.0,57.7 165.0,58.1 165.9,58.0 166.9,57.0 167.9,57.0 168.9,58.1 169.9,58.4 170.9,57.8 171.9,57.9 172.9,58.1 173.9,57.7 174.9,57.6 175.8,57.1 176.8,56.2 177.8,56.4 178.8,57.1 179.8,56.6 180.8,56.1 181.8,57.0 182.8,58.1 183.8,58.1 184.8,58.1 185.7,58.3 186.7,58.1 187.7,58.0 188.7,58.2 189.7,58.2 190.7,58.3 191.7,58.5 192.7,58.1 193.7,57.9 194.7,58.6 195.6,58.9 196.6,58.4 197.6,58.8 198.6,58.9 199.6,58.2 200.6,58.4 201.6,59.1 202.6,59.5 203.6,58.9 204.6,58.0 205.6,57.9 206.5,58.1 207.5,58.0 208.5,58.1 209.5,58.6 210.5,58.2 211.5,57.6 212.5,57.8 213.5,57.8 214.5,57.5 215.5,57.6 216.4,58.0 217.4,58.0 218.4,58.0 219.4,58.2 220.4,58.3 221.4,58.5 222.4,58.6 223.4,58.2 224.4,58.0 225.4,58.4 226.3,59.0 227.3,58.8 228.3,58.6 229.3,58.4 230.3,57.7 231.3,57.5 232.3,57.9 233.3,58.5 234.3,58.4 235.3,58.2 236.2,58.6 237.2,58.4 238.2,58.2 239.2,58.4 240.2,58.6 241.2,58.7 242.2,58.7 243.2,59.1 244.2,58.8 245.2,58.0 246.2,58.8 247.1,59.2 248.1,58.5 249.1,59.3 250.1,60.2 251.1,58.9 252.1,57.7 253.1,57.4 254.1,57.3 255.1,57.7 256.1,58.2 257.0,58.5 258.0,58.0 259.0,57.3 260.0,57.5 261.0,58.5 262.0,59.3 263.0,59.2 264.0,58.8 265.0,58.3 266.0,58.3 266.9,58.5 267.9,58.2 268.9,57.8 269.9,58.3 270.9,57.8 271.9,56.8 272.9,57.7 273.9,58.4 274.9,57.9 275.9,57.3 276.8,58.0 277.8,58.9 278.8,59.2 279.8,58.8 280.8,57.8 281.8,57.8 282.8,58.3 283.8,57.9 284.8,58.1 285.8,58.3 286.7,57.7 287.7,58.4 288.7,58.8 289.7,57.6 290.7,56.7 291.7,57.0 292.7,57.8 293.7,58.3 294.7,57.5 295.7,56.8 296.7,56.9 297.6,57.4 298.6,57.9 299.6,57.6 300.6,57.8 301.6,59.2 302.6,59.6 303.6,59.0 304.6,58.2 305.6,58.0 306.6,58.2 307.5,58.3 308.5,58.3 309.5,58.0 310.5,57.8 311.5,57.8 312.5,58.0 313.5,58.2 314.5,58.2 315.5,58.0 316.5,57.8 317.4,57.5 318.4,57.7 319.4,58.3 320.4,58.6 321.4,58.5 322.4,58.2 323.4,58.3 324.4,58.5" stroke="#ffa41e"/>
<path d="M65.9,55.3 66.9,55.6 67.9,55.7 68.9,55.7 69.9,56.0 70.9,57.3 71.9,58.4 72.9,58.5 73.9,58.9 74.8,58.6 75.8,57.6 76.8,57.6 77.8,58.4 78.8,58.6 79.8,58.8 80.8,59.0 81.8,58.5 82.8,57.8 83.8,57.6 84.7,58.1 85.7,58.2 86.7,58.1 87.7,58.1 88.7,58.3 89.7,58.2 90.7,58.5 91.7,58.8 92.7,58.4 93.7,58.0 94.6,57.5 95.6,57.1 96.6,58.1 97.6,59.6 98.6,59.7 99.6,59.5 100.6,58.9 101.6,58.4 102.6,59.2 103.6,59.2 104.6,58.6 105.5,58.0 106.5,57.5 107.5,57.6 108.5,57.4 109.5,57.3 110.5,58.0 111.5,58.5 112.5,58.5 113.5,57.9 114.5,57.0 115.4,56.9 116.4,57.6 117.4,58.3 118.4,58.6 119.4,58.4 120.4,57.4 121.4,57.2 122.4,58.7 123.4,58.6 124.4,57.4 125.3,57.4 126.3,57.6 127.3,57.3 128.3,56.6 129.3,56.2 130.3,56.4 131.3,56.4 132.3,56.5 133.3,56.1 134.3,55.5 135.2,56.0 136.2,57.2 137.2,57.6 138.2,57.3 139.2,57.1 140.2,57.2 141.2,57.2 142.2,56.9 143.2,56.9 144.2,57.0 145.1,57.0 146.1,57.3 147.1,57.4 148.1,56.8 149.1,56.8 150.1,57.1 151.1,56.9 152.1,56.7 153.1,57.0 154.1,57.5 155.1,58.2 156.0,58.6 157.0,58.2 158.0,58.0 159.0,57.5 160.0,57.2 161.0,58.3 162.0,58.1 163.0,57.1 164.0,56.9 165.0,57.5 165.9,58.7 166.9,58.7 167.9,58.1 168.9,57.6 169.9,57.2 170.9,57.5 171.9,57.9 172.9,57.9 173.9,58.1 174.9,58.3 175.8,58.5 176.8,58.5 177.8,58.4 178.8,58.5 179.8,59.2 180.8,59.2 181.8,58.3 182.8,58.2 183.8,58.7 184.8,58.8 185.7,58.3 186.7,57.8 187.7,58.0 188.7,57.9 189.7,58.1 190.7,58.3 191.7,58.3 192.7,58.2 193.7,57.6 194.7,57.6 195.6,58.4 196.6,58.2 197.6,57.0 198.6,56.9 199.6,57.9 200.6,58.3 201.6,58.1 202.6,57.8 203.6,57.8 204.6,58.4 205.6,58.7 206.5,58.3 207.5,57.3 208.5,57.0 209.5,57.7 210.5,57.6 211.5,57.4 212.5,58.3 213.5,58.5 214.5,57.8 215.5,57.8 216.4,57.8 217.4,57.5 218.4,58.2 219.4,59.0 220.4,58.5 221.4,57.7 222.4,57.3 223.4,57.8 224.4,58.2 225.4,58.0 226.3,58.4 227.3,58.9 228.3,58.6 229.3,58.0 230.3,57.0 231.3,56.9 232.3,58.4 233.3,59.3 234.3,59.1 235.3,59.0 236.2,58.8 237.2,58.1 238.2,58.0 239.2,59.0 240.2,59.9 241.2,59.3 242.2,57.8 243.2,57.7 244.2,59.1 245.2,59.5 246.2,58.3 247.1,57.4 248.1,57.4 249.1,57.7 250.1,57.7 251.1,58.0 252.1,57.9 253.1,57.4 254.1,58.0 255.1,58.9 256.1,59.2 257.0,59.2 258.0,58.3 259.0,58.0 260.0,58.3 261.0,57.4 262.0,56.8 263.0,57.8 264.0,59.0 265.0,59.1 266.0,59.0 266.9,59.3 267.9,59.3 268.9,58.7 269.9,58.2 270.9,58.3 271.9,58.2 272.9,57.3 273.9,57.0 274.9,57.7 275.9,57.9 276.8,57.6 277.8,57.5 278.8,57.1 279.8,57.4 280.8,58.5 281.8,58.2 282.8,57.1 283.8,57.3 284.8,58.0 285.8,58.1 286.7,58.3 287.7,58.6 288.7,58.7 289.7,58.7 290.7,58.5 291.7,58.4 292.7,58.4 293.7,58.1 294.7,57.8 295.7,57.6 296.7,57.2 297.6,57.2 298.6,57.4 299.6,57.7 300.6,58.0 301.6,58.2 302.6,58.6 303.6,58.4 304.6,57.9 305.6,57.9 306.6,58.3 307.5,58.3 308.5,57.9 309.5,58.1 310.5,58.2 311.5,57.9 312.5,57.9 313.5,58.5 314.5,59.4 315.5,59.6 316.5,59.2 317.4,58.8 318.4,57.9 319.4,57.9 320.4,59.4 321.4,59.4 322.4,58.1 323.4,57.4 324.4,57.8" stroke="#ffa91b"/>
<path d="M65.9,54.0 66.9,54.4 67.9,54.6 68.9,54.8 69.9,55.9 70.9,57.3 71.9,57.4 72.9,57.3 73.9,57.7 74.8,57.9 75.8,58.1 76.8,58.0 77.8,57.6 78.8,58.1 79.8,58.7 80.8,58.5 81.8,57.5 82.8,56.7 83.8,56.8 84.7,56.9 85.7,57.8 86.7,58.8 87.7,58.5 88.7,58.6 89.7,59.2 90.7,58.4 91.7,57.7 92.7,58.5 93.7,58.4 94.6,57.3 95.6,57.8 96.6,58.7 97.6,58.6 98.6,58.3 99.6,58.0 100.6,57.8 101.6,58.2 102.6,57.9 103.6,57.8 104.6,58.7 105.5,58.5 106.5,58.2 107.5,58.7 108.5,59.0 109.5,58.8 110.5,58.3 111.5,58.0 112.5,57.4 113.5,57.1 114.5,57.6 115.4,57.9 116.4,57.7 117.4,57.9 118.4,58.0 119.4,57.3 120.4,57.0 121.4,57.4 122.4,57.8 123.4,56.8 124.4,56.0 125.3,56.9 126.3,58.0 127.3,57.8 128.3,57.3 129.3,57.3 130.3,57.3 131.3,57.3 132.3,57.4 133.3,57.6 134.3,57.7 135.2,57.3 136.2,57.0 137.2,57.3 138.2,57.5 139.2,57.9 140.2,58.0 141.2,57.4 142.2,57.2 143.2,57.4 144.2,57.6 145.1,58.2 146.1,58.0 147.1,57.1 148.1,57.4 149.1,58.5 150.1,58.5 151.1,58.1 152.1,58.2 153.1,58.1 154.1,58.1 155.1,57.5 156.0,56.4 157.0,56.4 158.0,57.6 159.0,58.5 160.0,58.3 161.0,58.0 162.0,57.8 163.0,58.0 164.0,58.7 165.0,58.5 165.9,58.3 166.9,58.1 167.9,57.9 168.9,58.4 169.9,58.5 170.9,58.8 171.9,59.8 172.9,59.8 173.9,58.9 174.9,57.9 175.8,57.4 176.8,57.6 177.8,58.6 178.8,59.3 179.8,58.9 180.8,58.2 181.8,57.5 182.8,56.7 183.8,56.6 184.8,57.1 185.7,57.9 186.7,58.6 187.7,58.9 188.7,58.7 189.7,58.5 190.7,58.7 191.7,58.9 192.7,58.9 193.7,58.6 194.7,58.3 195.6,58.4 196.6,58.6 197.6,58.4 198.6,58.0 199.6,58.0 200.6,57.4 201.6,57.6 202.6,59.3 203.6,59.5 204.6,58.4 205.6,57.9 206.5,58.2 207.5,58.4 208.5,58.5 209.5,58.5 210.5,58.6 211.5,59.0 212.5,60.2 213.5,59.6 214.5,57.8 215.5,58.0 216.4,58.2 217.4,57.1 218.4,56.9 219.4,57.6 220.4,58.1 221.4,58.0 222.4,58.3 223.4,58.9 224.4,58.5 225.4,57.9 226.3,57.3 227.3,57.5 228.3,58.5 229.3,58.8 230.3,58.2 231.3,58.0 232.3,58.4 233.3,58.3 234.3,57.9 235.3,57.6 236.2,57.5 237.2,58.1 238.2,59.2 239.2,59.3 240.2,58.5 241.2,58.4 242.2,58.7 243.2,59.0 244.2,59.3 245.2,59.6 246.2,59.9 247.1,59.5 248.1,58.4 249.1,57.5 250.1,57.7 251.1,58.3 252.1,58.1 253.1,58.1 254.1,58.6 255.1,58.7 256.1,57.9 257.0,57.1 258.0,58.2 259.0,59.1 260.0,57.7 261.0,57.0 262.0,57.2 263.0,56.7 264.0,57.2 265.0,58.0 266.0,58.4 266.9,59.0 267.9,59.3 268.9,59.8 269.9,59.5 270.9,58.6 271.9,58.5 272.9,58.4 273.9,58.2 274.9,58.6 275.9,58.5 276.8,58.5 277.8,58.6 278.8,58.4 279.8,58.6 280.8,59.2 281.8,59.5 282.8,59.1 283.8,58.1 284.8,57.2 285.8,57.1 286.7,57.5 287.7,57.7 288.7,57.7 289.7,57.7 290.7,57.9 291.7,58.2 292.7,58.4 293.7,57.9 294.7,57.6 295.7,58.5 296.7,58.8 297.6,58.4 298.6,57.5 299.6,57.2 300.6,58.8 301.6,59.7 302.6,58.6 303.6,58.3 304.6,59.1 305.6,58.9 306.6,59.1 307.5,59.4 308.5,58.5 309.5,57.9 310.5,58.4 311.5,59.0 312.5,59.2 313.5,58.7 314.5,58.5 315.5,58.4 316.5,57.7 317.4,58.3 318.4,59.0 319.4,58.0 320.4,58.0 321.4,58.6 322.4,58.9 323.4,59.3 324.4,58.8" stroke="#ffaf18"/>
<path d="M65.9,55.5 66.9,55.5 67.9,54.5 68.9,54.8 69.9,56.3 70.9,56.8 71.9,56.5 72.9,56.7 73.9,56.9 74.8,57.2 75.8,57.6 76.8,57.9 77.8,58.1 78.8,57.8 79.8,58.3 80.8,58.7 81.8,58.1 82.8,57.4 83.8,57.1 84.7,57.3 85.7,57.3 86.7,57.5 87.7,58.3 88.7,59.5 89.7,60.2 90.7,59.7 91.7,58.6 92.7,58.0 93.7,57.9 94.6,57.9 95.6,58.2 96.6,58.9 97.6,59.5 98.6,59.0 99.6,57.5 100.6,57.4 101.6,58.5 102.6,58.3 103.6,57.3 104.6,57.1 105.5,57.7 106.5,57.6 107.5,57.7 108.5,58.7 109.5,58.8 110.5,58.3 111.5,57.7 112.5,56.7 113.5,56.7 114.5,57.7 115.4,58.0 116.4,57.4 117.4,57.3 118.4,58.0 119.4,58.5 120.4,58.7 121.4,57.9 122.4,57.0 123.4,56.8 124.4,56.9 125.3,57.3 126.3,57.9 127.3,57.8 128.3,57.1 129.3,57.4 130.3,57.9 131.3,57.5 132.3,57.0 133.3,57.1 134.3,57.7 135.2,57.9 136.2,57.3 137.2,56.7 138.2,57.5 139.2,58.1 140.2,58.2 141.2,58.4 142.2,58.2 143.2,57.8 144.2,57.5 145.1,57.4 146.1,56.8 147.1,56.6 148.1,57.8 149.1,58.5 150.1,58.1 151.1,58.0 152.1,58.3 153.1,58.3 154.1,58.0 155.1,58.6 156.0,59.5 157.0,58.9 158.0,57.8 159.0,57.7 160.0,58.5 161.0,58.6 162.0,58.1 163.0,58.4 164.0,58.4 165.0,57.9 165.9,57.9 166.9,58.5 167.9,58.7 168.9,58.3 169.9,58.5 170.9,58.3 171.9,57.2 172.9,57.7 173.9,58.9 174.9,59.0 175.8,58.9 176.8,59.4 177.8,59.5 178.8,58.3 179.8,57.7 180.8,58.2 181.8,58.5 182.8,58.3 183.8,58.3 184.8,58.9 185.7,59.1 186.7,58.6 187.7,58.1 188.7,58.5 189.7,59.2 190.7,58.6 191.7,57.9 192.7,58.4 193.7,58.8 194.7,58.4 195.6,58.0 196.6,58.3 197.6,59.0 198.6,59.3 199.6,58.7 200.6,57.9 201.6,58.2 202.6,58.6 203.6,58.0 204.6,58.4 205.6,59.0 206.5,58.8 207.5,58.9 208.5,59.1 209.5,59.0 210.5,58.8 211.5,59.2 212.5,59.4 213.5,58.8 214.5,58.3 215.5,57.8 216.4,57.7 217.4,57.9 218.4,57.8 219.4,57.8 220.4,58.6 221.4,59.0 222.4,59.3 223.4,59.9 224.4,59.3 225.4,58.6 226.3,58.3 227.3,57.7 228.3,57.7 229.3,58.3 230.3,58.3 231.3,58.2 232.3,58.6 233.3,58.7 234.3,58.0 235.3,57.4 236.2,57.3 237.2,58.5 238.2,59.4 239.2,58.3 240.2,57.7 241.2,57.8 242.2,57.2 243.2,57.3 244.2,58.5 245.2,59.2 246.2,59.1 247.1,58.3 248.1,57.8 249.1,58.3 250.1,59.2 251.1,59.6 252.1,59.9 253.1,60.1 254.1,60.0 255.1,59.7 256.1,58.9 257.0,58.1 258.0,58.0 259.0,58.5 260.0,58.8 261.0,58.5 262.0,58.2 263.0,58.5 264.0,58.6 265.0,58.8 266.0,58.8 266.9,58.9 267.9,58.8 268.9,58.6 269.9,58.9 270.9,59.0 271.9,58.7 272.9,57.8 273.9,57.8 274.9,58.8 275.9,59.2 276.8,59.2 277.8,58.7 278.8,57.6 279.8,57.4 280.8,58.2 281.8,58.3 282.8,58.4 283.8,58.2 284.8,57.8 285.8,57.8 286.7,58.1 287.7,58.5 288.7,58.5 289.7,58.1 290.7,58.2 291.7,59.1 292.7,59.5 293.7,59.5 294.7,59.5 295.7,58.9 296.7,57.5 297.6,56.7 298.6,57.5 299.6,58.7 300.6,59.1 301.6,58.9 302.6,58.2 303.6,57.5 304.6,57.6 305.6,57.9 306.6,58.8 307.5,60.1 308.5,60.1 309.5,58.9 310.5,57.8 311.5,57.7 312.5,58.3 313.5,58.5 314.5,58.0 315.5,57.9 316.5,58.5 317.4,58.8 318.4,58.1 319.4,57.9 320.4,58.5 321.4,59.0 322.4,59.3 323.4,59.9 324.4,60.0" stroke="#ffb516"/>
<path d="M65.9,53.8 66.9,54.5 67.9,54.5 68.9,54.7 69.9,55.2 70.9,55.6 71.9,56.3 72.9,57.0 73.9,57.5 74.8,57.6 75.8,57.6 76.8,57.5 77.8,57.8 78.8,58.4 79.8,58.3 80.8,58.1 81.8,57.8 82.8,57.6 83.8,58.0 84.7,58.4 85.7,58.4 86.7,58.0 87.7,57.9 88.7,58.2 89.7,58.1 90.7,57.8 91.7,57.7 92.7,57.6 93.7,57.6 94.6,57.7 95.6,57.6 96.6,57.5 97.6,57.3 98.6,57.0 99.6,57.0 100.6,56.9 101.6,57.0 102.6,57.4 103.6,57.3 104.6,57.9 105.5,58.5 106.5,58.1 107.5,57.4 108.5,57.1 109.5,57.7 110.5,57.9 111.5,58.2 112.5,58.7 113.5,58.3 114.5,57.9 115.4,56.9 116.4,56.6 117.4,57.8 118.4,58.6 119.4,58.1 120.4,57.5 121.4,57.5 122.4,58.1 123.4,58.6 124.4,58.5 125.3,57.9 126.3,57.3 127.3,57.9 128.3,58.4 129.3,58.4 130.3,58.7 131.3,58.5 132.3,58.2 133.3,58.3 134.3,57.9 135.2,57.2 136.2,57.8 137.2,58.7 138.2,58.4 139.2,57.9 140.2,58.2 141.2,58.2 142.2,57.9 143.2,57.9 144.2,58.1 145.1,58.5 146.1,58.6 147.1,58.5 148.1,58.1 149.1,57.6 150.1,57.9 151.1,58.2 152.1,57.9 153.1,58.1 154.1,58.3 155.1,58.5 156.0,59.0 157.0,59.3 158.0,58.7 159.0,58.2 160.0,58.6 161.0,59.0 162.0,58.6 163.0,57.7 164.0,57.5 165.0,58.3 165.9,58.4 166.9,58.4 167.9,58.5 168.9,58.7 169.9,58.8 170.9,58.4 171.9,58.5 172.9,58.6 173.9,57.7 174.9,57.3 175.8,58.1 176.8,59.1 177.8,59.2 178.8,58.7 179.8,58.0 180.8,58.1 181.8,59.2 182.8,59.1 183.8,58.3 184.8,58.0 185.7,58.6 186.7,59.3 187.7,59.3 188.7,59.3 189.7,59.2 190.7,58.8 191.7,58.7 192.7,58.9 193.7,58.6 194.7,57.4 195.6,57.1 196.6,58.2 197.6,59.6 198.6,60.3 199.6,59.6 200.6,58.3 201.6,57.1 202.6,57.4 203.6,58.1 204.6,57.7 205.6,57.6 206.5,57.9 207.5,57.8 208.5,58.2 209.5,59.1 210.5,59.4 211.5,58.6 212.5,58.4 213.5,59.4 214.5,59.6 215.5,59.4 216.4,59.4 217.4,58.4 218.4,58.1 219.4,57.8 220.4,57.7 221.4,59.1 222.4,58.9 223.4,57.7 224.4,58.1 225.4,58.6 226.3,58.2 227.3,57.6 228.3,57.5 229.3,58.2 230.3,58.7 231.3,58.6 232.3,58.0 233.3,57.7 234.3,57.6 235.3,57.8 236.2,58.4 237.2,58.0 238.2,57.1 239.2,57.3 240.2,58.3 241.2,59.1 242.2,59.2 243.2,58.7 244.2,58.5 245.2,59.0 246.2,59.6 247.1,59.2 248.1,58.2 249.1,58.3 250.1,59.2 251.1,59.5 252.1,59.7 253.1,58.3 254.1,56.8 255.1,57.7 256.1,58.9 257.0,59.3 258.0,59.8 259.0,59.9 260.0,59.1 261.0,58.3 262.0,58.3 263.0,58.9 264.0,58.4 265.0,58.2 266.0,59.0 266.9,59.1 267.9,59.1 268.9,58.3 269.9,57.6 270.9,58.1 271.9,58.6 272.9,58.8 273.9,58.3 274.9,57.9 275.9,58.4 276.8,58.6 277.8,58.1 278.8,58.4 279.8,59.2 280.8,59.1 281.8,58.8 282.8,58.2 283.8,57.8 284.8,57.7 285.8,58.0 286.7,58.8 287.7,59.3 288.7,59.2 289.7,58.7 290.7,58.5 291.7,58.9 292.7,59.3 293.7,59.0 294.7,58.6 295.7,58.4 296.7,58.2 297.6,57.9 298.6,58.6 299.6,59.5 300.6,59.5 301.6,59.1 302.6,58.0 303.6,57.5 304.6,58.0 305.6,58.7 306.6,59.8 307.5,60.3 308.5,59.5 309.5,59.2 310.5,59.4 311.5,58.8 312.5,58.2 313.5,57.7 314.5,57.3 315.5,57.8 316.5,58.5 317.4,58.4 318.4,58.5 319.4,58.6 320.4,57.9 321.4,57.8 322.4,58.6 323.4,57.9 324.4,56.7" stroke="#ffba13"/>
<path d="M65.9,52.4 66.9,52.8 67.9,53.3 68.9,54.3 69.9,55.3 70.9,56.0 71.9,56.6 72.9,57.0 73.9,57.5 74.8,57.2 75.8,57.3 76.8,57.5 77.8,57.2 78.8,57.4 79.8,57.5 80.8,57.5 81.8,57.8 82.8,57.3 83.8,56.3 84.7,56.0 85.7,56.3 86.7,56.7 87.7,57.1 88.7,57.6 89.7,57.7 90.7,57.5 91.7,57.6 92.7,58.2 93.7,58.6 94.6,58.2 95.6,57.7 96.6,57.8 97.6,57.8 98.6,58.1 99.6,58.6 100.6,58.8 101.6,58.5 102.6,58.2 103.6,57.7 104.6,57.6 105.5,58.6 106.5,59.0 107.5,58.1 108.5,57.9 109.5,57.3 110.5,56.1 111.5,56.2 112.5,56.8 113.5,57.1 114.5,57.2 115.4,57.4 116.4,58.0 117.4,58.4 118.4,57.8 119.4,56.6 120.4,56.7 121.4,57.4 122.4,57.4 123.4,57.3 124.4,57.4 125.3,57.5 126.3,57.5 127.3,57.8 128.3,58.1 129.3,58.0 130.3,58.0 131.3,58.6 132.3,58.4 133.3,57.6 134.3,58.3 135.2,59.7 136.2,60.5 137.2,60.3 138.2,58.8 139.2,58.0 140.2,58.7 141.2,59.2 142.2,58.9 143.2,58.0 144.2,57.6 145.1,57.6 146.1,57.0 147.1,56.7 148.1,57.4 149.1,58.7 150.1,59.4 151.1,59.7 152.1,59.1 153.1,57.9 154.1,57.9 155.1,58.3 156.0,57.7 157.0,57.4 158.0,57.9 159.0,57.9 160.0,58.0 161.0,59.0 162.0,59.3 163.0,58.7 164.0,58.8 165.0,58.9 165.9,58.5 166.9,58.1 167.9,58.1 168.9,58.6 169.9,58.6 170.9,58.4 171.9,58.3 172.9,58.3 173.9,58.2 174.9,58.2 175.8,59.0 176.8,59.5 177.8,58.6 178.8,58.1 179.8,58.7 180.8,59.1 181.8,58.9 182.8,58.6 183.8,58.5 184.8,58.9 185.7,59.0 186.7,58.1 187.7,58.1 188.7,58.5 189.7,57.9 190.7,57.6 191.7,58.0 192.7,58.3 193.7,58.0 194.7,58.6 195.6,59.4 196.6,58.8 197.6,58.8 198.6,59.2 199.6,59.5 200.6,59.5 201.6,58.8 202.6,58.6 203.6,58.4 204.6,57.9 205.6,58.3 206.5,59.2 207.5,59.3 208.5,58.6 209.5,58.2 210.5,58.9 211.5,59.0 212.5,58.3 213.5,58.3 214.5,58.0 215.5,57.8 216.4,58.6 217.4,59.3 218.4,59.5 219.4,59.0 220.4,58.0 221.4,58.1 222.4,58.7 223.4,58.2 224.4,57.9 225.4,57.8 226.3,57.3 227.3,58.1 228.3,58.9 229.3,59.1 230.3,59.0 231.3,58.0 232.3,57.7 233.3,58.3 234.3,58.2 235.3,57.6 236.2,57.5 237.2,58.7 238.2,60.0 239.2,60.1 240.2,59.7 241.2,59.5 242.2,59.0 243.2,58.5 244.2,58.9 245.2,58.9 246.2,58.2 247.1,58.3 248.1,58.2 249.1,58.3 250.1,59.3 251.1,58.7 252.1,57.5 253.1,58.3 254.1,59.2 255.1,59.1 256.1,59.3 257.0,59.5 258.0,59.1 259.0,58.7 260.0,58.4 261.0,58.7 262.0,59.7 263.0,59.6 264.0,58.7 265.0,58.3 266.0,57.9 266.9,58.4 267.9,59.1 268.9,58.9 269.9,58.9 270.9,58.4 271.9,57.3 272.9,57.1 273.9,57.8 274.9,58.1 275.9,58.0 276.8,58.7 277.8,59.8 278.8,59.4 279.8,58.4 280.8,58.4 281.8,58.6 282.8,58.0 283.8,57.7 284.8,58.3 285.8,58.8 286.7,58.8 287.7,58.3 288.7,57.5 289.7,57.6 290.7,58.7 291.7,59.4 292.7,59.0 293.7,58.2 294.7,58.1 295.7,58.2 296.7,58.1 297.6,58.3 298.6,58.8 299.6,59.3 300.6,59.1 301.6,58.6 302.6,58.4 303.6,58.8 304.6,58.5 305.6,58.1 306.6,58.4 307.5,58.7 308.5,58.9 309.5,59.5 310.5,59.7 311.5,59.5 312.5,58.9 313.5,58.6 314.5,59.1 315.5,58.9 316.5,58.4 317.4,58.3 318.4,58.1 319.4,58.4 320.4,59.3 321.4,59.5 322.4,58.8 323.4,58.1 324.4,58.3" stroke="#ffc010"/>
<path d="M65.9,52.0 66.9,52.7 67.9,54.2 68.9,55.1 69.9,55.5 70.9,55.7 71.9,55.6 72.9,55.6 73.9,56.1 74.8,56.8 75.8,57.4 76.8,57.7 77.8,58.1 78.8,58.3 79.8,57.5 80.8,57.0 81.8,57.5 82.8,57.9 83.8,57.7 84.7,57.5 85.7,57.0 86.7,56.9 87.7,57.6 88.7,57.6 89.7,57.3 90.7,57.6 91.7,58.1 92.7,58.5 93.7,58.2 94.6,57.2 95.6,57.0 96.6,57.6 97.6,57.5 98.6,57.1 99.6,57.0 100.6,57.3 101.6,57.2 102.6,57.5 103.6,58.1 104.6,58.5 105.5,59.2 106.5,59.5 107.5,59.1 108.5,58.7 109.5,57.6 110.5,57.2 111.5,57.7 112.5,58.0 113.5,58.0 114.5,57.9 115.4,57.7 116.4,57.7 117.4,58.1 118.4,58.4 119.4,58.0 120.4,57.6 121.4,57.4 122.4,57.2 123.4,57.2 124.4,57.5 125.3,58.3 126.3,58.5 127.3,57.7 128.3,57.6 129.3,57.4 130.3,56.9 131.3,57.3 132.3,58.0 133.3,57.8 134.3,57.1 135.2,57.1 136.2,58.1 137.2,58.8 138.2,58.5 139.2,58.2 140.2,57.8 141.2,57.8 142.2,58.3 143.2,58.1 144.2,57.7 145.1,58.0 146.1,58.7 147.1,59.1 148.1,59.3 149.1,58.9 150.1,58.1 151.1,58.4 152.1,59.0 153.1,59.1 154.1,60.0 155.1,60.2 156.0,58.4 157.0,57.9 158.0,59.2 159.0,59.2 160.0,58.7 161.0,58.9 162.0,59.3 163.0,59.2 164.0,59.0 165.0,58.9 165.9,58.7 166.9,58.9 167.9,59.1 168.9,59.3 169.9,59.1 170.9,58.8 171.9,59.2 172.9,59.0 173.9,58.4 174.9,58.3 175.8,58.1 176.8,58.2 177.8,58.9 178.8,58.9 179.8,58.7 180.8,59.0 181.8,58.7 182.8,58.3 183.8,58.8 184.8,59.1 185.7,59.0 186.7,58.8 187.7,58.7 188.7,58.6 189.7,58.5 190.7,58.3 191.7,58.0 192.7,58.0 193.7,58.3 194.7,58.1 195.6,58.3 196.6,58.4 197.6,58.5 198.6,59.3 199.6,59.3 200.6,58.5 201.6,58.8 202.6,59.0 203.6,58.3 204.6,57.8 205.6,57.2 206.5,57.1 207.5,57.8 208.5,58.1 209.5,58.5 210.5,59.1 211.5,58.9 212.5,58.6 213.5,58.8 214.5,59.0 215.5,59.1 216.4,58.2 217.4,58.1 218.4,58.9 219.4,58.5 220.4,57.7 221.4,58.3 222.4,59.3 223.4,59.2 224.4,58.0 225.4,57.8 226.3,58.7 227.3,59.1 228.3,59.1 229.3,58.9 230.3,58.6 231.3,58.8 232.3,58.5 233.3,57.8 234.3,58.2 235.3,58.5 236.2,58.1 237.2,58.4 238.2,58.5 239.2,58.5 240.2,58.7 241.2,58.3 242.2,57.8 243.2,58.1 244.2,58.6 245.2,59.1 246.2,59.6 247.1,59.1 248.1,58.3 249.1,58.1 250.1,58.5 251.1,59.0 252.1,59.2 253.1,58.9 254.1,58.3 255.1,58.0 256.1,58.5 257.0,58.9 258.0,59.0 259.0,59.0 260.0,59.5 261.0,60.3 262.0,60.3 263.0,59.6 264.0,58.7 265.0,58.5 266.0,58.3 266.9,58.3 267.9,58.6 268.9,58.2 269.9,58.3 270.9,58.5 271.9,58.4 272.9,59.3 273.9,59.7 274.9,58.9 275.9,58.5 276.8,59.2 277.8,59.9 278.8,59.4 279.8,58.1 280.8,57.0 281.8,57.3 282.8,58.5 283.8,59.1 284.8,59.1 285.8,59.1 286.7,58.8 287.7,58.5 288.7,58.7 289.7,58.7 290.7,58.9 291.7,58.6 292.7,57.9 293.7,58.0 294.7,58.9 295.7,59.1 296.7,58.6 297.6,58.1 298.6,57.7 299.6,57.6 300.6,58.3 301.6,58.6 302.6,57.6 303.6,57.3 304.6,57.6 305.6,58.1 306.6,59.2 307.5,59.4 308.5,58.7 309.5,58.5 310.5,59.0 311.5,58.7 312.5,57.8 313.5,58.0 314.5,58.2 315.5,58.1 316.5,58.7 317.4,58.8 318.4,58.5 319.4,58.5 320.4,58.9 321.4,59.1 322.4,59.1 323.4,59.1 324.4,58.7" stroke="#ffc60d"/>
<path d="M65.9,52.3 66.9,53.1 67.9,54.4 68.9,55.3 69.9,55.1 70.9,55.7 71.9,57.0 72.9,56.9 73.9,56.8 74.8,57.8 75.8,57.8 76.8,57.4 77.8,57.8 78.8,57.6 79.8,57.1 80.8,57.8 81.8,58.9 82.8,59.3 83.8,59.2 84.7,58.2 85.7,56.8 86.7,57.0 87.7,57.6 88.7,56.9 89.7,56.9 90.7,57.5 91.7,57.3 92.7,57.6 93.7,58.5 94.6,59.1 95.6,58.7 96.6,58.1 97.6,58.2 98.6,58.0 99.6,57.8 100.6,57.9 101.6,57.7 102.6,57.8 103.6,58.2 104.6,58.3 105.5,58.3 106.5,58.7 107.5,58.9 108.5,58.3 109.5,57.6 110.5,57.3 111.5,57.7 112.5,58.4 113.5,59.0 114.5,59.5 115.4,58.7 116.4,57.0 117.4,56.5 118.4,56.9 119.4,57.3 120.4,57.3 121.4,57.9 122.4,58.9 123.4,58.5 124.4,57.2 125.3,57.0 126.3,57.6 127.3,58.2 128.3,58.4 129.3,58.6 130.3,59.1 131.3,59.2 132.3,58.6 133.3,58.3 134.3,57.9 135.2,57.1 136.2,57.6 137.2,58.2 138.2,58.5 139.2,58.6 140.2,58.0 141.2,57.9 142.2,58.2 143.2,57.7 144.2,57.5 145.1,58.4 146.1,58.4 147.1,57.5 148.1,57.5 149.1,57.8 150.1,58.3 151.1,58.6 152.1,58.5 153.1,58.4 154.1,58.7 155.1,58.5 156.0,57.8 157.0,58.5 158.0,59.6 159.0,59.5 160.0,59.5 161.0,59.7 162.0,59.4 163.0,59.1 164.0,59.0 165.0,59.6 165.9,60.0 166.9,59.3 167.9,58.8 168.9,59.1 169.9,58.6 170.9,58.5 171.9,58.8 172.9,58.9 173.9,59.1 174.9,59.4 175.8,59.2 176.8,58.4 177.8,58.1 178.8,58.4 179.8,58.8 180.8,59.8 181.8,60.0 182.8,59.0 183.8,58.3 184.8,58.4 185.7,59.0 186.7,59.6 187.7,59.1 188.7,58.4 189.7,59.3 190.7,60.1 191.7,59.1 192.7,57.9 193.7,57.7 194.7,58.6 195.6,59.6 196.6,59.0 197.6,58.5 198.6,58.8 199.6,58.8 200.6,58.8 201.6,58.6 202.6,58.5 203.6,58.2 204.6,57.4 205.6,57.8 206.5,58.7 207.5,59.0 208.5,59.0 209.5,59.2 210.5,60.0 211.5,59.8 212.5,59.0 213.5,59.4 214.5,60.7 215.5,60.6 216.4,59.5 217.4,58.7 218.4,58.8 219.4,59.1 220.4,58.8 221.4,58.9 222.4,59.1 223.4,58.7 224.4,58.1 225.4,58.0 226.3,58.3 227.3,58.9 228.3,59.4 229.3,59.6 230.3,59.4 231.3,59.2 232.3,58.9 233.3,58.4 234.3,58.1 235.3,58.2 236.2,58.2 237.2,58.1 238.2,58.1 239.2,58.1 240.2,58.0 241.2,58.2 242.2,58.9 243.2,59.8 244.2,59.3 245.2,58.0 246.2,57.9 247.1,58.4 248.1,58.8 249.1,58.3 250.1,57.7 251.1,58.6 252.1,59.1 253.1,59.1 254.1,59.7 255.1,59.9 256.1,59.5 257.0,59.2 258.0,58.9 259.0,58.7 260.0,59.0 261.0,58.4 262.0,57.6 263.0,58.2 264.0,59.9 265.0,60.4 266.0,58.9 266.9,58.4 267.9,58.6 268.9,58.3 269.9,58.6 270.9,59.1 271.9,59.2 272.9,59.0 273.9,59.0 274.9,58.8 275.9,58.2 276.8,58.7 277.8,59.3 278.8,58.5 279.8,58.3 280.8,59.1 281.8,59.1 282.8,58.9 283.8,58.8 284.8,58.6 285.8,58.5 286.7,58.3 287.7,58.0 288.7,58.7 289.7,58.7 290.7,57.2 291.7,57.0 292.7,58.1 293.7,59.1 294.7,59.0 295.7,58.4 296.7,58.6 297.6,59.0 298.6,58.4 299.6,57.7 300.6,57.4 301.6,57.1 302.6,57.4 303.6,58.2 304.6,58.5 305.6,58.1 306.6,57.7 307.5,57.7 308.5,57.9 309.5,58.1 310.5,58.0 311.5,57.9 312.5,58.8 313.5,59.0 314.5,58.0 315.5,58.1 316.5,58.8 317.4,58.8 318.4,59.2 319.4,59.7 320.4,59.6 321.4,59.5 322.4,59.0 323.4,58.4 324.4,58.2" stroke="#ffcc13"/>
<path d="M65.9,51.9 66.9,53.0 67.9,54.2 68.9,55.4 69.9,55.9 70.9,55.6 71.9,56.0 72.9,56.7 73.9,56.9 74.8,57.3 75.8,57.6 76.8,57.0 77.8,56.7 78.8,57.6 79.8,58.5 80.8,57.8 81.8,57.1 82.8,57.3 83.8,57.3 84.7,57.3 85.7,57.4 86.7,58.0 87.7,58.7 88.7,57.8 89.7,56.8 90.7,57.2 91.7,57.6 92.7,57.9 93.7,57.9 94.6,57.5 95.6,56.9 96.6,56.5 97.6,57.3 98.6,58.1 99.6,58.5 100.6,59.1 101.6,58.8 102.6,58.4 103.6,58.2 104.6,57.3 105.5,57.1 106.5,58.0 107.5,58.5 108.5,58.1 109.5,57.5 110.5,57.4 111.5,58.0 112.5,58.2 113.5,58.0 114.5,58.1 115.4,58.6 116.4,59.3 117.4,59.3 118.4,58.6 119.4,57.8 120.4,56.8 121.4,55.9 122.4,56.3 123.4,56.8 124.4,56.9 125.3,57.6 126.3,57.7 127.3,57.2 128.3,58.1 129.3,58.6 130.3,57.9 131.3,57.5 132.3,57.8 133.3,58.0 134.3,58.5 135.2,58.8 136.2,58.3 137.2,58.3 138.2,59.0 139.2,59.2 140.2,58.6 141.2,57.9 142.2,57.7 143.2,57.9 144.2,58.1 145.1,58.4 146.1,58.4 147.1,58.9 148.1,59.5 149.1,59.1 150.1,58.5 151.1,58.1 152.1,58.4 153.1,59.2 154.1,59.0 155.1,58.7 156.0,58.9 157.0,58.9 158.0,59.1 159.0,59.1 160.0,58.8 161.0,58.9 162.0,58.7 163.0,59.0 164.0,59.6 165.0,59.7 165.9,59.6 166.9,59.4 167.9,59.4 168.9,59.4 169.9,58.4 170.9,57.7 171.9,58.1 172.9,59.5 173.9,60.4 174.9,59.8 175.8,59.0 176.8,58.8 177.8,59.0 178.8,58.9 179.8,59.1 180.8,59.1 181.8,58.5 182.8,58.8 183.8,58.7 184.8,58.4 185.7,58.9 186.7,58.6 187.7,58.0 188.7,58.2 189.7,58.2 190.7,58.3 191.7,58.4 192.7,58.4 193.7,58.8 194.7,58.7 195.6,58.3 196.6,58.3 197.6,58.8 198.6,59.3 199.6,58.8 200.6,57.9 201.6,57.9 202.6,58.5 203.6,59.1 204.6,59.1 205.6,58.4 206.5,57.9 207.5,58.1 208.5,58.2 209.5,58.3 210.5,58.5 211.5,58.9 212.5,59.2 213.5,59.1 214.5,58.6 215.5,58.6 216.4,59.3 217.4,59.5 218.4,59.6 219.4,59.9 220.4,59.9 221.4,59.3 222.4,58.2 223.4,58.0 224.4,58.7 225.4,59.0 226.3,58.9 227.3,59.1 228.3,58.8 229.3,58.4 230.3,58.5 231.3,58.9 232.3,58.7 233.3,58.3 234.3,58.7 235.3,59.2 236.2,59.4 237.2,59.3 238.2,59.0 239.2,58.8 240.2,58.6 241.2,59.0 242.2,60.1 243.2,60.1 244.2,59.0 245.2,58.4 246.2,58.2 247.1,58.6 248.1,59.0 249.1,58.8 250.1,58.8 251.1,59.1 252.1,59.1 253.1,58.4 254.1,58.2 255.1,58.3 256.1,58.1 257.0,58.6 258.0,59.2 259.0,60.1 260.0,59.7 261.0,57.8 262.0,57.2 263.0,58.3 264.0,59.3 265.0,59.0 266.0,58.5 266.9,58.6 267.9,58.9 268.9,59.2 269.9,59.4 270.9,59.5 271.9,59.2 272.9,58.9 273.9,59.2 274.9,59.2 275.9,59.1 276.8,58.7 277.8,58.2 278.8,58.3 279.8,58.9 280.8,59.5 281.8,59.1 282.8,58.7 283.8,59.1 284.8,59.5 285.8,59.1 286.7,58.5 287.7,58.9 288.7,59.1 289.7,58.4 290.7,57.9 291.7,58.0 292.7,58.1 293.7,58.5 294.7,58.9 295.7,59.2 296.7,59.3 297.6,59.1 298.6,58.8 299.6,58.7 300.6,58.6 301.6,58.5 302.6,59.0 303.6,59.7 304.6,59.9 305.6,60.1 306.6,60.0 307.5,59.5 308.5,59.7 309.5,60.1 310.5,59.5 311.5,58.7 312.5,58.5 313.5,58.4 314.5,58.7 315.5,58.9 316.5,58.5 317.4,58.3 318.4,58.9 319.4,59.4 320.4,59.6 321.4,59.6 322.4,59.2 323.4,58.4 324.4,58.0" stroke="#ffd21f"/>
<path d="M65.9,50.7 66.9,51.8 67.9,53.0 68.9,53.5 69.9,53.3 70.9,53.5 71.9,54.2 72.9,55.4 73.9,56.1 74.8,56.2 75.8,56.6 76.8,57.3 77.8,57.5 78.8,57.2 79.8,57.0 80.8,57.2 81.8,58.0 82.8,58.5 83.8,57.6 84.7,57.3 85.7,58.3 86.7,58.7 87.7,58.2 88.7,58.4 89.7,58.3 90.7,57.0 91.7,57.0 92.7,58.3 93.7,58.8 94.6,57.6 95.6,56.5 96.6,56.5 97.6,57.2 98.6,57.9 99.6,58.3 100.6,58.0 101.6,57.0 102.6,57.5 103.6,59.2 104.6,59.2 105.5,58.0 106.5,57.7 107.5,57.8 108.5,57.0 109.5,56.5 110.5,57.6 111.5,58.7 112.5,58.7 113.5,58.7 114.5,58.5 115.4,57.9 116.4,58.1 117.4,58.4 118.4,58.3 119.4,58.1 120.4,57.8 121.4,57.7 122.4,57.8 123.4,57.7 124.4,57.6 125.3,57.8 126.3,58.2 127.3,58.3 128.3,58.6 129.3,58.2 130.3,57.3 131.3,57.7 132.3,58.4 133.3,58.5 134.3,58.4 135.2,58.2 136.2,58.5 137.2,58.9 138.2,59.3 139.2,59.4 140.2,58.7 141.2,58.0 142.2,58.9 143.2,59.2 144.2,58.2 145.1,58.1 146.1,59.4 147.1,59.7 148.1,58.7 149.1,58.7 150.1,59.7 151.1,60.1 152.1,59.4 153.1,58.5 154.1,58.3 155.1,58.3 156.0,58.5 157.0,58.6 158.0,58.4 159.0,58.6 160.0,58.9 161.0,59.4 162.0,59.2 163.0,58.8 164.0,59.1 165.0,59.2 165.9,58.6 166.9,58.4 167.9,58.9 168.9,59.1 169.9,58.0 170.9,57.6 171.9,59.1 172.9,60.1 173.9,59.9 174.9,59.9 175.8,60.1 176.8,59.6 177.8,58.5 178.8,57.8 179.8,57.7 180.8,58.2 181.8,58.7 182.8,58.6 183.8,59.0 184.8,59.5 185.7,59.3 186.7,58.3 187.7,58.2 188.7,59.0 189.7,59.2 190.7,58.9 191.7,58.6 192.7,58.4 193.7,58.5 194.7,59.1 195.6,59.7 196.6,59.9 197.6,59.4 198.6,58.1 199.6,57.5 200.6,57.9 201.6,57.6 202.6,57.3 203.6,58.3 204.6,59.5 205.6,60.0 206.5,60.4 207.5,60.3 208.5,59.8 209.5,59.1 210.5,58.9 211.5,59.4 212.5,59.2 213.5,58.9 214.5,59.0 215.5,59.7 216.4,60.3 217.4,59.6 218.4,58.5 219.4,58.9 220.4,59.7 221.4,59.4 222.4,59.1 223.4,59.2 224.4,59.0 225.4,59.2 226.3,59.3 227.3,58.5 228.3,57.9 229.3,58.6 230.3,59.1 231.3,58.8 232.3,58.9 233.3,59.5 234.3,60.0 235.3,59.3 236.2,59.2 237.2,59.2 238.2,58.6 239.2,58.7 240.2,59.4 241.2,60.1 242.2,60.2 243.2,60.0 244.2,59.7 245.2,58.8 246.2,58.5 247.1,59.4 248.1,60.0 249.1,59.8 250.1,59.5 251.1,59.0 252.1,58.9 253.1,59.1 254.1,58.7 255.1,57.9 256.1,57.9 257.0,58.5 258.0,58.7 259.0,59.1 260.0,59.2 261.0,58.4 262.0,58.3 263.0,58.6 264.0,58.7 265.0,59.2 266.0,59.0 266.9,58.0 267.9,57.9 268.9,58.3 269.9,58.0 270.9,58.0 271.9,58.5 272.9,58.7 273.9,58.8 274.9,58.7 275.9,58.2 276.8,57.8 277.8,58.3 278.8,58.6 279.8,58.6 280.8,58.7 281.8,58.5 282.8,58.8 283.8,59.1 284.8,59.2 285.8,59.0 286.7,58.3 287.7,58.0 288.7,58.6 289.7,59.3 290.7,59.3 291.7,59.2 292.7,58.7 293.7,58.2 294.7,58.5 295.7,58.6 296.7,58.1 297.6,57.6 298.6,58.2 299.6,59.3 300.6,59.3 301.6,59.3 302.6,59.4 303.6,59.4 304.6,60.1 305.6,60.6 306.6,60.0 307.5,58.8 308.5,58.2 309.5,59.1 310.5,60.2 311.5,60.3 312.5,59.7 313.5,59.1 314.5,59.3 315.5,59.8 316.5,60.3 317.4,60.2 318.4,59.8 319.4,60.4 320.4,60.4 321.4,58.9 322.4,58.3 323.4,58.5 324.4,58.6" stroke="#ffd82b"/>
<path d="M65.9,51.9 66.9,52.8 67.9,53.6 68.9,53.8 69.9,55.1 70.9,56.4 71.9,55.7 72.9,55.3 73.9,56.1 74.8,56.5 75.8,57.1 76.8,58.3 77.8,58.6 78.8,57.6 79.8,57.4 80.8,57.8 81.8,58.4 82.8,58.2 83.8,57.5 84.7,57.8 85.7,58.4 86.7,58.5 87.7,57.8 88.7,57.5 89.7,57.9 90.7,58.4 91.7,58.1 92.7,57.6 93.7,57.8 94.6,57.6 95.6,57.1 96.6,57.9 97.6,58.9 98.6,58.8 99.6,57.8 100.6,56.9 101.6,57.3 102.6,57.7 103.6,57.1 104.6,57.1 105.5,57.5 106.5,57.1 107.5,56.9 108.5,58.0 109.5,58.9 110.5,58.0 111.5,57.1 112.5,57.0 113.5,56.7 114.5,57.5 115.4,58.2 116.4,57.7 117.4,57.3 118.4,57.4 119.4,57.4 120.4,57.4 121.4,57.8 122.4,58.3 123.4,58.8 124.4,58.6 125.3,58.2 126.3,58.4 127.3,58.5 128.3,58.2 129.3,57.8 130.3,57.4 131.3,57.2 132.3,57.3 133.3,57.9 134.3,58.8 135.2,59.3 136.2,59.0 137.2,59.2 138.2,59.0 139.2,58.4 140.2,58.8 141.2,58.5 142.2,58.0 143.2,57.7 144.2,57.1 145.1,57.9 146.1,58.4 147.1,58.0 148.1,58.8 149.1,59.8 150.1,59.6 151.1,59.2 152.1,58.6 153.1,58.8 154.1,59.3 155.1,58.3 156.0,57.6 157.0,58.5 158.0,58.8 159.0,58.1 160.0,58.1 161.0,59.1 162.0,59.8 163.0,59.3 164.0,58.3 165.0,58.7 165.9,60.4 166.9,60.9 167.9,60.5 168.9,59.9 169.9,59.0 170.9,58.1 171.9,57.6 172.9,57.9 173.9,58.3 174.9,58.5 175.8,59.4 176.8,59.9 177.8,59.0 178.8,58.8 179.8,59.3 180.8,58.6 181.8,58.3 182.8,58.9 183.8,59.0 184.8,59.0 185.7,58.7 186.7,58.7 187.7,58.8 188.7,58.3 189.7,57.9 190.7,58.7 191.7,60.2 192.7,60.2 193.7,59.2 194.7,59.2 195.6,59.6 196.6,59.8 197.6,59.9 198.6,59.6 199.6,59.5 200.6,59.3 201.6,59.1 202.6,59.1 203.6,59.2 204.6,59.1 205.6,58.5 206.5,58.8 207.5,58.7 208.5,58.3 209.5,58.5 210.5,58.5 211.5,59.2 212.5,59.8 213.5,58.9 214.5,58.3 215.5,59.3 216.4,60.1 217.4,59.6 218.4,58.8 219.4,58.4 220.4,58.1 221.4,58.2 222.4,59.0 223.4,59.2 224.4,58.2 225.4,58.0 226.3,58.5 227.3,58.9 228.3,59.0 229.3,58.5 230.3,57.6 231.3,57.5 232.3,57.6 233.3,57.8 234.3,58.4 235.3,58.8 236.2,58.6 237.2,58.3 238.2,58.3 239.2,57.9 240.2,58.3 241.2,59.0 242.2,58.2 243.2,58.2 244.2,59.5 245.2,60.1 246.2,60.2 247.1,60.2 248.1,59.5 249.1,58.5 250.1,58.0 251.1,58.3 252.1,58.1 253.1,57.4 254.1,57.5 255.1,58.3 256.1,58.9 257.0,59.8 258.0,59.9 259.0,59.3 260.0,59.3 261.0,59.6 262.0,59.2 263.0,58.7 264.0,59.0 265.0,59.3 266.0,59.0 266.9,57.9 267.9,57.5 268.9,58.3 269.9,58.4 270.9,57.9 271.9,58.4 272.9,59.5 273.9,59.9 274.9,59.0 275.9,58.0 276.8,57.8 277.8,57.5 278.8,58.2 279.8,58.6 280.8,58.3 281.8,58.6 282.8,59.0 283.8,59.7 284.8,60.0 285.8,59.5 286.7,59.1 287.7,59.7 288.7,60.0 289.7,59.2 290.7,58.9 291.7,59.2 292.7,59.9 293.7,59.8 294.7,58.8 295.7,58.6 296.7,58.3 297.6,57.7 298.6,57.8 299.6,58.5 300.6,58.7 301.6,58.5 302.6,58.1 303.6,58.4 304.6,58.8 305.6,58.6 306.6,58.4 307.5,58.3 308.5,58.2 309.5,58.0 310.5,58.2 311.5,58.3 312.5,58.8 313.5,59.4 314.5,59.6 315.5,59.1 316.5,58.3 317.4,58.1 318.4,58.7 319.4,59.3 320.4,58.9 321.4,58.3 322.4,58.6 323.4,58.9 324.4,58.6" stroke="#ffdf37"/>
<path d="M65.9,52.2 66.9,53.1 67.9,53.8 68.9,54.9 69.9,55.6 70.9,55.0 71.9,55.3 72.9,56.7 73.9,56.8 74.8,55.9 75.8,55.8 76.8,57.1 77.8,58.0 78.8,57.1 79.8,56.4 80.8,56.9 81.8,57.0 82.8,57.2 83.8,58.9 84.7,59.2 85.7,57.6 86.7,57.5 87.7,58.1 88.7,57.8 89.7,57.5 90.7,57.9 91.7,58.3 92.7,58.5 93.7,58.4 94.6,58.1 95.6,57.5 96.6,56.8 97.6,57.4 98.6,58.4 99.6,57.6 100.6,56.8 101.6,57.0 102.6,57.2 103.6,57.3 104.6,57.7 105.5,57.9 106.5,58.0 107.5,58.0 108.5,57.9 109.5,58.8 110.5,59.2 111.5,58.1 112.5,57.7 113.5,57.7 114.5,57.6 115.4,57.9 116.4,58.2 117.4,57.8 118.4,57.4 119.4,56.9 120.4,56.8 121.4,57.7 122.4,57.9 123.4,57.7 124.4,58.3 125.3,58.9 126.3,58.3 127.3,57.6 128.3,57.7 129.3,58.0 130.3,58.2 131.3,58.2 132.3,58.6 133.3,58.7 134.3,58.3 135.2,57.7 136.2,57.8 137.2,58.6 138.2,58.0 139.2,56.9 140.2,57.2 141.2,58.3 142.2,58.9 143.2,58.7 144.2,58.3 145.1,58.1 146.1,58.0 147.1,58.3 148.1,59.2 149.1,59.7 150.1,59.8 151.1,59.6 152.1,58.9 153.1,57.8 154.1,57.0 155.1,57.7 156.0,58.1 157.0,58.1 158.0,58.6 159.0,58.5 160.0,57.9 161.0,58.0 162.0,58.5 163.0,59.2 164.0,59.6 165.0,59.4 165.9,59.0 166.9,58.7 167.9,58.6 168.9,59.0 169.9,59.3 170.9,59.0 171.9,59.5 172.9,60.3 173.9,60.2 174.9,59.3 175.8,58.2 176.8,58.5 177.8,59.3 178.8,59.2 179.8,59.3 180.8,60.0 181.8,60.4 182.8,60.5 183.8,60.6 184.8,60.7 185.7,60.2 186.7,59.8 187.7,59.8 188.7,59.2 189.7,58.6 190.7,58.7 191.7,58.6 192.7,58.2 193.7,58.0 194.7,58.4 195.6,59.3 196.6,59.8 197.6,59.7 198.6,59.3 199.6,59.0 200.6,58.6 201.6,58.3 202.6,58.2 203.6,57.7 204.6,58.0 205.6,58.6 206.5,59.3 207.5,59.8 208.5,58.8 209.5,58.2 210.5,59.0 211.5,59.0 212.5,58.0 213.5,58.4 214.5,58.7 215.5,58.4 216.4,58.9 217.4,59.2 218.4,59.0 219.4,59.0 220.4,58.7 221.4,58.3 222.4,58.6 223.4,58.9 224.4,58.4 225.4,57.9 226.3,57.9 227.3,58.2 228.3,57.9 229.3,57.8 230.3,58.5 231.3,58.9 232.3,58.6 233.3,58.6 234.3,59.4 235.3,59.9 236.2,59.2 237.2,58.3 238.2,58.1 239.2,58.3 240.2,58.4 241.2,58.7 242.2,58.8 243.2,58.7 244.2,58.3 245.2,58.4 246.2,59.1 247.1,59.5 248.1,59.3 249.1,59.3 250.1,59.0 251.1,58.7 252.1,59.2 253.1,59.1 254.1,58.3 255.1,58.2 256.1,58.8 257.0,58.8 258.0,58.9 259.0,60.0 260.0,60.8 261.0,60.3 262.0,59.0 263.0,59.0 264.0,59.7 265.0,59.7 266.0,59.3 266.9,59.2 267.9,58.4 268.9,57.9 269.9,58.7 270.9,59.2 271.9,59.4 272.9,59.6 273.9,59.6 274.9,59.4 275.9,59.1 276.8,58.8 277.8,58.9 278.8,58.8 279.8,58.4 280.8,58.9 281.8,58.4 282.8,57.8 283.8,58.3 284.8,58.0 285.8,57.7 286.7,58.8 287.7,59.4 288.7,58.6 289.7,58.6 290.7,58.8 291.7,58.5 292.7,58.6 293.7,58.6 294.7,58.7 295.7,59.0 296.7,59.4 297.6,59.6 298.6,59.7 299.6,59.4 300.6,59.0 301.6,58.9 302.6,58.5 303.6,58.2 304.6,59.1 305.6,60.0 306.6,59.5 307.5,58.6 308.5,58.0 309.5,57.8 310.5,58.1 311.5,58.6 312.5,59.0 313.5,59.1 314.5,58.4 315.5,58.2 316.5,58.6 317.4,58.9 318.4,59.1 319.4,59.1 320.4,59.1 321.4,59.2 322.4,58.6 323.4,57.8 324.4,57.6" stroke="#ffe543"/>
<path d="M65.9,51.6 66.9,52.8 67.9,53.7 68.9,54.5 69.9,55.5 70.9,56.6 71.9,57.1 72.9,57.1 73.9,57.3 74.8,57.9 75.8,58.1 76.8,57.5 77.8,57.1 78.8,57.2 79.8,56.9 80.8,56.7 81.8,57.1 82.8,57.8 83.8,58.5 84.7,59.0 85.7,58.5 86.7,58.0 87.7,57.8 88.7,56.9 89.7,56.7 90.7,57.3 91.7,57.8 92.7,58.6 93.7,58.8 94.6,58.3 95.6,57.9 96.6,58.1 97.6,57.8 98.6,56.9 99.6,57.0 100.6,57.4 101.6,57.3 102.6,57.6 103.6,58.0 104.6,58.6 105.5,58.4 106.5,57.7 107.5,58.3 108.5,59.1 109.5,59.1 110.5,58.3 111.5,57.1 112.5,56.7 113.5,56.6 114.5,56.5 115.4,57.0 116.4,57.5 117.4,58.1 118.4,58.2 119.4,58.1 120.4,58.2 121.4,57.9 122.4,57.2 123.4,57.2 124.4,58.2 125.3,58.7 126.3,57.8 127.3,57.4 128.3,58.1 129.3,58.6 130.3,57.9 131.3,57.9 132.3,58.7 133.3,58.8 134.3,58.9 135.2,58.2 136.2,57.2 137.2,57.6 138.2,58.0 139.2,58.3 140.2,57.8 141.2,56.7 142.2,57.1 143.2,58.3 144.2,58.7 145.1,57.9 146.1,57.2 147.1,57.5 148.1,57.9 149.1,58.7 150.1,58.9 151.1,58.2 152.1,58.5 153.1,59.2 154.1,59.4 155.1,59.3 156.0,59.6 157.0,59.3 158.0,58.4 159.0,57.9 160.0,58.2 161.0,58.6 162.0,58.7 163.0,58.3 164.0,58.0 165.0,58.0 165.9,58.6 166.9,59.4 167.9,59.9 168.9,59.8 169.9,59.6 170.9,59.6 171.9,59.2 172.9,58.2 173.9,58.8 174.9,60.2 175.8,60.3 176.8,59.8 177.8,58.8 178.8,58.5 179.8,58.9 180.8,58.9 181.8,58.5 182.8,58.0 183.8,57.8 184.8,58.2 185.7,58.4 186.7,58.8 187.7,59.4 188.7,59.5 189.7,59.0 190.7,58.9 191.7,59.1 192.7,59.1 193.7,59.3 194.7,59.6 195.6,59.1 196.6,58.5 197.6,58.3 198.6,58.5 199.6,59.5 200.6,59.9 201.6,59.0 202.6,58.6 203.6,58.8 204.6,58.5 205.6,57.9 206.5,58.1 207.5,58.7 208.5,59.4 209.5,59.7 210.5,59.2 211.5,58.3 212.5,58.4 213.5,59.4 214.5,59.9 215.5,59.4 216.4,59.3 217.4,60.2 218.4,59.6 219.4,57.9 220.4,58.3 221.4,59.4 222.4,59.0 223.4,58.3 224.4,58.4 225.4,59.0 226.3,59.1 227.3,58.6 228.3,58.4 229.3,58.3 230.3,58.6 231.3,58.6 232.3,58.4 233.3,58.6 234.3,58.9 235.3,59.1 236.2,59.2 237.2,59.2 238.2,59.2 239.2,58.6 240.2,57.6 241.2,57.2 242.2,57.7 243.2,58.2 244.2,58.0 245.2,57.8 246.2,58.1 247.1,58.7 248.1,58.6 249.1,58.5 250.1,58.5 251.1,58.6 252.1,58.6 253.1,59.3 254.1,60.2 255.1,59.9 256.1,59.2 257.0,59.5 258.0,60.4 259.0,60.3 260.0,59.6 261.0,59.1 262.0,59.0 263.0,59.6 264.0,59.8 265.0,59.2 266.0,58.7 266.9,58.6 267.9,58.7 268.9,58.9 269.9,59.1 270.9,58.9 271.9,58.6 272.9,58.9 273.9,59.3 274.9,59.4 275.9,59.4 276.8,59.0 277.8,57.8 278.8,57.1 279.8,57.9 280.8,58.5 281.8,58.3 282.8,58.1 283.8,58.1 284.8,58.1 285.8,57.8 286.7,57.2 287.7,58.0 288.7,59.3 289.7,59.1 290.7,59.3 291.7,60.2 292.7,60.0 293.7,59.5 294.7,59.3 295.7,59.5 296.7,59.6 297.6,58.7 298.6,58.2 299.6,58.6 300.6,58.9 301.6,59.1 302.6,58.8 303.6,58.3 304.6,57.8 305.6,57.8 306.6,58.2 307.5,58.4 308.5,58.8 309.5,59.4 310.5,59.3 311.5,58.9 312.5,58.6 313.5,58.2 314.5,57.9 315.5,58.4 316.5,58.4 317.4,58.3 318.4,58.8 319.4,59.1 320.4,58.7 321.4,58.3 322.4,58.1 323.4,58.4 324.4,59.0" stroke="#ffeb4f"/>
<path d="M65.9,51.0 66.9,52.1 67.9,53.6 68.9,54.6 69.9,55.4 70.9,55.3 71.9,55.1 72.9,56.1 73.9,57.1 74.8,56.9 75.8,56.6 76.8,56.9 77.8,58.0 78.8,58.3 79.8,58.2 80.8,58.1 81.8,57.9 82.8,58.6 83.8,59.0 84.7,58.9 85.7,58.2 86.7,57.3 87.7,57.0 88.7,57.0 89.7,57.7 90.7,58.6 91.7,58.6 92.7,58.8 93.7,58.6 94.6,58.3 95.6,58.0 96.6,57.9 97.6,57.6 98.6,56.9 99.6,56.7 100.6,56.8 101.6,56.9 102.6,57.1 103.6,57.1 104.6,57.1 105.5,57.7 106.5,57.8 107.5,57.7 108.5,57.8 109.5,57.9 110.5,57.9 111.5,57.3 112.5,57.1 113.5,57.3 114.5,57.7 115.4,58.6 116.4,59.2 117.4,58.6 118.4,57.4 119.4,56.6 120.4,57.0 121.4,57.1 122.4,56.6 123.4,56.5 124.4,57.1 125.3,57.6 126.3,58.1 127.3,58.7 128.3,59.0 129.3,58.3 130.3,57.4 131.3,57.6 132.3,58.1 133.3,58.3 134.3,58.4 135.2,58.3 136.2,58.0 137.2,57.6 138.2,58.0 139.2,58.8 140.2,58.2 141.2,57.8 142.2,58.6 143.2,58.7 144.2,58.1 145.1,57.6 146.1,57.9 147.1,58.3 148.1,58.0 149.1,57.7 150.1,57.6 151.1,57.4 152.1,58.1 153.1,59.2 154.1,59.3 155.1,59.0 156.0,58.6 157.0,58.3 158.0,57.9 159.0,57.5 160.0,57.5 161.0,58.0 162.0,58.9 163.0,59.1 164.0,58.6 165.0,58.5 165.9,58.4 166.9,58.7 167.9,58.7 168.9,57.8 169.9,58.2 170.9,59.5 171.9,59.6 172.9,58.8 173.9,58.5 174.9,59.1 175.8,59.4 176.8,58.8 177.8,58.4 178.8,58.2 179.8,58.1 180.8,58.0 181.8,57.9 182.8,58.3 183.8,58.6 184.8,58.4 185.7,58.8 186.7,59.5 187.7,59.5 188.7,59.0 189.7,58.5 190.7,58.7 191.7,59.1 192.7,58.8 193.7,59.0 194.7,59.2 195.6,58.9 196.6,59.3 197.6,59.5 198.6,58.5 199.6,58.4 200.6,58.7 201.6,58.2 202.6,58.2 203.6,58.3 204.6,58.0 205.6,58.3 206.5,59.4 207.5,59.9 208.5,59.3 209.5,58.9 210.5,59.2 211.5,59.3 212.5,58.3 213.5,57.3 214.5,58.2 215.5,59.7 216.4,59.2 217.4,59.3 218.4,60.5 219.4,60.0 220.4,58.7 221.4,58.3 222.4,58.8 223.4,59.0 224.4,58.7 225.4,58.8 226.3,58.7 227.3,58.2 228.3,58.4 229.3,59.0 230.3,58.8 231.3,59.0 232.3,58.9 233.3,58.3 234.3,58.3 235.3,58.3 236.2,58.1 237.2,58.4 238.2,59.2 239.2,59.3 240.2,58.5 241.2,58.2 242.2,58.5 243.2,58.6 244.2,58.4 245.2,59.0 246.2,59.5 247.1,58.9 248.1,58.3 249.1,58.5 250.1,59.3 251.1,59.4 252.1,59.0 253.1,59.0 254.1,58.7 255.1,58.2 256.1,57.9 257.0,57.7 258.0,57.7 259.0,57.6 260.0,57.2 261.0,57.2 262.0,58.2 263.0,58.5 264.0,58.3 265.0,58.8 266.0,59.1 266.9,58.7 267.9,58.9 268.9,59.4 269.9,59.1 270.9,58.9 271.9,58.8 272.9,58.8 273.9,58.6 274.9,58.2 275.9,58.3 276.8,58.7 277.8,58.5 278.8,58.0 279.8,57.8 280.8,58.0 281.8,58.5 282.8,58.2 283.8,57.7 284.8,57.8 285.8,57.7 286.7,58.0 287.7,59.1 288.7,59.4 289.7,59.0 290.7,59.1 291.7,59.8 292.7,59.5 293.7,58.6 294.7,58.4 295.7,58.6 296.7,58.5 297.6,58.5 298.6,58.5 299.6,58.5 300.6,59.4 301.6,60.0 302.6,58.9 303.6,58.3 304.6,58.2 305.6,58.3 306.6,59.8 307.5,60.2 308.5,58.6 309.5,58.6 310.5,59.6 311.5,59.2 312.5,58.9 313.5,59.1 314.5,58.2 315.5,57.2 316.5,57.5 317.4,58.3 318.4,58.8 319.4,59.1 320.4,59.0 321.4,59.2 322.4,59.7 323.4,59.2 324.4,58.1" stroke="#fff25b"/>
<path d="M65.9,51.7 66.9,53.3 67.9,53.7 68.9,53.4 69.9,54.0 70.9,55.4 71.9,55.8 72.9,55.9 73.9,56.8 74.8,57.8 75.8,57.8 76.8,57.6 77.8,58.0 78.8,58.3 79.8,57.6 80.8,56.9 81.8,57.0 82.8,57.0 83.8,56.8 84.7,57.5 85.7,58.2 86.7,58.2 87.7,57.6 88.7,57.9 89.7,58.8 90.7,58.1 91.7,56.8 92.7,56.8 93.7,57.2 94.6,57.6 95.6,58.5 96.6,58.9 97.6,58.8 98.6,58.6 99.6,58.0 100.6,57.3 101.6,56.8 102.6,56.2 103.6,56.2 104.6,57.3 105.5,57.7 106.5,57.7 107.5,58.1 108.5,58.0 109.5,57.8 110.5,57.9 111.5,57.4 112.5,57.2 113.5,58.6 114.5,59.1 115.4,58.5 116.4,58.2 117.4,58.0 118.4,57.8 119.4,57.4 120.4,56.9 121.4,57.1 122.4,58.1 123.4,59.1 124.4,60.0 125.3,59.8 126.3,58.8 127.3,58.2 128.3,58.4 129.3,58.8 130.3,59.4 131.3,59.7 132.3,59.2 133.3,58.7 134.3,58.8 135.2,58.5 136.2,58.3 137.2,58.1 138.2,57.7 139.2,57.5 140.2,57.6 141.2,58.6 142.2,59.1 143.2,59.0 144.2,58.7 145.1,58.3 146.1,58.3 147.1,58.3 148.1,58.4 149.1,58.3 150.1,58.5 151.1,59.1 152.1,58.8 153.1,58.5 154.1,59.0 155.1,58.9 156.0,58.4 157.0,59.1 158.0,60.1 159.0,59.7 160.0,58.8 161.0,58.6 162.0,58.0 163.0,57.8 164.0,58.5 165.0,58.9 165.9,59.3 166.9,59.5 167.9,59.2 168.9,59.1 169.9,59.4 170.9,59.3 171.9,58.7 172.9,59.1 173.9,60.3 174.9,60.6 175.8,59.8 176.8,59.2 177.8,58.8 178.8,58.2 179.8,57.6 180.8,57.9 181.8,58.5 182.8,58.8 183.8,58.4 184.8,58.1 185.7,58.4 186.7,58.6 187.7,58.2 188.7,58.1 189.7,59.5 190.7,60.0 191.7,58.8 192.7,58.3 193.7,58.9 194.7,58.5 195.6,57.7 196.6,58.7 197.6,59.8 198.6,59.3 199.6,58.9 200.6,59.2 201.6,59.2 202.6,58.9 203.6,59.0 204.6,58.9 205.6,59.1 206.5,59.4 207.5,59.4 208.5,59.2 209.5,58.9 210.5,59.2 211.5,59.7 212.5,60.0 213.5,59.9 214.5,59.3 215.5,58.5 216.4,58.4 217.4,59.1 218.4,60.0 219.4,60.0 220.4,59.6 221.4,59.3 222.4,58.8 223.4,58.8 224.4,58.8 225.4,58.7 226.3,58.7 227.3,58.7 228.3,58.9 229.3,58.6 230.3,58.1 231.3,58.4 232.3,58.9 233.3,59.0 234.3,58.8 235.3,58.6 236.2,59.3 237.2,59.8 238.2,59.3 239.2,58.8 240.2,58.7 241.2,58.3 242.2,58.4 243.2,59.4 244.2,59.5 245.2,59.1 246.2,59.2 247.1,59.0 248.1,59.3 249.1,59.7 250.1,58.7 251.1,58.0 252.1,58.8 253.1,59.4 254.1,59.1 255.1,59.3 256.1,59.1 257.0,58.9 258.0,59.6 259.0,60.0 260.0,59.4 261.0,59.2 262.0,59.5 263.0,59.3 264.0,58.7 265.0,58.9 266.0,59.3 266.9,59.3 267.9,58.9 268.9,58.9 269.9,59.3 270.9,59.7 271.9,59.6 272.9,59.3 273.9,58.7 274.9,58.1 275.9,58.0 276.8,58.3 277.8,58.8 278.8,59.0 279.8,58.9 280.8,59.1 281.8,59.4 282.8,59.4 283.8,59.2 284.8,58.5 285.8,57.8 286.7,58.3 287.7,58.8 288.7,58.7 289.7,58.7 290.7,58.3 291.7,57.5 292.7,57.5 293.7,58.7 294.7,59.2 295.7,58.9 296.7,58.6 297.6,58.7 298.6,59.4 299.6,59.4 300.6,58.7 301.6,58.6 302.6,59.6 303.6,59.7 304.6,58.5 305.6,57.9 306.6,58.4 307.5,59.2 308.5,59.2 309.5,58.7 310.5,58.7 311.5,58.9 312.5,58.7 313.5,58.5 314.5,59.0 315.5,59.4 316.5,59.4 317.4,59.2 318.4,59.0 319.4,59.1 320.4,58.8 321.4,58.2 322.4,58.5 323.4,58.7 324.4,58.3" stroke="#fff568"/>
<path d="M65.9,51.9 66.9,53.0 67.9,54.0 68.9,55.0 69.9,55.5 70.9,56.1 71.9,56.9 72.9,57.0 73.9,56.6 74.8,56.7 75.8,56.3 76.8,55.9 77.8,56.5 78.8,57.4 79.8,57.6 80.8,57.5 81.8,57.5 82.8,57.3 83.8,57.3 84.7,57.8 85.7,57.6 86.7,57.6 87.7,58.1 88.7,57.6 89.7,57.5 90.7,57.4 91.7,56.6 92.7,57.0 93.7,57.9 94.6,58.3 95.6,58.3 96.6,57.9 97.6,58.1 98.6,58.8 99.6,58.9 100.6,58.5 101.6,58.3 102.6,58.3 103.6,58.1 104.6,57.4 105.5,57.2 106.5,58.1 107.5,58.9 108.5,58.3 109.5,57.6 110.5,57.7 111.5,57.7 112.5,58.1 113.5,59.2 114.5,59.3 115.4,58.3 116.4,57.8 117.4,57.8 118.4,57.9 119.4,57.7 120.4,57.5 121.4,58.1 122.4,58.5 123.4,58.5 124.4,58.1 125.3,57.6 126.3,57.5 127.3,58.1 128.3,58.6 129.3,58.1 130.3,57.4 131.3,56.9 132.3,56.7 133.3,57.6 134.3,58.7 135.2,58.7 136.2,58.1 137.2,58.0 138.2,58.4 139.2,58.0 140.2,58.0 141.2,58.5 142.2,58.5 143.2,58.6 144.2,58.7 145.1,58.5 146.1,58.7 147.1,58.9 148.1,59.1 149.1,59.6 150.1,59.4 151.1,58.6 152.1,57.8 153.1,58.1 154.1,59.0 155.1,59.2 156.0,59.1 157.0,58.5 158.0,58.5 159.0,59.6 160.0,60.1 161.0,59.8 162.0,59.1 163.0,58.6 164.0,58.4 165.0,58.5 165.9,58.5 166.9,58.2 167.9,58.3 168.9,59.3 169.9,60.5 170.9,60.4 171.9,59.6 172.9,58.7 173.9,58.4 174.9,58.7 175.8,58.6 176.8,58.8 177.8,58.7 178.8,58.0 179.8,58.4 180.8,59.3 181.8,59.8 182.8,59.6 183.8,59.1 184.8,59.1 185.7,59.2 186.7,59.3 187.7,59.5 188.7,59.6 189.7,59.9 190.7,59.9 191.7,59.3 192.7,58.5 193.7,58.4 194.7,59.0 195.6,59.6 196.6,59.2 197.6,58.3 198.6,58.5 199.6,59.4 200.6,59.5 201.6,58.9 202.6,58.7 203.6,58.7 204.6,58.9 205.6,59.1 206.5,58.8 207.5,59.1 208.5,59.0 209.5,58.3 210.5,58.0 211.5,58.0 212.5,57.9 213.5,58.1 214.5,58.5 215.5,58.2 216.4,58.1 217.4,59.2 218.4,60.0 219.4,59.4 220.4,58.1 221.4,58.0 222.4,58.7 223.4,58.7 224.4,58.3 225.4,58.7 226.3,59.7 227.3,59.7 228.3,59.1 229.3,58.8 230.3,58.9 231.3,59.0 232.3,59.5 233.3,59.3 234.3,57.8 235.3,57.5 236.2,58.4 237.2,58.9 238.2,58.3 239.2,57.3 240.2,57.5 241.2,58.7 242.2,59.4 243.2,59.2 244.2,58.8 245.2,58.9 246.2,59.4 247.1,59.2 248.1,58.9 249.1,58.8 250.1,58.8 251.1,59.5 252.1,59.9 253.1,59.2 254.1,58.6 255.1,59.0 256.1,59.1 257.0,58.6 258.0,58.7 259.0,59.1 260.0,59.0 261.0,58.8 262.0,58.6 263.0,58.9 264.0,59.4 265.0,59.4 266.0,59.1 266.9,58.7 267.9,58.8 268.9,59.3 269.9,59.1 270.9,58.5 271.9,58.2 272.9,58.0 273.9,57.8 274.9,58.2 275.9,58.6 276.8,59.1 277.8,59.4 278.8,59.0 279.8,58.5 280.8,58.6 281.8,58.8 282.8,59.2 283.8,59.5 284.8,59.1 285.8,58.5 286.7,59.1 287.7,60.1 288.7,59.1 289.7,57.9 290.7,57.9 291.7,58.2 292.7,58.6 293.7,59.0 294.7,58.9 295.7,58.9 296.7,59.5 297.6,59.5 298.6,59.3 299.6,59.5 300.6,59.6 301.6,59.6 302.6,59.2 303.6,59.0 304.6,59.4 305.6,59.6 306.6,59.9 307.5,60.2 308.5,59.6 309.5,58.6 310.5,58.4 311.5,58.9 312.5,58.8 313.5,57.8 314.5,57.8 315.5,58.4 316.5,58.2 317.4,57.9 318.4,58.6 319.4,59.5 320.4,59.5 321.4,58.3 322.4,57.6 323.4,58.0 324.4,58.1" stroke="#fff675"/>
<path d="M65.9,51.0 66.9,53.1 67.9,54.0 68.9,53.7 69.9,54.2 70.9,55.2 71.9,55.8 72.9,56.3 73.9,56.3 74.8,56.1 75.8,57.5 76.8,58.4 77.8,57.4 78.8,56.8 79.8,57.4 80.8,58.0 81.8,58.2 82.8,58.2 83.8,58.5 84.7,58.8 85.7,58.9 86.7,57.9 87.7,57.0 88.7,57.3 89.7,57.1 90.7,56.8 91.7,57.8 92.7,58.3 93.7,58.1 94.6,58.2 95.6,57.7 96.6,57.4 97.6,58.2 98.6,57.9 99.6,57.4 100.6,58.1 101.6,58.4 102.6,57.9 103.6,58.1 104.6,57.9 105.5,57.4 106.5,57.6 107.5,57.9 108.5,58.0 109.5,58.4 110.5,58.3 111.5,57.8 112.5,57.5 113.5,57.6 114.5,58.2 115.4,58.2 116.4,57.7 117.4,57.8 118.4,58.2 119.4,58.4 120.4,58.5 121.4,58.8 122.4,59.2 123.4,58.2 124.4,57.0 125.3,57.0 126.3,57.4 127.3,57.9 128.3,58.0 129.3,58.2 130.3,58.2 131.3,59.0 132.3,59.6 133.3,58.4 134.3,57.5 135.2,57.9 136.2,58.3 137.2,58.0 138.2,58.4 139.2,59.7 140.2,59.7 141.2,58.9 142.2,58.7 143.2,58.7 144.2,58.4 145.1,58.3 146.1,59.4 147.1,59.9 148.1,59.7 149.1,59.6 150.1,59.2 151.1,59.1 152.1,59.2 153.1,58.4 154.1,57.6 155.1,57.3 156.0,57.1 157.0,57.6 158.0,58.0 159.0,57.7 160.0,57.5 161.0,57.7 162.0,59.0 163.0,60.2 164.0,59.9 165.0,58.9 165.9,58.6 166.9,58.6 167.9,58.7 168.9,59.4 169.9,59.3 170.9,58.5 171.9,58.6 172.9,58.5 173.9,57.9 174.9,58.2 175.8,59.0 176.8,59.4 177.8,59.7 178.8,59.2 179.8,59.1 180.8,59.3 181.8,58.0 182.8,57.4 183.8,57.9 184.8,57.9 185.7,57.9 186.7,58.3 187.7,58.3 188.7,58.8 189.7,59.8 190.7,59.8 191.7,59.1 192.7,58.4 193.7,58.3 194.7,58.5 195.6,59.2 196.6,59.1 197.6,57.5 198.6,56.9 199.6,58.0 200.6,58.6 201.6,58.6 202.6,59.2 203.6,59.6 204.6,59.5 205.6,58.9 206.5,58.7 207.5,59.2 208.5,59.7 209.5,60.0 210.5,59.4 211.5,58.5 212.5,58.4 213.5,58.5 214.5,59.0 215.5,59.2 216.4,59.2 217.4,58.9 218.4,59.1 219.4,59.5 220.4,58.8 221.4,58.3 222.4,58.7 223.4,58.9 224.4,58.8 225.4,58.6 226.3,58.9 227.3,59.2 228.3,58.8 229.3,58.3 230.3,58.4 231.3,58.7 232.3,58.9 233.3,59.2 234.3,59.7 235.3,60.0 236.2,59.2 237.2,58.5 238.2,59.0 239.2,59.2 240.2,58.6 241.2,58.5 242.2,58.6 243.2,58.4 244.2,58.4 245.2,58.9 246.2,58.9 247.1,58.2 248.1,58.6 249.1,59.2 250.1,58.7 251.1,58.6 252.1,58.9 253.1,58.6 254.1,58.1 255.1,57.7 256.1,58.1 257.0,58.4 258.0,57.9 259.0,58.0 260.0,58.7 261.0,59.0 262.0,58.8 263.0,58.9 264.0,59.4 265.0,59.8 266.0,59.8 266.9,59.7 267.9,60.1 268.9,59.9 269.9,59.1 270.9,59.1 271.9,59.4 272.9,59.6 273.9,59.8 274.9,59.8 275.9,58.9 276.8,58.2 277.8,58.3 278.8,58.4 279.8,58.2 280.8,58.1 281.8,58.2 282.8,58.4 283.8,58.9 284.8,59.9 285.8,60.2 286.7,59.2 287.7,58.3 288.7,58.4 289.7,59.1 290.7,59.2 291.7,59.1 292.7,59.3 293.7,59.2 294.7,58.9 295.7,58.6 296.7,58.4 297.6,58.5 298.6,58.3 299.6,58.0 300.6,58.3 301.6,58.5 302.6,58.3 303.6,58.5 304.6,58.8 305.6,59.1 306.6,60.0 307.5,60.3 308.5,59.5 309.5,59.1 310.5,58.3 311.5,58.1 312.5,58.8 313.5,58.8 314.5,58.6 315.5,59.0 316.5,59.3 317.4,59.1 318.4,58.4 319.4,57.6 320.4,57.4 321.4,58.3 322.4,58.4 323.4,57.9 324.4,58.4" stroke="#fff783"/>
<path d="M65.9,51.6 66.9,52.6 67.9,53.3 68.9,54.2 69.9,55.3 70.9,55.4 71.9,54.8 72.9,55.1 73.9,56.0 74.8,56.7 75.8,56.9 76.8,56.9 77.8,57.3 78.8,57.6 79.8,57.8 80.8,58.0 81.8,57.7 82.8,57.8 83.8,58.0 84.7,57.8 85.7,57.8 86.7,58.1 87.7,58.2 88.7,57.8 89.7,57.2 90.7,57.0 91.7,57.5 92.7,57.9 93.7,57.4 94.6,56.6 95.6,57.1 96.6,58.0 97.6,58.2 98.6,58.1 99.6,58.5 100.6,58.7 101.6,58.5 102.6,58.6 103.6,58.0 104.6,56.9 105.5,57.1 106.5,58.2 107.5,58.7 108.5,59.0 109.5,59.2 110.5,58.8 111.5,58.4 112.5,58.2 113.5,57.7 114.5,57.8 115.4,57.6 116.4,56.9 117.4,57.0 118.4,57.1 119.4,56.5 120.4,56.9 121.4,57.8 122.4,58.0 123.4,58.4 124.4,58.3 125.3,57.0 126.3,57.0 127.3,58.1 128.3,58.5 129.3,58.4 130.3,57.9 131.3,57.9 132.3,57.9 133.3,57.6 134.3,57.9 135.2,58.1 136.2,57.9 137.2,57.9 138.2,57.9 139.2,57.8 140.2,57.7 141.2,57.6 142.2,58.0 143.2,58.2 144.2,57.7 145.1,57.6 146.1,57.7 147.1,58.4 148.1,58.8 149.1,58.4 150.1,58.1 151.1,58.3 152.1,58.8 153.1,59.4 154.1,59.2 155.1,58.7 156.0,59.1 157.0,59.5 158.0,59.1 159.0,58.6 160.0,58.1 161.0,57.8 162.0,57.5 163.0,57.8 164.0,58.5 165.0,59.0 165.9,58.9 166.9,59.1 167.9,59.5 168.9,59.1 169.9,59.2 170.9,60.0 171.9,60.2 172.9,59.1 173.9,58.3 174.9,58.4 175.8,58.7 176.8,58.9 177.8,58.6 178.8,58.3 179.8,58.6 180.8,58.5 181.8,58.4 182.8,58.7 183.8,58.7 184.8,58.8 185.7,58.4 186.7,57.9 187.7,58.0 188.7,57.8 189.7,58.4 190.7,59.5 191.7,59.0 192.7,58.1 193.7,58.4 194.7,59.0 195.6,59.2 196.6,59.6 197.6,59.7 198.6,59.2 199.6,58.4 200.6,57.9 201.6,58.0 202.6,58.5 203.6,59.5 204.6,59.9 205.6,58.9 206.5,58.4 207.5,59.5 208.5,60.0 209.5,59.0 210.5,58.7 211.5,59.4 212.5,59.7 213.5,59.2 214.5,58.3 215.5,58.1 216.4,58.6 217.4,58.9 218.4,58.9 219.4,59.0 220.4,59.4 221.4,59.7 222.4,59.6 223.4,59.3 224.4,59.0 225.4,59.1 226.3,59.6 227.3,59.0 228.3,58.1 229.3,58.2 230.3,59.1 231.3,59.9 232.3,59.4 233.3,58.6 234.3,58.8 235.3,59.3 236.2,59.3 237.2,59.1 238.2,59.4 239.2,59.9 240.2,59.3 241.2,58.1 242.2,57.9 243.2,58.7 244.2,58.8 245.2,58.3 246.2,58.9 247.1,59.5 248.1,59.0 249.1,58.1 250.1,58.0 251.1,58.6 252.1,58.8 253.1,58.6 254.1,58.3 255.1,58.4 256.1,58.9 257.0,59.4 258.0,59.4 259.0,60.0 260.0,60.5 261.0,59.3 262.0,58.7 263.0,59.1 264.0,59.1 265.0,58.9 266.0,59.1 266.9,59.4 267.9,59.1 268.9,58.8 269.9,59.2 270.9,59.6 271.9,59.6 272.9,59.5 273.9,58.7 274.9,57.9 275.9,58.2 276.8,58.9 277.8,59.4 278.8,59.2 279.8,59.0 280.8,59.2 281.8,59.9 282.8,60.5 283.8,60.1 284.8,59.6 285.8,59.0 286.7,58.7 287.7,59.6 288.7,59.7 289.7,59.1 290.7,59.2 291.7,59.1 292.7,58.8 293.7,59.0 294.7,59.0 295.7,58.2 296.7,58.1 297.6,59.1 298.6,59.0 299.6,58.5 300.6,59.0 301.6,59.5 302.6,59.1 303.6,58.8 304.6,59.1 305.6,58.9 306.6,58.8 307.5,59.0 308.5,58.6 309.5,58.1 310.5,58.0 311.5,58.5 312.5,59.2 313.5,58.6 314.5,58.1 315.5,58.4 316.5,58.8 317.4,58.5 318.4,58.7 319.4,59.0 320.4,58.7 321.4,59.2 322.4,59.5 323.4,59.1 324.4,59.1" stroke="#fff888"/>
</g>
<line x1="66.00" y1="7.20" x2="66.00" y2="216.20" stroke="#8a8a8a" stroke-width="1.2"/>
<line x1="65.40" y1="216.20" x2="325.30" y2="216.20" stroke="#8a8a8a" stroke-width="1.2"/>
<line x1="62.00" y1="22.20" x2="66.00" y2="22.20" stroke="#8a8a8a" stroke-width="1.1"/>
<text transform="translate(56.80,26.60) scale(1.15,1)" font-size="10" text-anchor="end" fill="#222" class="rt">0.004</text>
<line x1="62.00" y1="57.80" x2="66.00" y2="57.80" stroke="#8a8a8a" stroke-width="1.1"/>
<text transform="translate(56.80,62.20) scale(1.15,1)" font-size="10" text-anchor="end" fill="#222" class="rt">0</text>
<line x1="62.00" y1="93.40" x2="66.00" y2="93.40" stroke="#8a8a8a" stroke-width="1.1"/>
<text transform="translate(56.80,97.80) scale(1.15,1)" font-size="10" text-anchor="end" fill="#222" class="rt"><tspan font-size="8.0" dy="-0.9">–</tspan><tspan dy="0.9" dx="0.7">0.004</tspan></text>
<line x1="62.00" y1="129.00" x2="66.00" y2="129.00" stroke="#8a8a8a" stroke-width="1.1"/>
<text transform="translate(56.80,133.40) scale(1.15,1)" font-size="10" text-anchor="end" fill="#222" class="rt"><tspan font-size="8.0" dy="-0.9">–</tspan><tspan dy="0.9" dx="0.7">0.008</tspan></text>
<line x1="62.00" y1="164.60" x2="66.00" y2="164.60" stroke="#8a8a8a" stroke-width="1.1"/>
<text transform="translate(56.80,169.00) scale(1.15,1)" font-size="10" text-anchor="end" fill="#222" class="rt"><tspan font-size="8.0" dy="-0.9">–</tspan><tspan dy="0.9" dx="0.7">0.012</tspan></text>
<line x1="62.00" y1="200.20" x2="66.00" y2="200.20" stroke="#8a8a8a" stroke-width="1.1"/>
<text transform="translate(56.80,204.60) scale(1.15,1)" font-size="10" text-anchor="end" fill="#222" class="rt"><tspan font-size="8.0" dy="-0.9">–</tspan><tspan dy="0.9" dx="0.7">0.016</tspan></text>
<line x1="96.40" y1="216.20" x2="96.40" y2="220.20" stroke="#8a8a8a" stroke-width="1.1"/>
<text transform="translate(96.40,232.60) scale(1.15,1)" font-size="10" text-anchor="middle" fill="#222" class="rt">450</text>
<line x1="134.49" y1="216.20" x2="134.49" y2="220.20" stroke="#8a8a8a" stroke-width="1.1"/>
<text transform="translate(134.49,232.60) scale(1.15,1)" font-size="10" text-anchor="middle" fill="#222" class="rt">500</text>
<line x1="172.57" y1="216.20" x2="172.57" y2="220.20" stroke="#8a8a8a" stroke-width="1.1"/>
<text transform="translate(172.57,232.60) scale(1.15,1)" font-size="10" text-anchor="middle" fill="#222" class="rt">550</text>
<line x1="210.66" y1="216.20" x2="210.66" y2="220.20" stroke="#8a8a8a" stroke-width="1.1"/>
<text transform="translate(210.66,232.60) scale(1.15,1)" font-size="10" text-anchor="middle" fill="#222" class="rt">600</text>
<line x1="248.74" y1="216.20" x2="248.74" y2="220.20" stroke="#8a8a8a" stroke-width="1.1"/>
<text transform="translate(248.74,232.60) scale(1.15,1)" font-size="10" text-anchor="middle" fill="#222" class="rt">650</text>
<line x1="286.83" y1="216.20" x2="286.83" y2="220.20" stroke="#8a8a8a" stroke-width="1.1"/>
<text transform="translate(286.83,232.60) scale(1.15,1)" font-size="10" text-anchor="middle" fill="#222" class="rt">700</text>
<line x1="324.91" y1="216.20" x2="324.91" y2="220.20" stroke="#8a8a8a" stroke-width="1.1"/>
<text transform="translate(324.91,232.60) scale(1.15,1)" font-size="10" text-anchor="middle" fill="#222" class="rt">750</text>
<text transform="translate(195.60,253.90) scale(1.08,1)" font-size="11.5" text-anchor="middle" fill="#222" class="rt">Wavelength (nm)</text>
<text transform="translate(10.20,112.00) rotate(-90) scale(1.05,1)" font-size="11.5" text-anchor="middle" fill="#222" class="rt">ΔO.D. (a.u.)</text>
<text transform="translate(-0.20,12.60) scale(1.06,1)" font-size="17" text-anchor="start" fill="#000" font-weight="bold" stroke="#000" stroke-width="0.25">a</text>
<line x1="263.10" y1="68.50" x2="275.00" y2="68.50" stroke="#3a0a10" stroke-width="1.1"/>
<text transform="translate(279.80,73.20) scale(1.13,1)" font-size="10.5" text-anchor="start" fill="#222" class="rt">1.69 ns</text>
<line x1="263.10" y1="85.82" x2="275.00" y2="85.82" stroke="#9c2a2a" stroke-width="1.1"/>
<text transform="translate(279.80,90.52) scale(1.13,1)" font-size="10.5" text-anchor="start" fill="#222" class="rt">8.84 ns</text>
<line x1="263.10" y1="103.14" x2="275.00" y2="103.14" stroke="#ec3a2c" stroke-width="1.1"/>
<text transform="translate(279.80,107.84) scale(1.13,1)" font-size="10.5" text-anchor="start" fill="#222" class="rt">32.8 ns</text>
<line x1="263.10" y1="120.46" x2="275.00" y2="120.46" stroke="#ff4a2a" stroke-width="1.1"/>
<text transform="translate(279.80,125.16) scale(1.13,1)" font-size="10.5" text-anchor="start" fill="#222" class="rt">98.2 ns</text>
<line x1="263.10" y1="137.78" x2="275.00" y2="137.78" stroke="#ff8446" stroke-width="1.1"/>
<text transform="translate(279.80,142.48) scale(1.13,1)" font-size="10.5" text-anchor="start" fill="#222" class="rt">275 ns</text>
<line x1="263.10" y1="155.10" x2="275.00" y2="155.10" stroke="#ffa028" stroke-width="1.1"/>
<text transform="translate(279.80,159.80) scale(1.13,1)" font-size="10.5" text-anchor="start" fill="#222" class="rt">759 ns</text>
<line x1="263.10" y1="172.42" x2="275.00" y2="172.42" stroke="#ffc410" stroke-width="1.1"/>
<text transform="translate(279.80,177.12) scale(1.13,1)" font-size="10.5" text-anchor="start" fill="#222" class="rt">2.07 µs</text>
<line x1="263.10" y1="189.74" x2="275.00" y2="189.74" stroke="#fff870" stroke-width="1.1"/>
<text transform="translate(279.80,194.44) scale(1.13,1)" font-size="10.5" text-anchor="start" fill="#222" class="rt">5.64 µs</text>
<line x1="263.10" y1="207.06" x2="275.00" y2="207.06" stroke="#fffa8c" stroke-width="1.1"/>
<text transform="translate(279.80,211.76) scale(1.13,1)" font-size="10.5" text-anchor="start" fill="#222" class="rt">8.66 µs</text>
<line x1="412.50" y1="6.60" x2="412.50" y2="216.20" stroke="#6e6e6e" stroke-width="1.1"/>
<line x1="412.00" y1="216.20" x2="672.80" y2="216.20" stroke="#6e6e6e" stroke-width="1.1"/>
<line x1="412.50" y1="104.40" x2="672.30" y2="104.40" stroke="#303030" stroke-width="0.9"/>
<line x1="408.50" y1="37.36" x2="412.50" y2="37.36" stroke="#6e6e6e" stroke-width="1.0"/>
<text transform="translate(403.30,41.76) scale(1.15,1)" font-size="10" text-anchor="end" fill="#222" class="rt">0.012</text>
<line x1="408.50" y1="70.88" x2="412.50" y2="70.88" stroke="#6e6e6e" stroke-width="1.0"/>
<text transform="translate(403.30,75.28) scale(1.15,1)" font-size="10" text-anchor="end" fill="#222" class="rt">0.006</text>
<line x1="408.50" y1="104.40" x2="412.50" y2="104.40" stroke="#6e6e6e" stroke-width="1.0"/>
<text transform="translate(403.30,108.80) scale(1.15,1)" font-size="10" text-anchor="end" fill="#222" class="rt">0</text>
<line x1="408.50" y1="137.92" x2="412.50" y2="137.92" stroke="#6e6e6e" stroke-width="1.0"/>
<text transform="translate(403.30,142.32) scale(1.15,1)" font-size="10" text-anchor="end" fill="#222" class="rt"><tspan font-size="8.0" dy="-0.9">–</tspan><tspan dy="0.9" dx="0.7">0.006</tspan></text>
<line x1="408.50" y1="171.44" x2="412.50" y2="171.44" stroke="#6e6e6e" stroke-width="1.0"/>
<text transform="translate(403.30,175.84) scale(1.15,1)" font-size="10" text-anchor="end" fill="#222" class="rt"><tspan font-size="8.0" dy="-0.9">–</tspan><tspan dy="0.9" dx="0.7">0.012</tspan></text>
<line x1="408.50" y1="204.97" x2="412.50" y2="204.97" stroke="#6e6e6e" stroke-width="1.0"/>
<text transform="translate(403.30,209.37) scale(1.15,1)" font-size="10" text-anchor="end" fill="#222" class="rt"><tspan font-size="8.0" dy="-0.9">–</tspan><tspan dy="0.9" dx="0.7">0.018</tspan></text>
<line x1="443.05" y1="216.20" x2="443.05" y2="220.00" stroke="#6e6e6e" stroke-width="1.0"/>
<text transform="translate(443.05,232.60) scale(1.15,1)" font-size="10" text-anchor="middle" fill="#222" class="rt">450</text>
<line x1="481.26" y1="216.20" x2="481.26" y2="220.00" stroke="#6e6e6e" stroke-width="1.0"/>
<text transform="translate(481.26,232.60) scale(1.15,1)" font-size="10" text-anchor="middle" fill="#222" class="rt">500</text>
<line x1="519.47" y1="216.20" x2="519.47" y2="220.00" stroke="#6e6e6e" stroke-width="1.0"/>
<text transform="translate(519.47,232.60) scale(1.15,1)" font-size="10" text-anchor="middle" fill="#222" class="rt">550</text>
<line x1="557.68" y1="216.20" x2="557.68" y2="220.00" stroke="#6e6e6e" stroke-width="1.0"/>
<text transform="translate(557.68,232.60) scale(1.15,1)" font-size="10" text-anchor="middle" fill="#222" class="rt">600</text>
<line x1="595.89" y1="216.20" x2="595.89" y2="220.00" stroke="#6e6e6e" stroke-width="1.0"/>
<text transform="translate(595.89,232.60) scale(1.15,1)" font-size="10" text-anchor="middle" fill="#222" class="rt">650</text>
<line x1="634.10" y1="216.20" x2="634.10" y2="220.00" stroke="#6e6e6e" stroke-width="1.0"/>
<text transform="translate(634.10,232.60) scale(1.15,1)" font-size="10" text-anchor="middle" fill="#222" class="rt">700</text>
<line x1="672.31" y1="216.20" x2="672.31" y2="220.00" stroke="#6e6e6e" stroke-width="1.0"/>
<text transform="translate(672.31,232.60) scale(1.15,1)" font-size="10" text-anchor="middle" fill="#222" class="rt">750</text>
<text transform="translate(542.60,253.90) scale(1.08,1)" font-size="11.5" text-anchor="middle" fill="#222" class="rt">Wavelength (nm)</text>
<text transform="translate(361.00,111.50) rotate(-90) scale(1.08,1)" font-size="11.5" text-anchor="middle" fill="#222" class="rt">SAS</text>
<text transform="translate(350.60,12.90) scale(1.14,1)" font-size="17" text-anchor="start" fill="#000" font-weight="bold" stroke="#000" stroke-width="0.25">b</text>
<path d="M412.4,114.2 L412.9,115.1 L413.4,116.1 L413.9,117.2 L414.4,118.3 L414.9,119.4 L415.4,120.5 L415.9,121.7 L416.4,123.0 L416.9,124.2 L417.4,125.5 L417.9,126.9 L418.4,128.2 L418.9,129.6 L419.4,131.2 L419.9,132.8 L420.4,134.5 L420.9,136.2 L421.4,137.9 L421.9,139.7 L422.4,141.4 L422.9,143.0 L423.4,144.5 L423.9,145.9 L424.4,147.3 L424.9,148.6 L425.4,149.9 L425.9,151.2 L426.4,152.5 L426.9,153.7 L427.4,154.9 L427.9,156.2 L428.4,157.4 L428.9,158.7 L429.4,160.0 L429.9,161.4 L430.4,162.8 L430.9,164.2 L431.4,165.6 L431.9,166.9 L432.4,168.3 L432.9,169.6 L433.4,170.8 L433.9,171.9 L434.4,173.0 L434.9,174.0 L435.4,174.9 L435.9,175.8 L436.4,176.7 L436.9,177.5 L437.4,178.3 L437.9,179.1 L438.4,179.9 L438.9,180.7 L439.4,181.5 L439.9,182.3 L440.4,183.1 L440.9,183.9 L441.4,184.8 L441.9,185.6 L442.4,186.3 L442.9,187.1 L443.4,187.9 L443.9,188.7 L444.4,189.4 L444.9,190.2 L445.4,190.9 L445.9,191.7 L446.4,192.4 L446.9,193.0 L447.4,193.7 L447.9,194.4 L448.4,195.0 L448.9,195.7 L449.4,196.4 L449.9,197.0 L450.4,197.7 L450.9,198.4 L451.4,199.2 L451.9,199.9 L452.4,200.7 L452.9,201.5 L453.4,202.3 L453.9,203.0 L454.4,203.7 L454.9,204.5 L455.4,205.2 L455.9,205.4 L456.4,205.2 L456.9,204.7 L457.4,204.2 L457.9,203.7 L458.4,203.1 L458.9,202.4 L459.4,201.7 L459.9,201.1 L460.4,200.5 L460.9,199.9 L461.4,199.3 L461.9,198.7 L462.4,197.9 L462.9,197.1 L463.4,196.2 L463.9,195.1 L464.4,194.0 L464.9,192.9 L465.4,191.7 L465.9,190.4 L466.4,189.1 L466.9,187.7 L467.4,186.3 L467.9,184.8 L468.4,183.4 L468.9,182.0 L469.4,180.6 L469.9,179.2 L470.4,177.9 L470.9,176.6 L471.4,175.3 L471.9,174.0 L472.4,172.7 L472.9,171.4 L473.4,170.1 L473.9,168.8 L474.4,167.5 L474.9,166.2 L475.4,164.8 L475.9,163.5 L476.4,162.1 L476.9,160.7 L477.4,159.3 L477.9,157.8 L478.4,156.3 L478.9,154.9 L479.4,153.5 L479.9,152.1 L480.4,150.8 L480.9,149.6 L481.4,148.4 L481.9,147.2 L482.4,146.0 L482.9,144.9 L483.4,143.8 L483.9,142.8 L484.4,141.7 L484.9,140.7 L485.4,139.8 L485.9,138.8 L486.4,137.9 L486.9,137.0 L487.4,136.1 L487.9,135.2 L488.4,134.4 L488.9,133.5 L489.4,132.7 L489.9,131.9 L490.4,131.1 L490.9,130.3 L491.4,129.5 L491.9,128.8 L492.4,128.1 L492.9,127.3 L493.4,126.7 L493.9,126.0 L494.4,125.3 L494.9,124.7 L495.4,124.0 L495.9,123.4 L496.4,122.8 L496.9,122.2 L497.4,121.6 L497.9,121.1 L498.4,120.5 L498.9,119.9 L499.4,119.4 L499.9,118.9 L500.4,118.3 L500.9,117.8 L501.4,117.3 L501.9,116.8 L502.4,116.3 L502.9,115.8 L503.4,115.4 L503.9,114.9 L504.4,114.4 L504.9,113.9 L505.4,113.5 L505.9,113.0 L506.4,112.6 L506.9,112.1 L507.4,111.7 L507.9,111.2 L508.4,110.8 L508.9,110.4 L509.4,110.0 L509.9,109.6 L510.4,109.2 L510.9,108.8 L511.4,108.4 L511.9,108.0 L512.4,107.6 L512.9,107.3 L513.4,106.9 L513.9,106.6 L514.4,106.2 L514.9,105.9 L515.4,105.6 L515.9,105.3 L516.4,105.0 L516.9,104.7 L517.4,104.4 L517.9,104.1 L518.4,103.9 L518.9,103.6 L519.4,103.3 L519.9,103.1 L520.4,102.8 L520.9,102.6 L521.4,102.3 L521.9,102.1 L522.4,101.8 L522.9,101.6 L523.4,101.4 L523.9,101.1 L524.4,100.9 L524.9,100.7 L525.4,100.4 L525.9,100.2 L526.4,99.9 L526.9,99.7 L527.4,99.4 L527.9,99.2 L528.4,98.9 L528.9,98.7 L529.4,98.4 L529.9,98.2 L530.4,98.0 L530.9,97.8 L531.4,97.6 L531.9,97.5 L532.4,97.3 L532.9,97.2 L533.4,97.0 L533.9,96.9 L534.4,96.7 L534.9,96.6 L535.4,96.4 L535.9,96.3 L536.4,96.2 L536.9,96.1 L537.4,95.9 L537.9,95.8 L538.4,95.7 L538.9,95.6 L539.4,95.5 L539.9,95.3 L540.4,95.2 L540.9,95.1 L541.4,95.0 L541.9,94.9 L542.3,94.8 L542.8,94.7 L543.3,94.6 L543.8,94.5 L544.3,94.4 L544.8,94.4 L545.3,94.3 L545.8,94.2 L546.3,94.1 L546.8,94.0 L547.3,94.0 L547.8,93.9 L548.3,93.8 L548.8,93.8 L549.3,93.7 L549.8,93.7 L550.3,93.6 L550.8,93.6 L551.3,93.5 L551.8,93.4 L552.3,93.4 L552.8,93.3 L553.3,93.3 L553.8,93.2 L554.3,93.2 L554.8,93.1 L555.3,93.1 L555.8,93.0 L556.3,93.0 L556.8,92.9 L557.3,92.9 L557.8,92.8 L558.3,92.8 L558.8,92.7 L559.3,92.7 L559.8,92.7 L560.3,92.7 L560.8,92.5 L561.3,92.6 L561.8,92.6 L562.3,92.4 L562.8,92.5 L563.3,92.5 L563.8,92.2 L564.3,92.4 L564.8,92.3 L565.3,92.2 L565.8,92.3 L566.3,92.3 L566.8,92.2 L567.3,91.9 L567.8,92.1 L568.3,92.0 L568.8,92.0 L569.3,92.0 L569.8,91.9 L570.3,92.1 L570.8,91.9 L571.3,91.9 L571.8,91.9 L572.3,91.9 L572.8,91.9 L573.3,91.9 L573.8,91.8 L574.3,91.8 L574.8,91.5 L575.3,91.6 L575.8,91.8 L576.3,91.7 L576.8,91.9 L577.3,91.9 L577.8,91.6 L578.3,91.7 L578.8,92.0 L579.3,91.6 L579.8,91.7 L580.3,91.7 L580.8,91.7 L581.3,91.7 L581.8,91.7 L582.3,91.8 L582.8,91.6 L583.3,91.8 L583.8,91.6 L584.3,91.8 L584.8,91.8 L585.3,91.6 L585.8,91.7 L586.3,91.6 L586.8,91.6 L587.3,91.9 L587.8,91.5 L588.3,91.8 L588.8,91.8 L589.3,91.7 L589.8,91.9 L590.3,91.9 L590.8,91.6 L591.3,91.8 L591.8,91.8 L592.3,91.7 L592.8,91.9 L593.3,91.9 L593.8,91.7 L594.3,91.6 L594.8,91.9 L595.3,91.7 L595.8,91.6 L596.3,91.8 L596.8,91.6 L597.3,91.8 L597.8,92.0 L598.3,91.5 L598.8,91.9 L599.3,91.8 L599.8,91.8 L600.3,91.8 L600.8,92.0 L601.3,91.9 L601.8,91.8 L602.3,91.8 L602.8,91.9 L603.3,92.1 L603.8,91.8 L604.3,92.0 L604.8,92.0 L605.3,91.8 L605.8,92.1 L606.3,92.0 L606.8,92.3 L607.3,92.3 L607.8,92.0 L608.3,92.1 L608.8,92.0 L609.3,91.9 L609.8,92.2 L610.3,92.1 L610.8,92.1 L611.3,92.1 L611.8,92.2 L612.3,92.3 L612.8,92.2 L613.3,92.2 L613.8,92.2 L614.3,92.5 L614.8,92.0 L615.3,92.1 L615.8,92.4 L616.3,92.3 L616.8,92.5 L617.3,92.5 L617.8,92.7 L618.3,92.4 L618.8,92.6 L619.3,92.5 L619.8,92.7 L620.3,92.6 L620.8,92.8 L621.3,92.6 L621.8,92.8 L622.3,92.8 L622.8,92.8 L623.3,92.9 L623.8,92.9 L624.3,93.2 L624.8,93.1 L625.3,93.3 L625.8,93.1 L626.3,93.1 L626.8,93.3 L627.3,93.4 L627.8,93.6 L628.3,93.7 L628.8,93.8 L629.3,93.9 L629.8,93.9 L630.3,93.9 L630.8,93.9 L631.3,94.2 L631.8,94.2 L632.3,94.3 L632.8,94.6 L633.3,94.7 L633.8,94.9 L634.3,94.9 L634.8,95.2 L635.3,95.3 L635.8,95.3 L636.3,95.4 L636.8,95.5 L637.3,95.6 L637.8,96.0 L638.3,95.8 L638.8,96.2 L639.3,96.2 L639.8,96.2 L640.3,96.3 L640.8,96.4 L641.3,96.5 L641.8,96.4 L642.3,96.3 L642.8,96.1 L643.3,95.9 L643.8,96.3 L644.3,95.8 L644.8,95.7 L645.3,95.9 L645.8,95.5 L646.3,95.6 L646.8,95.5 L647.3,95.3 L647.8,95.2 L648.3,94.8 L648.8,94.7 L649.3,94.8 L649.8,94.7 L650.3,94.7 L650.8,94.7 L651.3,94.5 L651.8,94.3 L652.3,94.6 L652.8,94.4 L653.3,94.5 L653.8,94.7 L654.3,94.4 L654.8,94.5 L655.3,94.3 L655.8,94.5 L656.3,94.4 L656.8,94.4 L657.3,94.5 L657.8,94.3 L658.3,94.5 L658.8,94.5 L659.3,94.6 L659.8,94.2 L660.3,94.4 L660.8,94.7 L661.3,94.4 L661.8,94.4 L662.3,94.6 L662.8,94.7 L663.3,94.4 L663.8,94.3 L664.3,94.3 L664.8,94.4 L665.3,94.3 L665.8,94.3 L666.3,94.5 L666.8,94.4 L667.3,94.5 L667.8,94.4 L668.3,94.3 L668.8,94.5 L669.3,94.5 L669.8,94.4 L670.3,94.4 L670.8,94.5 L671.3,94.5 L671.8,94.5 L672.3,94.6" fill="none" stroke="#1c1c1c" stroke-width="1.4" stroke-linejoin="round"/>
<path d="M412.4,114.2 L412.9,115.1 L413.4,116.1 L413.9,117.2 L414.4,118.2 L414.9,119.3 L415.4,120.4 L415.9,121.6 L416.4,122.8 L416.9,124.0 L417.4,125.2 L417.9,126.5 L418.4,127.7 L418.9,129.1 L419.4,130.5 L419.9,132.0 L420.4,133.5 L420.9,135.1 L421.4,136.7 L421.9,138.3 L422.4,139.8 L422.9,141.3 L423.4,142.7 L423.9,144.1 L424.4,145.4 L424.9,146.7 L425.4,148.0 L425.9,149.2 L426.4,150.4 L426.9,151.7 L427.4,152.8 L427.9,154.0 L428.4,155.1 L428.9,156.3 L429.4,157.4 L429.9,158.5 L430.4,159.5 L430.9,160.6 L431.4,161.6 L431.9,162.6 L432.4,163.6 L432.9,164.6 L433.4,165.6 L433.9,166.6 L434.4,167.5 L434.9,168.4 L435.4,169.3 L435.9,170.2 L436.4,171.1 L436.9,172.0 L437.4,172.8 L437.9,173.7 L438.4,174.5 L438.9,175.3 L439.4,176.1 L439.9,176.9 L440.4,177.7 L440.9,178.5 L441.4,179.3 L441.9,180.0 L442.4,180.8 L442.9,181.5 L443.4,182.3 L443.9,183.0 L444.4,183.8 L444.9,184.5 L445.4,185.2 L445.9,186.0 L446.4,186.7 L446.9,187.3 L447.4,188.0 L447.9,188.7 L448.4,189.3 L448.9,190.0 L449.4,190.6 L449.9,191.3 L450.4,192.0 L450.9,192.7 L451.4,193.5 L451.9,194.3 L452.4,195.1 L452.9,195.9 L453.4,196.7 L453.9,197.4 L454.4,198.2 L454.9,198.9 L455.4,199.4 L455.9,199.3 L456.4,198.9 L456.9,198.5 L457.4,198.0 L457.9,197.5 L458.4,196.8 L458.9,196.2 L459.4,195.5 L459.9,194.8 L460.4,194.1 L460.9,193.4 L461.4,192.7 L461.9,191.9 L462.4,191.0 L462.9,190.0 L463.4,188.8 L463.9,187.5 L464.4,186.1 L464.9,184.7 L465.4,183.3 L465.9,182.0 L466.4,180.8 L466.9,179.6 L467.4,178.3 L467.9,177.1 L468.4,175.8 L468.9,174.4 L469.4,172.9 L469.9,171.3 L470.4,169.4 L470.9,167.3 L471.4,165.0 L471.9,162.7 L472.4,160.3 L472.9,158.0 L473.4,155.8 L473.9,153.8 L474.4,151.9 L474.9,150.2 L475.4,148.5 L475.9,146.8 L476.4,145.2 L476.9,143.6 L477.4,142.0 L477.9,140.4 L478.4,138.9 L478.9,137.3 L479.4,135.6 L479.9,133.8 L480.4,132.1 L480.9,130.5 L481.4,128.9 L481.9,127.6 L482.4,126.5 L482.9,125.7 L483.4,125.1 L483.9,124.5 L484.4,123.9 L484.9,123.4 L485.4,123.0 L485.9,122.6 L486.4,122.3 L486.9,122.1 L487.4,122.0 L487.9,121.9 L488.4,121.9 L488.9,121.8 L489.4,121.8 L489.9,121.7 L490.4,121.7 L490.9,121.7 L491.4,121.6 L491.9,121.6 L492.4,121.6 L492.9,121.5 L493.4,121.5 L493.9,121.4 L494.4,121.3 L494.9,121.2 L495.4,121.0 L495.9,120.8 L496.4,120.5 L496.9,120.2 L497.4,119.9 L497.9,119.5 L498.4,119.2 L498.9,118.8 L499.4,118.4 L499.9,118.0 L500.4,117.6 L500.9,117.2 L501.4,116.9 L501.9,116.5 L502.4,116.1 L502.9,115.8 L503.4,115.5 L503.9,115.2 L504.4,114.9 L504.9,114.6 L505.4,114.3 L505.9,113.9 L506.4,113.6 L506.9,113.3 L507.4,113.0 L507.9,112.7 L508.4,112.4 L508.9,112.0 L509.4,111.7 L509.9,111.4 L510.4,111.1 L510.9,110.8 L511.4,110.5 L511.9,110.3 L512.4,110.0 L512.9,109.7 L513.4,109.5 L513.9,109.2 L514.4,109.0 L514.9,108.7 L515.4,108.5 L515.9,108.3 L516.4,108.1 L516.9,107.9 L517.4,107.7 L517.9,107.5 L518.4,107.3 L518.9,107.2 L519.4,107.0 L519.9,106.8 L520.4,106.6 L520.9,106.4 L521.4,106.3 L521.9,106.1 L522.4,105.9 L522.9,105.7 L523.4,105.5 L523.9,105.2 L524.4,105.0 L524.9,104.8 L525.4,104.5 L525.9,104.2 L526.4,103.9 L526.9,103.6 L527.4,103.2 L527.9,102.9 L528.4,102.5 L528.9,102.2 L529.4,101.8 L529.9,101.5 L530.4,101.2 L530.9,101.0 L531.4,100.7 L531.9,100.5 L532.4,100.4 L532.9,100.2 L533.4,100.0 L533.9,99.9 L534.4,99.7 L534.9,99.6 L535.4,99.4 L535.9,99.3 L536.4,99.1 L536.9,99.0 L537.4,98.9 L537.9,98.7 L538.4,98.6 L538.9,98.5 L539.4,98.4 L539.9,98.3 L540.4,98.2 L540.9,98.0 L541.4,97.9 L541.9,97.8 L542.3,97.7 L542.8,97.6 L543.3,97.5 L543.8,97.4 L544.3,97.4 L544.8,97.3 L545.3,97.2 L545.8,97.1 L546.3,97.0 L546.8,96.9 L547.3,96.9 L547.8,96.8 L548.3,96.7 L548.8,96.6 L549.3,96.6 L549.8,96.5 L550.3,96.4 L550.8,96.3 L551.3,96.3 L551.8,96.2 L552.3,96.1 L552.8,96.1 L553.3,96.0 L553.8,95.9 L554.3,95.9 L554.8,95.8 L555.3,95.7 L555.8,95.7 L556.3,95.6 L556.8,95.5 L557.3,95.5 L557.8,95.4 L558.3,95.4 L558.8,95.3 L559.3,95.2 L559.8,95.2 L560.3,95.3 L560.8,95.0 L561.3,95.0 L561.8,94.8 L562.3,94.9 L562.8,94.9 L563.3,94.9 L563.8,94.8 L564.3,94.7 L564.8,94.6 L565.3,94.6 L565.8,94.4 L566.3,94.5 L566.8,94.5 L567.3,94.3 L567.8,94.4 L568.3,94.3 L568.8,94.3 L569.3,94.2 L569.8,94.2 L570.3,94.3 L570.8,94.1 L571.3,94.2 L571.8,93.9 L572.3,93.9 L572.8,93.7 L573.3,93.9 L573.8,93.7 L574.3,93.9 L574.8,93.6 L575.3,93.7 L575.8,93.8 L576.3,93.8 L576.8,93.5 L577.3,93.6 L577.8,93.9 L578.3,93.7 L578.8,93.6 L579.3,93.2 L579.8,93.4 L580.3,93.6 L580.8,93.5 L581.3,93.5 L581.8,93.5 L582.3,93.4 L582.8,93.5 L583.3,93.1 L583.8,93.6 L584.3,93.3 L584.8,93.2 L585.3,93.4 L585.8,93.3 L586.3,93.3 L586.8,93.1 L587.3,93.2 L587.8,93.2 L588.3,93.0 L588.8,93.1 L589.3,93.0 L589.8,93.0 L590.3,92.9 L590.8,92.8 L591.3,93.0 L591.8,93.0 L592.3,93.1 L592.8,92.9 L593.3,92.8 L593.8,92.7 L594.3,92.8 L594.8,92.8 L595.3,93.0 L595.8,93.0 L596.3,92.9 L596.8,92.6 L597.3,92.6 L597.8,92.7 L598.3,92.6 L598.8,92.8 L599.3,92.7 L599.8,92.6 L600.3,92.6 L600.8,92.8 L601.3,92.5 L601.8,92.6 L602.3,92.4 L602.8,92.5 L603.3,92.5 L603.8,92.6 L604.3,92.5 L604.8,92.6 L605.3,92.6 L605.8,92.4 L606.3,92.3 L606.8,92.4 L607.3,92.4 L607.8,92.4 L608.3,92.3 L608.8,92.6 L609.3,92.5 L609.8,92.4 L610.3,92.4 L610.8,92.4 L611.3,92.4 L611.8,92.4 L612.3,92.2 L612.8,92.4 L613.3,92.2 L613.8,92.4 L614.3,92.5 L614.8,92.3 L615.3,92.4 L615.8,92.4 L616.3,92.4 L616.8,92.7 L617.3,92.6 L617.8,92.6 L618.3,92.5 L618.8,92.6 L619.3,92.6 L619.8,92.7 L620.3,92.5 L620.8,92.7 L621.3,92.7 L621.8,92.6 L622.3,93.0 L622.8,92.9 L623.3,92.8 L623.8,92.8 L624.3,92.9 L624.8,92.9 L625.3,93.0 L625.8,93.0 L626.3,93.1 L626.8,93.3 L627.3,93.4 L627.8,93.1 L628.3,93.4 L628.8,93.4 L629.3,93.4 L629.8,93.6 L630.3,93.6 L630.8,93.9 L631.3,94.0 L631.8,94.0 L632.3,94.1 L632.8,94.5 L633.3,94.7 L633.8,94.6 L634.3,94.7 L634.8,95.0 L635.3,95.2 L635.8,95.1 L636.3,95.5 L636.8,95.4 L637.3,95.7 L637.8,95.7 L638.3,95.9 L638.8,96.0 L639.3,96.2 L639.8,96.4 L640.3,96.2 L640.8,96.4 L641.3,96.5 L641.8,96.3 L642.3,96.6 L642.8,96.1 L643.3,96.4 L643.8,96.0 L644.3,96.0 L644.8,96.0 L645.3,95.8 L645.8,95.5 L646.3,95.5 L646.8,95.4 L647.3,95.4 L647.8,95.3 L648.3,95.2 L648.8,95.1 L649.3,94.8 L649.8,94.9 L650.3,94.6 L650.8,94.7 L651.3,94.6 L651.8,94.4 L652.3,94.7 L652.8,94.6 L653.3,94.7 L653.8,94.3 L654.3,94.4 L654.8,94.5 L655.3,94.4 L655.8,94.5 L656.3,94.4 L656.8,94.5 L657.3,94.4 L657.8,94.7 L658.3,94.5 L658.8,94.4 L659.3,94.6 L659.8,94.6 L660.3,94.5 L660.8,94.5 L661.3,94.5 L661.8,94.5 L662.3,94.2 L662.8,94.3 L663.3,94.4 L663.8,94.5 L664.3,94.7 L664.8,94.5 L665.3,94.5 L665.8,94.7 L666.3,94.5 L666.8,94.6 L667.3,94.6 L667.8,94.4 L668.3,94.6 L668.8,94.6 L669.3,94.4 L669.8,94.4 L670.3,94.4 L670.8,94.7 L671.3,94.8 L671.8,94.7 L672.3,94.8" fill="none" stroke="#ff8c1a" stroke-width="1.4" stroke-linejoin="round"/>
<path d="M412.4,114.2 L412.9,115.1 L413.4,116.0 L413.9,117.0 L414.4,118.1 L414.9,119.2 L415.4,120.4 L415.9,121.6 L416.4,122.8 L416.9,124.1 L417.4,125.5 L417.9,126.8 L418.4,128.2 L418.9,129.7 L419.4,131.4 L419.9,133.1 L420.4,134.9 L420.9,136.6 L421.4,138.2 L421.9,139.7 L422.4,141.2 L422.9,142.5 L423.4,143.4 L423.9,143.9 L424.4,144.4 L424.9,144.7 L425.4,145.0 L425.9,145.2 L426.4,145.3 L426.9,145.3 L427.4,145.1 L427.9,145.0 L428.4,144.7 L428.9,144.5 L429.4,144.2 L429.9,143.9 L430.4,143.6 L430.9,143.4 L431.4,143.1 L431.9,142.8 L432.4,142.5 L432.9,142.1 L433.4,141.8 L433.9,141.4 L434.4,141.1 L434.9,140.8 L435.4,140.5 L435.9,140.3 L436.4,140.2 L436.9,140.1 L437.4,140.1 L437.9,140.2 L438.4,140.4 L438.9,140.5 L439.4,140.8 L439.9,141.0 L440.4,141.3 L440.9,141.6 L441.4,141.9 L441.9,142.1 L442.4,142.4 L442.9,142.6 L443.4,142.7 L443.9,142.9 L444.4,143.1 L444.9,143.3 L445.4,143.5 L445.9,143.7 L446.4,143.9 L446.9,144.0 L447.4,144.2 L447.9,144.3 L448.4,144.4 L448.9,144.4 L449.4,144.4 L449.9,144.3 L450.4,144.1 L450.9,143.9 L451.4,143.7 L451.9,143.4 L452.4,143.1 L452.9,142.7 L453.4,142.1 L453.9,141.4 L454.4,140.6 L454.9,139.7 L455.4,138.6 L455.9,137.5 L456.4,136.1 L456.9,134.5 L457.4,132.7 L457.9,130.8 L458.4,128.8 L458.9,126.7 L459.4,124.6 L459.9,122.5 L460.4,120.3 L460.9,118.0 L461.4,115.7 L461.9,113.2 L462.4,110.7 L462.9,108.0 L463.4,105.2 L463.9,102.2 L464.4,98.9 L464.9,95.4 L465.4,91.9 L465.9,88.3 L466.4,84.8 L466.9,81.5 L467.4,78.2 L467.9,74.9 L468.4,71.7 L468.9,68.5 L469.4,65.4 L469.9,62.3 L470.4,59.2 L470.9,56.1 L471.4,53.2 L471.9,50.3 L472.4,47.6 L472.9,45.0 L473.4,42.4 L473.9,39.9 L474.4,37.7 L474.9,36.0 L475.4,34.6 L475.9,33.4 L476.4,32.2 L476.9,31.2 L477.4,30.3 L477.9,29.6 L478.4,29.1 L478.9,28.7 L479.4,28.3 L479.9,28.0 L480.4,27.7 L480.9,27.5 L481.4,27.4 L481.9,27.4 L482.4,27.6 L482.9,27.9 L483.4,28.3 L483.9,28.8 L484.4,29.4 L484.9,30.0 L485.4,30.9 L485.9,32.0 L486.4,33.2 L486.9,34.5 L487.4,35.8 L487.9,37.1 L488.4,38.5 L488.9,40.0 L489.4,41.5 L489.9,43.1 L490.4,44.6 L490.9,46.1 L491.4,47.6 L491.9,49.2 L492.4,50.7 L492.9,52.3 L493.4,53.8 L493.9,55.2 L494.4,56.7 L494.9,58.1 L495.4,59.6 L495.9,61.0 L496.4,62.5 L496.9,63.9 L497.4,65.4 L497.9,66.7 L498.4,68.1 L498.9,69.4 L499.4,70.6 L499.9,71.8 L500.4,72.8 L500.9,73.8 L501.4,74.8 L501.9,75.7 L502.4,76.6 L502.9,77.4 L503.4,78.3 L503.9,79.1 L504.4,79.9 L504.9,80.7 L505.4,81.4 L505.9,82.1 L506.4,82.8 L506.9,83.5 L507.4,84.1 L507.9,84.8 L508.4,85.4 L508.9,86.0 L509.4,86.5 L509.9,87.1 L510.4,87.6 L510.9,88.2 L511.4,88.7 L511.9,89.2 L512.4,89.7 L512.9,90.1 L513.4,90.6 L513.9,91.0 L514.4,91.5 L514.9,91.9 L515.4,92.3 L515.9,92.7 L516.4,93.1 L516.9,93.5 L517.4,93.8 L517.9,94.2 L518.4,94.5 L518.9,94.8 L519.4,95.1 L519.9,95.4 L520.4,95.7 L520.9,96.0 L521.4,96.3 L521.9,96.6 L522.4,96.8 L522.9,97.1 L523.4,97.3 L523.9,97.5 L524.4,97.7 L524.9,97.9 L525.4,98.1 L525.9,98.3 L526.4,98.5 L526.9,98.7 L527.4,98.8 L527.9,99.0 L528.4,99.2 L528.9,99.3 L529.4,99.4 L529.9,99.6 L530.4,99.7 L530.9,99.8 L531.4,99.9 L531.9,100.0 L532.4,100.1 L532.9,100.2 L533.4,100.3 L533.9,100.4 L534.4,100.5 L534.9,100.6 L535.4,100.7 L535.9,100.8 L536.4,100.9 L536.9,100.9 L537.4,101.0 L537.9,101.1 L538.4,101.2 L538.9,101.3 L539.4,101.3 L539.9,101.4 L540.4,101.5 L540.9,101.5 L541.4,101.6 L541.9,101.7 L542.3,101.7 L542.8,101.8 L543.3,101.9 L543.8,101.9 L544.3,102.0 L544.8,102.0 L545.3,102.1 L545.8,102.2 L546.3,102.2 L546.8,102.3 L547.3,102.3 L547.8,102.4 L548.3,102.4 L548.8,102.5 L549.3,102.5 L549.8,102.6 L550.3,102.6 L550.8,102.6 L551.3,102.7 L551.8,102.7 L552.3,102.8 L552.8,102.8 L553.3,102.9 L553.8,102.9 L554.3,102.9 L554.8,103.0 L555.3,103.0 L555.8,103.1 L556.3,103.1 L556.8,103.2 L557.3,103.2 L557.8,103.2 L558.3,103.3 L558.8,103.3 L559.3,103.4 L559.8,103.4 L560.3,103.2 L560.8,103.8 L561.3,104.0 L561.8,103.9 L562.3,103.4 L562.8,103.9 L563.3,103.7 L563.8,104.0 L564.3,103.6 L564.8,103.8 L565.3,103.7 L565.8,104.0 L566.3,103.9 L566.8,104.2 L567.3,104.1 L567.8,104.1 L568.3,104.0 L568.8,104.0 L569.3,104.1 L569.8,104.2 L570.3,104.1 L570.8,104.2 L571.3,104.1 L571.8,104.1 L572.3,104.0 L572.8,103.8 L573.3,104.3 L573.8,104.4 L574.3,104.0 L574.8,104.7 L575.3,104.0 L575.8,104.5 L576.3,104.3 L576.8,104.4 L577.3,104.5 L577.8,104.5 L578.3,104.3 L578.8,104.1 L579.3,104.0 L579.8,104.3 L580.3,104.6 L580.8,104.5 L581.3,104.3 L581.8,104.4 L582.3,104.4 L582.8,104.7 L583.3,104.1 L583.8,104.4 L584.3,104.3 L584.8,104.1 L585.3,104.1 L585.8,104.6 L586.3,104.3 L586.8,104.2 L587.3,104.3 L587.8,104.5 L588.3,104.3 L588.8,104.6 L589.3,104.2 L589.8,104.1 L590.3,104.2 L590.8,104.0 L591.3,104.2 L591.8,104.5 L592.3,104.6 L592.8,104.4 L593.3,104.3 L593.8,104.0 L594.3,104.0 L594.8,104.3 L595.3,104.2 L595.8,104.1 L596.3,104.1 L596.8,104.5 L597.3,104.4 L597.8,104.2 L598.3,104.2 L598.8,104.5 L599.3,104.3 L599.8,104.2 L600.3,103.8 L600.8,103.8 L601.3,103.7 L601.8,103.7 L602.3,104.1 L602.8,104.2 L603.3,103.9 L603.8,104.2 L604.3,104.2 L604.8,104.1 L605.3,103.8 L605.8,104.4 L606.3,104.4 L606.8,104.0 L607.3,104.5 L607.8,104.1 L608.3,103.9 L608.8,104.0 L609.3,103.7 L609.8,104.0 L610.3,103.8 L610.8,104.4 L611.3,104.2 L611.8,103.8 L612.3,104.2 L612.8,103.7 L613.3,104.1 L613.8,104.2 L614.3,104.1 L614.8,103.9 L615.3,104.1 L615.8,104.1 L616.3,104.1 L616.8,104.4 L617.3,104.5 L617.8,104.4 L618.3,104.0 L618.8,103.9 L619.3,104.1 L619.8,104.2 L620.3,103.6 L620.8,104.0 L621.3,104.5 L621.8,103.8 L622.3,103.9 L622.8,103.9 L623.3,104.2 L623.8,104.1 L624.3,104.0 L624.8,103.8 L625.3,104.2 L625.8,104.1 L626.3,104.0 L626.8,104.1 L627.3,104.3 L627.8,103.8 L628.3,103.8 L628.8,103.9 L629.3,103.9 L629.8,103.4 L630.3,104.0 L630.8,104.3 L631.3,104.0 L631.8,104.3 L632.3,103.5 L632.8,104.1 L633.3,104.4 L633.8,104.4 L634.3,104.0 L634.8,103.9 L635.3,104.2 L635.8,103.8 L636.3,104.0 L636.8,103.7 L637.3,104.1 L637.8,104.1 L638.3,104.5 L638.8,104.2 L639.3,104.0 L639.8,104.1 L640.3,103.8 L640.8,104.1 L641.3,104.1 L641.8,104.2 L642.3,104.3 L642.8,103.7 L643.3,104.2 L643.8,104.3 L644.3,103.8 L644.8,104.5 L645.3,103.9 L645.8,104.6 L646.3,104.3 L646.8,104.3 L647.3,104.2 L647.8,104.3 L648.3,103.9 L648.8,103.9 L649.3,103.7 L649.8,104.2 L650.3,103.9 L650.8,104.3 L651.3,104.2 L651.8,103.8 L652.3,104.3 L652.8,104.2 L653.3,104.1 L653.8,104.2 L654.3,104.1 L654.8,104.1 L655.3,104.3 L655.8,103.9 L656.3,103.8 L656.8,103.9 L657.3,104.3 L657.8,104.0 L658.3,104.5 L658.8,103.4 L659.3,103.9 L659.8,104.0 L660.3,104.2 L660.8,104.4 L661.3,104.1 L661.8,103.9 L662.3,104.3 L662.8,104.4 L663.3,103.5 L663.8,104.2 L664.3,104.2 L664.8,103.9 L665.3,104.0 L665.8,104.2 L666.3,104.1 L666.8,104.0 L667.3,103.8 L667.8,104.2 L668.3,104.0 L668.8,104.1 L669.3,104.0 L669.8,104.1 L670.3,104.3 L670.8,104.2 L671.3,104.2 L671.8,103.8 L672.3,104.2" fill="none" stroke="#2020f0" stroke-width="1.4" stroke-linejoin="round"/>
<line x1="589.60" y1="10.60" x2="601.30" y2="10.60" stroke="#1c1c1c" stroke-width="1.15"/>
<text transform="translate(607.20,14.60) scale(1.17,1)" font-size="10.5" font-weight="bold" fill="#111" stroke="#111" stroke-width="0.35">*[Ru-LH]<tspan font-size="7" dy="-4.6">2+</tspan></text>
<line x1="589.60" y1="29.95" x2="601.30" y2="29.95" stroke="#ff8c1a" stroke-width="1.15"/>
<text transform="translate(607.20,33.95) scale(1.17,1)" font-size="10.5" font-weight="bold" fill="#111" stroke="#111" stroke-width="0.35">*[Ru-L]<tspan font-size="7" dy="-4.6">+</tspan></text>
<line x1="589.60" y1="49.30" x2="601.30" y2="49.30" stroke="#2020f0" stroke-width="1.15"/>
<text transform="translate(607.20,53.30) scale(1.17,1)" font-size="10.5" font-weight="bold" fill="#111" stroke="#111" stroke-width="0.35">[Ru-L]<tspan font-size="7" dy="-4.6">+</tspan></text>
<line x1="66.30" y1="282.80" x2="66.30" y2="501.80" stroke="#808080" stroke-width="1.1"/>
<line x1="62.30" y1="282.80" x2="66.30" y2="282.80" stroke="#808080" stroke-width="1.0"/>
<line x1="66.30" y1="501.80" x2="338.60" y2="501.80" stroke="#808080" stroke-width="1.1"/>
<line x1="62.30" y1="501.80" x2="66.30" y2="501.80" stroke="#808080" stroke-width="1.0"/>
<text transform="translate(56.80,506.20) scale(1.15,1)" font-size="10" text-anchor="end" fill="#222" class="rt">0</text>
<line x1="62.30" y1="458.00" x2="66.30" y2="458.00" stroke="#808080" stroke-width="1.0"/>
<text transform="translate(56.80,462.40) scale(1.15,1)" font-size="10" text-anchor="end" fill="#222" class="rt">0.2</text>
<line x1="62.30" y1="414.20" x2="66.30" y2="414.20" stroke="#808080" stroke-width="1.0"/>
<text transform="translate(56.80,418.60) scale(1.15,1)" font-size="10" text-anchor="end" fill="#222" class="rt">0.4</text>
<line x1="62.30" y1="370.40" x2="66.30" y2="370.40" stroke="#808080" stroke-width="1.0"/>
<text transform="translate(56.80,374.80) scale(1.15,1)" font-size="10" text-anchor="end" fill="#222" class="rt">0.6</text>
<line x1="62.30" y1="326.60" x2="66.30" y2="326.60" stroke="#808080" stroke-width="1.0"/>
<text transform="translate(56.80,331.00) scale(1.15,1)" font-size="10" text-anchor="end" fill="#222" class="rt">0.8</text>
<line x1="62.30" y1="282.80" x2="66.30" y2="282.80" stroke="#808080" stroke-width="1.0"/>
<text transform="translate(56.80,287.20) scale(1.15,1)" font-size="10" text-anchor="end" fill="#222" class="rt">1.0</text>
<line x1="66.02" y1="501.80" x2="66.02" y2="504.00" stroke="#808080" stroke-width="0.9"/>
<line x1="73.54" y1="501.80" x2="73.54" y2="504.00" stroke="#808080" stroke-width="0.9"/>
<line x1="79.38" y1="501.80" x2="79.38" y2="504.00" stroke="#808080" stroke-width="0.9"/>
<line x1="84.14" y1="501.80" x2="84.14" y2="504.00" stroke="#808080" stroke-width="0.9"/>
<line x1="88.17" y1="501.80" x2="88.17" y2="504.00" stroke="#808080" stroke-width="0.9"/>
<line x1="91.67" y1="501.80" x2="91.67" y2="504.00" stroke="#808080" stroke-width="0.9"/>
<line x1="94.75" y1="501.80" x2="94.75" y2="504.00" stroke="#808080" stroke-width="0.9"/>
<line x1="97.50" y1="501.80" x2="97.50" y2="505.80" stroke="#808080" stroke-width="0.9"/>
<line x1="115.62" y1="501.80" x2="115.62" y2="504.00" stroke="#808080" stroke-width="0.9"/>
<line x1="126.22" y1="501.80" x2="126.22" y2="504.00" stroke="#808080" stroke-width="0.9"/>
<line x1="133.74" y1="501.80" x2="133.74" y2="504.00" stroke="#808080" stroke-width="0.9"/>
<line x1="139.58" y1="501.80" x2="139.58" y2="504.00" stroke="#808080" stroke-width="0.9"/>
<line x1="144.34" y1="501.80" x2="144.34" y2="504.00" stroke="#808080" stroke-width="0.9"/>
<line x1="148.37" y1="501.80" x2="148.37" y2="504.00" stroke="#808080" stroke-width="0.9"/>
<line x1="151.87" y1="501.80" x2="151.87" y2="504.00" stroke="#808080" stroke-width="0.9"/>
<line x1="154.95" y1="501.80" x2="154.95" y2="504.00" stroke="#808080" stroke-width="0.9"/>
<line x1="157.70" y1="501.80" x2="157.70" y2="505.80" stroke="#808080" stroke-width="0.9"/>
<line x1="175.82" y1="501.80" x2="175.82" y2="504.00" stroke="#808080" stroke-width="0.9"/>
<line x1="186.42" y1="501.80" x2="186.42" y2="504.00" stroke="#808080" stroke-width="0.9"/>
<line x1="193.94" y1="501.80" x2="193.94" y2="504.00" stroke="#808080" stroke-width="0.9"/>
<line x1="199.78" y1="501.80" x2="199.78" y2="504.00" stroke="#808080" stroke-width="0.9"/>
<line x1="204.54" y1="501.80" x2="204.54" y2="504.00" stroke="#808080" stroke-width="0.9"/>
<line x1="208.57" y1="501.80" x2="208.57" y2="504.00" stroke="#808080" stroke-width="0.9"/>
<line x1="212.07" y1="501.80" x2="212.07" y2="504.00" stroke="#808080" stroke-width="0.9"/>
<line x1="215.15" y1="501.80" x2="215.15" y2="504.00" stroke="#808080" stroke-width="0.9"/>
<line x1="217.90" y1="501.80" x2="217.90" y2="505.80" stroke="#808080" stroke-width="0.9"/>
<line x1="236.02" y1="501.80" x2="236.02" y2="504.00" stroke="#808080" stroke-width="0.9"/>
<line x1="246.62" y1="501.80" x2="246.62" y2="504.00" stroke="#808080" stroke-width="0.9"/>
<line x1="254.14" y1="501.80" x2="254.14" y2="504.00" stroke="#808080" stroke-width="0.9"/>
<line x1="259.98" y1="501.80" x2="259.98" y2="504.00" stroke="#808080" stroke-width="0.9"/>
<line x1="264.74" y1="501.80" x2="264.74" y2="504.00" stroke="#808080" stroke-width="0.9"/>
<line x1="268.77" y1="501.80" x2="268.77" y2="504.00" stroke="#808080" stroke-width="0.9"/>
<line x1="272.27" y1="501.80" x2="272.27" y2="504.00" stroke="#808080" stroke-width="0.9"/>
<line x1="275.35" y1="501.80" x2="275.35" y2="504.00" stroke="#808080" stroke-width="0.9"/>
<line x1="278.10" y1="501.80" x2="278.10" y2="505.80" stroke="#808080" stroke-width="0.9"/>
<line x1="296.22" y1="501.80" x2="296.22" y2="504.00" stroke="#808080" stroke-width="0.9"/>
<line x1="306.82" y1="501.80" x2="306.82" y2="504.00" stroke="#808080" stroke-width="0.9"/>
<line x1="314.34" y1="501.80" x2="314.34" y2="504.00" stroke="#808080" stroke-width="0.9"/>
<line x1="320.18" y1="501.80" x2="320.18" y2="504.00" stroke="#808080" stroke-width="0.9"/>
<line x1="324.94" y1="501.80" x2="324.94" y2="504.00" stroke="#808080" stroke-width="0.9"/>
<line x1="328.97" y1="501.80" x2="328.97" y2="504.00" stroke="#808080" stroke-width="0.9"/>
<line x1="332.47" y1="501.80" x2="332.47" y2="504.00" stroke="#808080" stroke-width="0.9"/>
<line x1="335.55" y1="501.80" x2="335.55" y2="504.00" stroke="#808080" stroke-width="0.9"/>
<line x1="338.30" y1="501.80" x2="338.30" y2="505.80" stroke="#808080" stroke-width="0.9"/>
<text transform="translate(97.50,519.60) scale(1.15,1)" font-size="10" text-anchor="middle" fill="#222" class="rt">0.001</text>
<text transform="translate(157.70,519.60) scale(1.15,1)" font-size="10" text-anchor="middle" fill="#222" class="rt">0.01</text>
<text transform="translate(217.90,519.60) scale(1.15,1)" font-size="10" text-anchor="middle" fill="#222" class="rt">0.1</text>
<text transform="translate(278.10,519.60) scale(1.15,1)" font-size="10" text-anchor="middle" fill="#222" class="rt">1</text>
<text transform="translate(338.30,519.60) scale(1.15,1)" font-size="10" text-anchor="middle" fill="#222" class="rt">10</text>
<text transform="translate(202.50,540.00) scale(1.08,1)" font-size="11.5" text-anchor="middle" fill="#222" class="rt">Time (µs)</text>
<text transform="translate(29.80,394.50) rotate(-90) scale(1.08,1)" font-size="11.5" text-anchor="middle" fill="#222" class="rt">Population</text>
<text transform="translate(-0.10,290.40) scale(1.1,1)" font-size="17" text-anchor="start" fill="#000" font-weight="bold" stroke="#000" stroke-width="0.25">c</text>
<path d="M66.3,501.8 L66.8,501.8 L67.3,501.8 L67.8,501.8 L68.3,501.8 L68.8,501.8 L69.3,501.8 L69.8,501.8 L70.3,501.8 L70.8,501.7 L71.3,501.7 L71.8,501.6 L72.3,501.6 L72.8,501.5 L73.3,501.5 L73.8,501.4 L74.3,501.4 L74.8,501.3 L75.3,501.3 L75.8,501.3 L76.3,501.2 L76.8,501.2 L77.3,501.1 L77.8,501.1 L78.3,501.1 L78.8,501.0 L79.3,501.0 L79.8,501.0 L80.3,501.0 L80.8,500.9 L81.3,500.9 L81.8,500.9 L82.3,500.9 L82.8,500.8 L83.3,500.8 L83.8,500.8 L84.3,500.8 L84.8,500.8 L85.3,500.8 L85.8,500.7 L86.3,500.7 L86.8,500.7 L87.3,500.7 L87.8,500.7 L88.3,500.7 L88.8,500.7 L89.3,500.7 L89.8,500.6 L90.3,500.6 L90.8,500.6 L91.3,500.6 L91.8,500.6 L92.3,500.6 L92.8,500.6 L93.3,500.6 L93.8,500.6 L94.3,500.5 L94.8,500.5 L95.3,500.5 L95.8,500.5 L96.3,500.5 L96.8,500.5 L97.3,500.5 L97.8,500.5 L98.3,500.5 L98.8,500.4 L99.3,500.4 L99.8,500.4 L100.3,500.4 L100.8,500.4 L101.3,500.4 L101.8,500.3 L102.3,500.3 L102.8,500.3 L103.3,500.3 L103.8,500.3 L104.3,500.2 L104.7,500.2 L105.2,500.2 L105.7,500.2 L106.2,500.1 L106.7,500.1 L107.2,500.1 L107.7,500.0 L108.2,500.0 L108.7,500.0 L109.2,499.9 L109.7,499.9 L110.2,499.9 L110.7,499.8 L111.2,499.8 L111.7,499.7 L112.2,499.7 L112.7,499.6 L113.2,499.6 L113.7,499.5 L114.2,499.5 L114.7,499.4 L115.2,499.3 L115.7,499.3 L116.2,499.2 L116.7,499.1 L117.2,499.1 L117.7,499.0 L118.2,498.9 L118.7,498.9 L119.2,498.8 L119.7,498.7 L120.2,498.6 L120.7,498.5 L121.2,498.4 L121.7,498.3 L122.2,498.2 L122.7,498.1 L123.2,498.0 L123.7,497.9 L124.2,497.8 L124.7,497.7 L125.2,497.6 L125.7,497.5 L126.2,497.4 L126.7,497.2 L127.2,497.1 L127.7,497.0 L128.2,496.8 L128.7,496.7 L129.2,496.6 L129.7,496.4 L130.2,496.3 L130.7,496.1 L131.2,495.9 L131.7,495.8 L132.2,495.6 L132.7,495.4 L133.2,495.3 L133.7,495.1 L134.2,494.9 L134.7,494.7 L135.2,494.5 L135.7,494.3 L136.2,494.1 L136.7,493.9 L137.2,493.7 L137.7,493.5 L138.2,493.3 L138.7,493.1 L139.2,492.9 L139.7,492.6 L140.2,492.4 L140.7,492.1 L141.2,491.9 L141.7,491.7 L142.2,491.4 L142.7,491.1 L143.2,490.9 L143.7,490.6 L144.2,490.3 L144.7,490.0 L145.2,489.8 L145.7,489.5 L146.2,489.2 L146.7,488.9 L147.2,488.6 L147.7,488.3 L148.2,487.9 L148.7,487.6 L149.2,487.3 L149.7,486.9 L150.2,486.6 L150.7,486.3 L151.2,485.9 L151.7,485.6 L152.2,485.2 L152.7,484.8 L153.2,484.4 L153.7,484.1 L154.2,483.7 L154.7,483.3 L155.2,482.9 L155.7,482.5 L156.2,482.1 L156.7,481.6 L157.2,481.2 L157.7,480.8 L158.2,480.3 L158.7,479.9 L159.2,479.4 L159.7,479.0 L160.2,478.5 L160.7,478.0 L161.2,477.6 L161.7,477.1 L162.2,476.6 L162.7,476.1 L163.2,475.6 L163.7,475.1 L164.2,474.5 L164.7,474.0 L165.2,473.5 L165.7,472.9 L166.2,472.4 L166.7,471.8 L167.2,471.3 L167.7,470.7 L168.2,470.1 L168.7,469.5 L169.2,468.9 L169.7,468.3 L170.2,467.7 L170.7,467.1 L171.2,466.5 L171.7,465.8 L172.2,465.2 L172.7,464.5 L173.2,463.9 L173.7,463.2 L174.2,462.5 L174.7,461.8 L175.2,461.2 L175.7,460.5 L176.2,459.8 L176.7,459.1 L177.2,458.4 L177.7,457.6 L178.2,456.9 L178.7,456.2 L179.2,455.5 L179.7,454.7 L180.2,454.0 L180.6,453.2 L181.1,452.5 L181.6,451.7 L182.1,451.0 L182.6,450.2 L183.1,449.4 L183.6,448.7 L184.1,447.9 L184.6,447.1 L185.1,446.3 L185.6,445.5 L186.1,444.8 L186.6,444.0 L187.1,443.2 L187.6,442.4 L188.1,441.6 L188.6,440.8 L189.1,440.0 L189.6,439.2 L190.1,438.4 L190.6,437.6 L191.1,436.9 L191.6,436.1 L192.1,435.3 L192.6,434.5 L193.1,433.7 L193.6,432.9 L194.1,432.1 L194.6,431.3 L195.1,430.5 L195.6,429.7 L196.1,428.9 L196.6,428.1 L197.1,427.4 L197.6,426.6 L198.1,425.8 L198.6,425.0 L199.1,424.3 L199.6,423.5 L200.1,422.7 L200.6,422.0 L201.1,421.3 L201.6,420.5 L202.1,419.8 L202.6,419.1 L203.1,418.4 L203.6,417.7 L204.1,417.1 L204.6,416.4 L205.1,415.8 L205.6,415.2 L206.1,414.6 L206.6,414.0 L207.1,413.4 L207.6,412.9 L208.1,412.4 L208.6,411.9 L209.1,411.5 L209.6,411.0 L210.1,410.6 L210.6,410.3 L211.1,409.9 L211.6,409.6 L212.1,409.3 L212.6,409.1 L213.1,408.8 L213.6,408.7 L214.1,408.5 L214.6,408.4 L215.1,408.3 L215.6,408.3 L216.1,408.3 L216.6,408.3 L217.1,408.4 L217.6,408.5 L218.1,408.6 L218.6,408.7 L219.1,408.9 L219.6,409.1 L220.1,409.4 L220.6,409.6 L221.1,409.9 L221.6,410.3 L222.1,410.6 L222.6,411.0 L223.1,411.4 L223.6,411.9 L224.1,412.3 L224.6,412.8 L225.1,413.3 L225.6,413.9 L226.1,414.4 L226.6,415.0 L227.1,415.6 L227.6,416.3 L228.1,416.9 L228.6,417.6 L229.1,418.3 L229.6,419.0 L230.1,419.7 L230.6,420.5 L231.1,421.3 L231.6,422.1 L232.1,422.9 L232.6,423.7 L233.1,424.6 L233.6,425.4 L234.1,426.3 L234.6,427.2 L235.1,428.1 L235.6,429.0 L236.1,430.0 L236.6,430.9 L237.1,431.9 L237.6,432.9 L238.1,433.9 L238.6,434.9 L239.1,435.9 L239.6,436.9 L240.1,437.9 L240.6,439.0 L241.1,440.0 L241.6,441.1 L242.1,442.2 L242.6,443.3 L243.1,444.3 L243.6,445.4 L244.1,446.5 L244.6,447.6 L245.1,448.8 L245.6,449.9 L246.1,451.0 L246.6,452.1 L247.1,453.2 L247.6,454.4 L248.1,455.5 L248.6,456.6 L249.1,457.7 L249.6,458.9 L250.1,460.0 L250.6,461.1 L251.1,462.2 L251.6,463.4 L252.1,464.5 L252.6,465.6 L253.1,466.7 L253.6,467.8 L254.1,468.9 L254.6,469.9 L255.1,471.0 L255.6,472.1 L256.1,473.1 L256.6,474.2 L257.0,475.2 L257.5,476.2 L258.0,477.2 L258.5,478.2 L259.0,479.2 L259.5,480.2 L260.0,481.1 L260.5,482.1 L261.0,483.0 L261.5,483.9 L262.0,484.8 L262.5,485.7 L263.0,486.5 L263.5,487.4 L264.0,488.2 L264.5,489.0 L265.0,489.7 L265.5,490.5 L266.0,491.2 L266.5,491.9 L267.0,492.6 L267.5,493.3 L268.0,493.9 L268.5,494.5 L269.0,495.1 L269.5,495.6 L270.0,496.2 L270.5,496.6 L271.0,497.1 L271.5,497.6 L272.0,498.0 L272.5,498.4 L273.0,498.8 L273.5,499.1 L274.0,499.5 L274.5,499.8 L275.0,500.1 L275.5,500.3 L276.0,500.6 L276.5,500.8 L277.0,501.0 L277.5,501.2 L278.0,501.4 L278.5,501.6 L279.0,501.7 L279.5,501.8 L280.0,501.8 L280.5,501.8 L281.0,501.8 L281.5,501.8 L282.0,501.8 L282.5,501.8 L283.0,501.8 L283.5,501.8 L284.0,501.8 L284.5,501.8 L285.0,501.8 L285.5,501.8 L286.0,501.8 L286.5,501.8 L287.0,501.8 L287.5,501.8 L288.0,501.8 L288.5,501.8 L289.0,501.8 L289.5,501.8 L290.0,501.8 L290.5,501.8 L291.0,501.8 L291.5,501.7 L292.0,501.6 L292.5,501.5 L293.0,501.4 L293.5,501.4 L294.0,501.3 L294.5,501.2 L295.0,501.1 L336.5,501.8" fill="none" stroke="#2020f0" stroke-width="1.3" stroke-linejoin="round"/>
<path d="M66.3,472.2 L76.2,463.0 L76.7,462.6 L77.2,462.2 L77.7,461.7 L78.2,461.1 L78.7,460.5 L79.2,459.9 L79.7,459.2 L80.2,458.5 L80.7,457.7 L81.2,457.0 L81.7,456.1 L82.2,455.3 L82.7,454.4 L83.2,453.5 L83.7,452.6 L84.2,451.6 L84.7,450.6 L85.2,449.6 L85.7,448.6 L86.2,447.5 L86.7,446.4 L87.2,445.4 L87.7,444.3 L88.2,443.2 L88.7,442.0 L89.2,440.9 L89.7,439.8 L90.2,438.6 L90.7,437.5 L91.2,436.3 L91.7,435.2 L92.2,434.0 L92.7,432.8 L93.2,431.7 L93.7,430.5 L94.2,429.4 L94.7,428.3 L95.2,427.1 L95.7,426.0 L96.2,424.9 L96.7,423.8 L97.2,422.7 L97.7,421.6 L98.2,420.5 L98.7,419.4 L99.2,418.4 L99.7,417.3 L100.2,416.3 L100.7,415.2 L101.2,414.2 L101.7,413.2 L102.2,412.1 L102.7,411.1 L103.2,410.1 L103.7,409.1 L104.2,408.2 L104.7,407.2 L105.2,406.2 L105.7,405.2 L106.2,404.3 L106.7,403.3 L107.2,402.3 L107.7,401.3 L108.2,400.3 L108.7,399.3 L109.2,398.3 L109.7,397.2 L110.2,396.2 L110.7,395.1 L111.2,394.0 L111.7,392.9 L112.2,391.7 L112.7,390.6 L113.2,389.4 L113.7,388.3 L114.2,387.1 L114.7,385.9 L115.2,384.7 L115.7,383.5 L116.2,382.3 L116.7,381.1 L117.2,379.9 L117.7,378.7 L118.2,377.5 L118.7,376.3 L119.2,375.1 L119.7,373.9 L120.1,372.7 L120.6,371.5 L121.1,370.3 L121.6,369.1 L122.1,367.9 L122.6,366.8 L123.1,365.6 L123.6,364.5 L124.1,363.4 L124.6,362.3 L125.1,361.2 L125.6,360.1 L126.1,359.0 L126.6,358.0 L127.1,357.0 L127.6,356.0 L128.1,355.0 L128.6,354.1 L129.1,353.1 L129.6,352.2 L130.1,351.4 L130.6,350.5 L131.1,349.7 L131.6,348.9 L132.1,348.2 L132.6,347.5 L133.1,346.7 L133.6,346.1 L134.1,345.4 L134.6,344.8 L135.1,344.2 L135.6,343.6 L136.1,343.1 L136.6,342.6 L137.1,342.1 L137.6,341.6 L138.1,341.2 L138.6,340.8 L139.1,340.4 L139.6,340.1 L140.1,339.7 L140.6,339.4 L141.1,339.1 L141.6,338.9 L142.1,338.6 L142.6,338.4 L143.1,338.3 L143.6,338.1 L144.1,338.0 L144.6,337.8 L145.1,337.8 L145.6,337.7 L146.1,337.7 L146.6,337.6 L147.1,337.6 L147.6,337.7 L148.1,337.7 L148.6,337.8 L149.1,337.9 L149.6,338.0 L150.1,338.2 L150.6,338.3 L151.1,338.5 L151.6,338.7 L152.1,339.0 L152.6,339.2 L153.1,339.5 L153.6,339.8 L154.1,340.1 L154.6,340.4 L155.1,340.8 L155.6,341.2 L156.1,341.6 L156.6,342.0 L157.1,342.4 L157.6,342.9 L158.1,343.4 L158.6,343.9 L159.1,344.4 L159.6,344.9 L160.1,345.5 L160.6,346.0 L161.1,346.6 L161.6,347.3 L162.1,347.9 L162.6,348.5 L163.1,349.2 L163.6,349.9 L164.1,350.6 L164.6,351.3 L165.1,352.1 L165.6,352.8 L166.1,353.6 L166.6,354.4 L167.1,355.2 L167.6,356.0 L168.1,356.9 L168.6,357.7 L169.1,358.6 L169.6,359.5 L170.1,360.4 L170.6,361.3 L171.1,362.3 L171.6,363.2 L172.1,364.2 L172.6,365.2 L173.1,366.2 L173.6,367.2 L174.1,368.2 L174.6,369.3 L175.1,370.3 L175.6,371.4 L176.1,372.5 L176.6,373.6 L177.1,374.7 L177.6,375.8 L178.1,376.9 L178.6,378.1 L179.1,379.2 L179.6,380.4 L180.1,381.6 L180.6,382.7 L181.1,383.9 L181.6,385.1 L182.1,386.3 L182.6,387.5 L183.1,388.8 L183.6,390.0 L184.1,391.2 L184.6,392.5 L185.1,393.7 L185.6,395.0 L186.1,396.3 L186.6,397.5 L187.1,398.8 L187.6,400.1 L188.1,401.4 L188.6,402.7 L189.1,404.0 L189.6,405.3 L190.1,406.6 L190.6,407.9 L191.1,409.2 L191.6,410.5 L192.1,411.8 L192.6,413.2 L193.1,414.5 L193.6,415.8 L194.1,417.1 L194.6,418.4 L195.1,419.8 L195.6,421.1 L196.1,422.4 L196.6,423.8 L197.1,425.1 L197.6,426.4 L198.1,427.7 L198.6,429.1 L199.1,430.4 L199.6,431.7 L200.1,433.0 L200.6,434.3 L201.1,435.7 L201.6,437.0 L202.1,438.3 L202.6,439.6 L203.1,440.9 L203.6,442.2 L204.1,443.5 L204.6,444.7 L205.1,446.0 L205.6,447.3 L206.1,448.6 L206.6,449.8 L207.0,451.1 L207.5,452.3 L208.0,453.6 L208.5,454.8 L209.0,456.0 L209.5,457.2 L210.0,458.4 L210.5,459.6 L211.0,460.8 L211.5,462.0 L212.0,463.2 L212.5,464.3 L213.0,465.5 L213.5,466.6 L214.0,467.8 L214.5,468.9 L215.0,470.0 L215.5,471.1 L216.0,472.2 L216.5,473.2 L217.0,474.3 L217.5,475.3 L218.0,476.4 L218.5,477.4 L219.0,478.4 L219.5,479.3 L220.0,480.3 L220.5,481.2 L221.0,482.2 L221.5,483.1 L222.0,484.0 L222.5,484.8 L223.0,485.7 L223.5,486.5 L224.0,487.3 L224.5,488.1 L225.0,488.8 L225.5,489.6 L226.0,490.3 L226.5,491.0 L227.0,491.6 L227.5,492.3 L228.0,492.9 L228.5,493.4 L229.0,494.0 L229.5,494.5 L230.0,495.0 L230.5,495.5 L231.0,495.9 L231.5,496.3 L232.0,496.7 L232.5,497.1 L233.0,497.4 L233.5,497.7 L234.0,498.0 L234.5,498.3 L235.0,498.5 L235.5,498.8 L236.0,499.0 L236.5,499.2 L237.0,499.3 L237.5,499.5 L238.0,499.7 L238.5,499.8 L239.0,499.9 L239.5,500.0 L240.0,500.1 L240.5,500.2 L241.0,500.3 L241.5,500.4 L242.0,500.5 L242.5,500.6 L243.0,500.6 L243.5,500.7 L244.0,500.8 L244.5,500.8 L245.0,500.9 L245.5,501.0 L246.0,501.0 L246.5,501.1 L247.0,501.2 L247.5,501.3 L248.0,501.3 L248.5,501.4 L249.0,501.5 L249.5,501.7 L250.0,501.8 L338.3,501.8" fill="none" stroke="#ff8c1a" stroke-width="1.3" stroke-linejoin="round"/>
<path d="M66.3,353.2 L76.2,343.4 L84.0,341.6 L91.0,346.9 L91.5,347.8 L92.0,348.7 L92.5,349.7 L93.0,350.7 L93.5,351.7 L94.0,352.8 L94.5,353.9 L95.0,355.1 L95.5,356.2 L96.0,357.4 L96.5,358.7 L97.0,359.9 L97.5,361.2 L98.0,362.6 L98.5,363.9 L98.9,365.3 L99.4,366.7 L99.9,368.1 L100.4,369.5 L100.9,371.0 L101.4,372.5 L101.9,373.9 L102.4,375.5 L102.9,377.0 L103.4,378.5 L103.9,380.1 L104.4,381.7 L104.9,383.2 L105.4,384.8 L105.9,386.4 L106.4,388.0 L106.9,389.7 L107.4,391.3 L107.9,392.9 L108.4,394.5 L108.9,396.2 L109.4,397.8 L109.9,399.4 L110.4,401.1 L110.9,402.7 L111.4,404.3 L111.9,406.0 L112.4,407.6 L112.9,409.2 L113.4,410.9 L113.9,412.5 L114.4,414.1 L114.8,415.7 L115.3,417.4 L115.8,419.0 L116.3,420.6 L116.8,422.2 L117.3,423.8 L117.8,425.4 L118.3,427.0 L118.8,428.6 L119.3,430.2 L119.8,431.7 L120.3,433.3 L120.8,434.9 L121.3,436.4 L121.8,438.0 L122.3,439.5 L122.8,441.1 L123.3,442.6 L123.8,444.1 L124.3,445.6 L124.8,447.1 L125.3,448.6 L125.8,450.1 L126.3,451.6 L126.8,453.0 L127.3,454.5 L127.8,455.9 L128.3,457.4 L128.8,458.8 L129.3,460.2 L129.8,461.6 L130.3,462.9 L130.7,464.3 L131.2,465.6 L131.7,466.9 L132.2,468.2 L132.7,469.5 L133.2,470.7 L133.7,471.9 L134.2,473.1 L134.7,474.3 L135.2,475.4 L135.7,476.5 L136.2,477.6 L136.7,478.7 L137.2,479.7 L137.7,480.7 L138.2,481.7 L138.7,482.6 L139.2,483.5 L139.7,484.4 L140.2,485.3 L140.7,486.1 L141.2,486.9 L141.7,487.6 L142.2,488.4 L142.7,489.1 L143.2,489.8 L143.7,490.5 L144.2,491.1 L144.7,491.8 L145.2,492.4 L145.7,492.9 L146.2,493.5 L146.6,494.0 L147.1,494.5 L147.6,495.0 L148.1,495.5 L148.6,495.9 L149.1,496.4 L149.6,496.8 L150.1,497.2 L150.6,497.5 L151.1,497.9 L151.6,498.2 L152.1,498.5 L152.6,498.8 L153.1,499.1 L153.6,499.4 L154.1,499.6 L154.6,499.9 L155.1,500.1 L155.6,500.3 L156.1,500.5 L156.6,500.7 L157.1,500.8 L157.6,501.0 L158.1,501.1 L158.6,501.2 L159.1,501.3 L159.6,501.4 L160.1,501.5 L160.6,501.6 L161.1,501.7 L161.6,501.7 L162.1,501.8 L162.5,501.8 L163.0,501.8 L163.5,501.8 L164.0,501.8 L164.5,501.8 L165.0,501.8 L165.5,501.8 L166.0,501.8 L166.5,501.8 L167.0,501.8 L167.5,501.8 L168.0,501.8 L168.5,501.7 L169.0,501.7 L169.5,501.7 L170.0,501.6 L338.3,501.8" fill="none" stroke="#1c1c1c" stroke-width="1.3" stroke-linejoin="round"/>
<line x1="241.00" y1="303.40" x2="252.70" y2="303.40" stroke="#1c1c1c" stroke-width="1.15"/>
<text transform="translate(258.60,307.40) scale(1.17,1)" font-size="10.5" font-weight="bold" fill="#111" stroke="#111" stroke-width="0.35">*[Ru-LH]<tspan font-size="7" dy="-4.6">2+</tspan></text>
<line x1="241.00" y1="322.75" x2="252.70" y2="322.75" stroke="#ff8c1a" stroke-width="1.15"/>
<text transform="translate(258.60,326.75) scale(1.17,1)" font-size="10.5" font-weight="bold" fill="#111" stroke="#111" stroke-width="0.35">*[Ru-L]<tspan font-size="7" dy="-4.6">+</tspan></text>
<line x1="241.00" y1="342.10" x2="252.70" y2="342.10" stroke="#2020f0" stroke-width="1.15"/>
<text transform="translate(258.60,346.10) scale(1.17,1)" font-size="10.5" font-weight="bold" fill="#111" stroke="#111" stroke-width="0.35">[Ru-L]<tspan font-size="7" dy="-4.6">+</tspan></text>
<line x1="412.30" y1="286.80" x2="412.30" y2="501.80" stroke="#6e6e6e" stroke-width="1.1"/>
<line x1="408.30" y1="286.80" x2="412.30" y2="286.80" stroke="#6e6e6e" stroke-width="1.0"/>
<line x1="412.30" y1="501.80" x2="680.80" y2="501.80" stroke="#6e6e6e" stroke-width="1.1"/>
<line x1="412.30" y1="394.40" x2="680.50" y2="394.40" stroke="#303030" stroke-width="0.9"/>
<line x1="408.30" y1="286.90" x2="412.30" y2="286.90" stroke="#6e6e6e" stroke-width="1.0"/>
<text transform="translate(403.30,291.30) scale(1.15,1)" font-size="10" text-anchor="end" fill="#222" class="rt">0.2</text>
<line x1="408.30" y1="340.65" x2="412.30" y2="340.65" stroke="#6e6e6e" stroke-width="1.0"/>
<text transform="translate(403.30,345.05) scale(1.15,1)" font-size="10" text-anchor="end" fill="#222" class="rt">0.1</text>
<line x1="408.30" y1="394.40" x2="412.30" y2="394.40" stroke="#6e6e6e" stroke-width="1.0"/>
<text transform="translate(403.30,398.80) scale(1.15,1)" font-size="10" text-anchor="end" fill="#222" class="rt">0</text>
<line x1="408.30" y1="448.15" x2="412.30" y2="448.15" stroke="#6e6e6e" stroke-width="1.0"/>
<text transform="translate(403.30,452.55) scale(1.15,1)" font-size="10" text-anchor="end" fill="#222" class="rt"><tspan font-size="8.0" dy="-0.9">–</tspan><tspan dy="0.9" dx="0.7">0.1</tspan></text>
<line x1="408.30" y1="501.90" x2="412.30" y2="501.90" stroke="#6e6e6e" stroke-width="1.0"/>
<text transform="translate(403.30,506.30) scale(1.15,1)" font-size="10" text-anchor="end" fill="#222" class="rt"><tspan font-size="8.0" dy="-0.9">–</tspan><tspan dy="0.9" dx="0.7">0.2</tspan></text>
<line x1="412.29" y1="501.80" x2="412.29" y2="504.00" stroke="#6e6e6e" stroke-width="0.9"/>
<line x1="419.70" y1="501.80" x2="419.70" y2="504.00" stroke="#6e6e6e" stroke-width="0.9"/>
<line x1="425.45" y1="501.80" x2="425.45" y2="504.00" stroke="#6e6e6e" stroke-width="0.9"/>
<line x1="430.14" y1="501.80" x2="430.14" y2="504.00" stroke="#6e6e6e" stroke-width="0.9"/>
<line x1="434.11" y1="501.80" x2="434.11" y2="504.00" stroke="#6e6e6e" stroke-width="0.9"/>
<line x1="437.55" y1="501.80" x2="437.55" y2="504.00" stroke="#6e6e6e" stroke-width="0.9"/>
<line x1="440.59" y1="501.80" x2="440.59" y2="504.00" stroke="#6e6e6e" stroke-width="0.9"/>
<line x1="443.30" y1="501.80" x2="443.30" y2="505.80" stroke="#6e6e6e" stroke-width="0.9"/>
<line x1="461.15" y1="501.80" x2="461.15" y2="504.00" stroke="#6e6e6e" stroke-width="0.9"/>
<line x1="471.59" y1="501.80" x2="471.59" y2="504.00" stroke="#6e6e6e" stroke-width="0.9"/>
<line x1="479.00" y1="501.80" x2="479.00" y2="504.00" stroke="#6e6e6e" stroke-width="0.9"/>
<line x1="484.75" y1="501.80" x2="484.75" y2="504.00" stroke="#6e6e6e" stroke-width="0.9"/>
<line x1="489.44" y1="501.80" x2="489.44" y2="504.00" stroke="#6e6e6e" stroke-width="0.9"/>
<line x1="493.41" y1="501.80" x2="493.41" y2="504.00" stroke="#6e6e6e" stroke-width="0.9"/>
<line x1="496.85" y1="501.80" x2="496.85" y2="504.00" stroke="#6e6e6e" stroke-width="0.9"/>
<line x1="499.89" y1="501.80" x2="499.89" y2="504.00" stroke="#6e6e6e" stroke-width="0.9"/>
<line x1="502.60" y1="501.80" x2="502.60" y2="505.80" stroke="#6e6e6e" stroke-width="0.9"/>
<line x1="520.45" y1="501.80" x2="520.45" y2="504.00" stroke="#6e6e6e" stroke-width="0.9"/>
<line x1="530.89" y1="501.80" x2="530.89" y2="504.00" stroke="#6e6e6e" stroke-width="0.9"/>
<line x1="538.30" y1="501.80" x2="538.30" y2="504.00" stroke="#6e6e6e" stroke-width="0.9"/>
<line x1="544.05" y1="501.80" x2="544.05" y2="504.00" stroke="#6e6e6e" stroke-width="0.9"/>
<line x1="548.74" y1="501.80" x2="548.74" y2="504.00" stroke="#6e6e6e" stroke-width="0.9"/>
<line x1="552.71" y1="501.80" x2="552.71" y2="504.00" stroke="#6e6e6e" stroke-width="0.9"/>
<line x1="556.15" y1="501.80" x2="556.15" y2="504.00" stroke="#6e6e6e" stroke-width="0.9"/>
<line x1="559.19" y1="501.80" x2="559.19" y2="504.00" stroke="#6e6e6e" stroke-width="0.9"/>
<line x1="561.90" y1="501.80" x2="561.90" y2="505.80" stroke="#6e6e6e" stroke-width="0.9"/>
<line x1="579.75" y1="501.80" x2="579.75" y2="504.00" stroke="#6e6e6e" stroke-width="0.9"/>
<line x1="590.19" y1="501.80" x2="590.19" y2="504.00" stroke="#6e6e6e" stroke-width="0.9"/>
<line x1="597.60" y1="501.80" x2="597.60" y2="504.00" stroke="#6e6e6e" stroke-width="0.9"/>
<line x1="603.35" y1="501.80" x2="603.35" y2="504.00" stroke="#6e6e6e" stroke-width="0.9"/>
<line x1="608.04" y1="501.80" x2="608.04" y2="504.00" stroke="#6e6e6e" stroke-width="0.9"/>
<line x1="612.01" y1="501.80" x2="612.01" y2="504.00" stroke="#6e6e6e" stroke-width="0.9"/>
<line x1="615.45" y1="501.80" x2="615.45" y2="504.00" stroke="#6e6e6e" stroke-width="0.9"/>
<line x1="618.49" y1="501.80" x2="618.49" y2="504.00" stroke="#6e6e6e" stroke-width="0.9"/>
<line x1="621.20" y1="501.80" x2="621.20" y2="505.80" stroke="#6e6e6e" stroke-width="0.9"/>
<line x1="639.05" y1="501.80" x2="639.05" y2="504.00" stroke="#6e6e6e" stroke-width="0.9"/>
<line x1="649.49" y1="501.80" x2="649.49" y2="504.00" stroke="#6e6e6e" stroke-width="0.9"/>
<line x1="656.90" y1="501.80" x2="656.90" y2="504.00" stroke="#6e6e6e" stroke-width="0.9"/>
<line x1="662.65" y1="501.80" x2="662.65" y2="504.00" stroke="#6e6e6e" stroke-width="0.9"/>
<line x1="667.34" y1="501.80" x2="667.34" y2="504.00" stroke="#6e6e6e" stroke-width="0.9"/>
<line x1="671.31" y1="501.80" x2="671.31" y2="504.00" stroke="#6e6e6e" stroke-width="0.9"/>
<line x1="674.75" y1="501.80" x2="674.75" y2="504.00" stroke="#6e6e6e" stroke-width="0.9"/>
<line x1="677.79" y1="501.80" x2="677.79" y2="504.00" stroke="#6e6e6e" stroke-width="0.9"/>
<line x1="680.50" y1="501.80" x2="680.50" y2="505.80" stroke="#6e6e6e" stroke-width="0.9"/>
<text transform="translate(443.30,519.60) scale(1.15,1)" font-size="10" text-anchor="middle" fill="#222" class="rt">0.001</text>
<text transform="translate(502.60,519.60) scale(1.15,1)" font-size="10" text-anchor="middle" fill="#222" class="rt">0.01</text>
<text transform="translate(561.90,519.60) scale(1.15,1)" font-size="10" text-anchor="middle" fill="#222" class="rt">0.1</text>
<text transform="translate(621.20,519.60) scale(1.15,1)" font-size="10" text-anchor="middle" fill="#222" class="rt">1</text>
<text transform="translate(680.50,519.60) scale(1.15,1)" font-size="10" text-anchor="middle" fill="#222" class="rt">10</text>
<text transform="translate(548.50,540.00) scale(1.08,1)" font-size="11.5" text-anchor="middle" fill="#222" class="rt">Time (µs)</text>
<text transform="translate(377.90,394.40) rotate(-90) scale(1.08,1)" font-size="11.5" text-anchor="middle" fill="#222" class="rt">Residual</text>
<text transform="translate(367.20,290.40) scale(1.12,1)" font-size="17" text-anchor="start" fill="#000" font-weight="bold" stroke="#000" stroke-width="0.25">d</text>
<path d="M412.3,399.7 L428.7,337.3 L435.6,384.5 L441.2,384.5 L445.5,401.4 L449.5,335.2 L453.3,452.6 L456.2,385.5 L459.0,439.6 L461.9,437.0 L466.3,402.8 L468.9,439.6 L471.1,388.4 L472.9,424.0 L474.9,374.6 L476.7,404.9 L478.4,413.6 L480.1,364.2 L481.9,364.2 L483.6,410.1 L484.8,411.8 L486.5,356.4 L487.2,387.5 L488.0,403.0 L488.7,413.9 L489.4,393.0 L490.2,406.2 L491.1,380.2 L491.9,372.4 L492.6,390.2 L493.3,415.0 L494.1,389.9 L494.9,383.3 L495.7,397.7 L496.5,389.0 L497.2,396.7 L497.9,412.0 L498.7,408.1 L499.6,369.6 L500.4,383.3 L501.1,417.6 L501.8,417.0 L502.5,397.4 L503.2,389.0 L504.0,399.4 L504.8,384.3 L505.5,398.3 L506.1,405.9 L506.8,448.6 L507.6,411.7 L508.4,385.2 L509.2,391.6 L510.1,349.6 L510.9,380.3 L511.7,393.2 L512.4,393.4 L513.0,406.0 L513.7,403.0 L514.4,379.5 L515.1,371.4 L515.8,354.6 L516.4,370.9 L517.1,319.9 L517.8,363.3 L518.4,361.9 L519.1,409.0 L519.9,386.2 L520.6,389.2 L521.3,387.7 L522.0,397.0 L522.8,373.0 L523.6,368.4 L524.6,429.8 L525.3,384.9 L525.9,397.1 L526.6,383.3 L527.3,402.2 L527.9,389.1 L528.6,393.2 L529.2,379.2 L529.9,388.9 L530.5,363.5 L531.2,399.6 L531.9,409.0 L532.5,381.5 L533.1,343.7 L534.1,436.7 L535.0,411.8 L535.9,393.2 L536.5,414.8 L537.1,422.9 L538.1,426.8 L539.1,322.9 L539.8,368.6 L540.4,373.4 L541.2,385.2 L542.0,420.9 L542.9,395.1 L543.8,352.6 L544.8,438.7 L545.5,411.5 L546.1,414.3 L546.8,389.0 L547.4,368.6 L548.0,363.5 L548.7,364.6 L549.4,340.7 L550.1,384.6 L550.9,452.6 L551.6,384.6 L552.3,387.2 L553.0,387.5 L553.7,367.4 L554.3,404.1 L554.9,432.8 L555.9,349.6 L556.6,376.9 L557.2,419.0 L557.9,436.7 L558.6,420.3 L559.3,413.0 L560.0,420.8 L560.6,448.6 L561.3,422.8 L562.0,432.8 L562.7,412.9 L563.4,380.3 L564.2,392.1 L565.0,468.4 L565.6,421.1 L566.3,395.1 L566.9,410.5 L567.5,426.8 L568.2,374.7 L568.9,375.3 L569.6,395.0 L570.2,392.8 L570.9,409.0 L571.6,404.9 L572.3,381.3 L573.0,385.1 L573.6,393.5 L574.3,399.1 L575.0,408.4 L575.8,427.8 L576.6,369.9 L577.4,308.5 L578.1,385.4 L578.8,413.0 L579.8,366.4 L580.6,387.7 L581.4,401.1 L582.1,391.8 L582.7,366.2 L583.4,326.8 L584.1,395.5 L584.8,410.0 L585.7,349.6 L586.4,372.7 L587.1,320.9 L587.7,379.6 L588.3,417.9 L589.0,391.1 L589.7,324.9 L590.7,373.4 L591.7,313.0 L592.5,385.2 L593.3,373.4 L594.0,415.6 L594.7,407.0 L595.5,383.7 L596.2,420.9 L596.9,408.7 L597.6,379.3 L598.2,387.4 L598.8,357.5 L599.6,308.5 L600.6,405.0 L601.6,322.9 L602.4,376.0 L603.2,397.1 L603.9,372.3 L604.6,355.5 L605.2,417.7 L605.9,461.0 L606.6,395.5 L607.3,398.0 L608.0,406.0 L608.6,418.0 L609.3,412.5 L610.1,379.5 L611.0,393.2 L611.8,393.4 L612.6,372.8 L613.4,377.1 L614.1,392.8 L614.8,413.2 L615.4,423.6 L616.1,408.0 L617.0,388.3 L617.9,449.0 L618.7,396.4 L619.5,377.7 L620.2,391.7 L620.8,399.6 L621.5,356.7 L622.4,385.4 L623.2,374.3 L623.8,381.0 L624.5,400.8 L625.1,412.2 L626.0,410.8 L626.9,443.2 L627.8,397.3 L628.7,367.7 L629.5,373.6 L630.3,376.0 L630.9,402.4 L631.5,424.8 L632.2,409.7 L632.9,409.2 L633.6,374.5 L634.4,304.8 L635.0,380.5 L635.6,439.9 L636.4,384.9 L637.2,377.6 L638.3,330.0 L639.4,391.2 L640.2,388.7 L641.1,400.0 L641.8,414.1 L642.4,404.7 L643.2,404.3 L644.0,433.7 L644.9,386.4 L645.8,398.0 L646.5,409.3 L647.1,394.6 L647.8,372.4 L648.5,421.7 L649.1,415.8 L649.9,412.0 L650.7,440.3 L651.8,371.3 L652.9,429.2 L654.0,359.0 L655.1,433.7 L655.9,388.6 L656.7,355.7 L657.4,365.1 L658.0,391.3 L658.7,403.4 L659.4,364.6 L660.0,405.7 L660.7,335.6 L661.5,386.6 L662.3,464.8 L663.4,380.2 L664.5,336.8 L665.6,411.4 L666.2,403.4 L666.9,447.0 L667.7,398.4 L668.5,326.7 L669.6,429.2 L670.7,364.6 L671.3,379.9 L671.9,409.2 L673.0,433.7 L674.1,361.3 L675.2,413.6 L676.3,438.1 L677.4,409.2" fill="none" stroke="#111" stroke-width="1.1" stroke-linejoin="round"/>
<defs><linearGradient id="cb" x1="0" y1="0" x2="0" y2="1"><stop offset="0" stop-color="#ff0000"/><stop offset="0.5" stop-color="#ffffff"/><stop offset="1" stop-color="#0000ff"/></linearGradient></defs>
<rect x="275.6" y="568.7" width="8.6" height="200.4" fill="url(#cb)" stroke="#444" stroke-width="1.0"/>
<line x1="284.20" y1="568.70" x2="284.20" y2="769.10" stroke="#444" stroke-width="1.0"/>
<line x1="284.20" y1="569.10" x2="288.20" y2="569.10" stroke="#444" stroke-width="1.0"/>
<text class="rt" transform="translate(293.6,573.30) scale(1.1,1)" font-size="10" fill="#222">8.0<tspan font-size="8"> × </tspan>10<tspan font-size="6.8" dy="-4.3">−4</tspan></text>
<line x1="284.20" y1="619.30" x2="288.20" y2="619.30" stroke="#444" stroke-width="1.0"/>
<text class="rt" transform="translate(293.6,623.50) scale(1.1,1)" font-size="10" fill="#222">4.0<tspan font-size="8"> × </tspan>10<tspan font-size="6.8" dy="-4.3">−4</tspan></text>
<line x1="284.20" y1="669.50" x2="288.20" y2="669.50" stroke="#444" stroke-width="1.0"/>
<text transform="translate(293.60,673.90) scale(1.15,1)" font-size="10" text-anchor="start" fill="#222" class="rt">0</text>
<line x1="284.20" y1="719.70" x2="288.20" y2="719.70" stroke="#444" stroke-width="1.0"/>
<text class="rt" transform="translate(293.6,723.90) scale(1.1,1)" font-size="10" fill="#222"><tspan font-size="8" dy="-0.9">–</tspan><tspan dy="0.9" dx="0.7">4.0</tspan><tspan font-size="8"> × </tspan>10<tspan font-size="6.8" dy="-4.3">−4</tspan></text>
<line x1="284.20" y1="769.90" x2="288.20" y2="769.90" stroke="#444" stroke-width="1.0"/>
<text class="rt" transform="translate(293.6,774.10) scale(1.1,1)" font-size="10" fill="#222"><tspan font-size="8" dy="-0.9">–</tspan><tspan dy="0.9" dx="0.7">8.0</tspan><tspan font-size="8"> × </tspan>10<tspan font-size="6.8" dy="-4.3">−4</tspan></text>
<text transform="translate(351.30,669.30) rotate(90) scale(1.06,1)" font-size="11.5" text-anchor="middle" fill="#222" class="rt">ΔΔO.D. (a.u.)</text>
<rect x="65.4" y="568.7" width="210.0" height="200.4" fill="none" stroke="#444" stroke-width="1.0"/>
<line x1="63.40" y1="768.75" x2="65.40" y2="768.75" stroke="#444" stroke-width="0.9"/>
<line x1="63.40" y1="765.03" x2="65.40" y2="765.03" stroke="#444" stroke-width="0.9"/>
<line x1="63.40" y1="761.88" x2="65.40" y2="761.88" stroke="#444" stroke-width="0.9"/>
<line x1="63.40" y1="759.15" x2="65.40" y2="759.15" stroke="#444" stroke-width="0.9"/>
<line x1="63.40" y1="756.75" x2="65.40" y2="756.75" stroke="#444" stroke-width="0.9"/>
<line x1="61.80" y1="754.60" x2="65.40" y2="754.60" stroke="#444" stroke-width="0.9"/>
<line x1="63.40" y1="740.45" x2="65.40" y2="740.45" stroke="#444" stroke-width="0.9"/>
<line x1="63.40" y1="732.18" x2="65.40" y2="732.18" stroke="#444" stroke-width="0.9"/>
<line x1="63.40" y1="726.30" x2="65.40" y2="726.30" stroke="#444" stroke-width="0.9"/>
<line x1="63.40" y1="721.75" x2="65.40" y2="721.75" stroke="#444" stroke-width="0.9"/>
<line x1="63.40" y1="718.03" x2="65.40" y2="718.03" stroke="#444" stroke-width="0.9"/>
<line x1="63.40" y1="714.88" x2="65.40" y2="714.88" stroke="#444" stroke-width="0.9"/>
<line x1="63.40" y1="712.15" x2="65.40" y2="712.15" stroke="#444" stroke-width="0.9"/>
<line x1="63.40" y1="709.75" x2="65.40" y2="709.75" stroke="#444" stroke-width="0.9"/>
<line x1="61.80" y1="707.60" x2="65.40" y2="707.60" stroke="#444" stroke-width="0.9"/>
<line x1="63.40" y1="693.45" x2="65.40" y2="693.45" stroke="#444" stroke-width="0.9"/>
<line x1="63.40" y1="685.18" x2="65.40" y2="685.18" stroke="#444" stroke-width="0.9"/>
<line x1="63.40" y1="679.30" x2="65.40" y2="679.30" stroke="#444" stroke-width="0.9"/>
<line x1="63.40" y1="674.75" x2="65.40" y2="674.75" stroke="#444" stroke-width="0.9"/>
<line x1="63.40" y1="671.03" x2="65.40" y2="671.03" stroke="#444" stroke-width="0.9"/>
<line x1="63.40" y1="667.88" x2="65.40" y2="667.88" stroke="#444" stroke-width="0.9"/>
<line x1="63.40" y1="665.15" x2="65.40" y2="665.15" stroke="#444" stroke-width="0.9"/>
<line x1="63.40" y1="662.75" x2="65.40" y2="662.75" stroke="#444" stroke-width="0.9"/>
<line x1="61.80" y1="660.60" x2="65.40" y2="660.60" stroke="#444" stroke-width="0.9"/>
<line x1="63.40" y1="646.45" x2="65.40" y2="646.45" stroke="#444" stroke-width="0.9"/>
<line x1="63.40" y1="638.18" x2="65.40" y2="638.18" stroke="#444" stroke-width="0.9"/>
<line x1="63.40" y1="632.30" x2="65.40" y2="632.30" stroke="#444" stroke-width="0.9"/>
<line x1="63.40" y1="627.75" x2="65.40" y2="627.75" stroke="#444" stroke-width="0.9"/>
<line x1="63.40" y1="624.03" x2="65.40" y2="624.03" stroke="#444" stroke-width="0.9"/>
<line x1="63.40" y1="620.88" x2="65.40" y2="620.88" stroke="#444" stroke-width="0.9"/>
<line x1="63.40" y1="618.15" x2="65.40" y2="618.15" stroke="#444" stroke-width="0.9"/>
<line x1="63.40" y1="615.75" x2="65.40" y2="615.75" stroke="#444" stroke-width="0.9"/>
<line x1="61.80" y1="613.60" x2="65.40" y2="613.60" stroke="#444" stroke-width="0.9"/>
<line x1="63.40" y1="599.45" x2="65.40" y2="599.45" stroke="#444" stroke-width="0.9"/>
<line x1="63.40" y1="591.18" x2="65.40" y2="591.18" stroke="#444" stroke-width="0.9"/>
<line x1="63.40" y1="585.30" x2="65.40" y2="585.30" stroke="#444" stroke-width="0.9"/>
<line x1="63.40" y1="580.75" x2="65.40" y2="580.75" stroke="#444" stroke-width="0.9"/>
<line x1="63.40" y1="577.03" x2="65.40" y2="577.03" stroke="#444" stroke-width="0.9"/>
<line x1="63.40" y1="573.88" x2="65.40" y2="573.88" stroke="#444" stroke-width="0.9"/>
<line x1="63.40" y1="571.15" x2="65.40" y2="571.15" stroke="#444" stroke-width="0.9"/>
<line x1="63.40" y1="568.75" x2="65.40" y2="568.75" stroke="#444" stroke-width="0.9"/>
<text transform="translate(56.80,758.80) scale(1.15,1)" font-size="10" text-anchor="end" fill="#222" class="rt">0.001</text>
<text transform="translate(56.80,711.80) scale(1.15,1)" font-size="10" text-anchor="end" fill="#222" class="rt">0.01</text>
<text transform="translate(56.80,664.80) scale(1.15,1)" font-size="10" text-anchor="end" fill="#222" class="rt">0.1</text>
<text transform="translate(56.80,617.80) scale(1.15,1)" font-size="10" text-anchor="end" fill="#222" class="rt">1</text>
<line x1="92.80" y1="769.10" x2="92.80" y2="772.90" stroke="#444" stroke-width="1.0"/>
<text transform="translate(92.40,787.00) scale(1.15,1)" font-size="10" text-anchor="middle" fill="#222" class="rt">450</text>
<line x1="123.20" y1="769.10" x2="123.20" y2="772.90" stroke="#444" stroke-width="1.0"/>
<text transform="translate(122.80,787.00) scale(1.15,1)" font-size="10" text-anchor="middle" fill="#222" class="rt">500</text>
<line x1="153.60" y1="769.10" x2="153.60" y2="772.90" stroke="#444" stroke-width="1.0"/>
<text transform="translate(153.20,787.00) scale(1.15,1)" font-size="10" text-anchor="middle" fill="#222" class="rt">550</text>
<line x1="184.00" y1="769.10" x2="184.00" y2="772.90" stroke="#444" stroke-width="1.0"/>
<text transform="translate(183.60,787.00) scale(1.15,1)" font-size="10" text-anchor="middle" fill="#222" class="rt">600</text>
<line x1="214.40" y1="769.10" x2="214.40" y2="772.90" stroke="#444" stroke-width="1.0"/>
<text transform="translate(214.00,787.00) scale(1.15,1)" font-size="10" text-anchor="middle" fill="#222" class="rt">650</text>
<line x1="244.80" y1="769.10" x2="244.80" y2="772.90" stroke="#444" stroke-width="1.0"/>
<text transform="translate(244.40,787.00) scale(1.15,1)" font-size="10" text-anchor="middle" fill="#222" class="rt">700</text>
<line x1="275.20" y1="769.10" x2="275.20" y2="772.90" stroke="#444" stroke-width="1.0"/>
<text transform="translate(274.80,787.00) scale(1.15,1)" font-size="10" text-anchor="middle" fill="#222" class="rt">750</text>
<text transform="translate(170.80,805.20) scale(1.08,1)" font-size="11.5" text-anchor="middle" fill="#222" class="rt">Wavelength (nm)</text>
<text transform="translate(30.60,668.80) rotate(-90) scale(1.08,1)" font-size="11.5" text-anchor="middle" fill="#222" class="rt">Time (µs)</text>
<text transform="translate(-0.50,573.40) scale(1.14,1)" font-size="17" text-anchor="start" fill="#000" font-weight="bold" stroke="#000" stroke-width="0.25">e</text>
</svg></div>
<script>(function(){
var c=document.getElementById('hm');if(!c||!c.getContext)return;
var W=210,H=200,ctx=c.getContext('2d');
var im=ctx.createImageData(W,H),d=im.data;
var s=987654321;function r(){s^=s<<13;s^=s>>>17;s^=s<<5;return ((s>>>0)%1000000)/1000000;}
function g(){var u=0;for(var k=0;k<6;k++)u+=r();return (u-3)*1.414;}
// row index mapping (coarse rows at early times)
var rowOf=new Array(H);
for(var y=0;y<H;y++){var py=568.7+y+0.5;var lt=(613.6-py)/47;var t=Math.pow(10,lt)*1000;
 if(t<2.6){rowOf[y]=1000+Math.floor((t-0.3)/0.12);}else{rowOf[y]=y;}}
// base noise per cell
var cell={};
function cv(row,x){var k=row*512+x;if(cell[k]===undefined)cell[k]=g();return cell[k];}
var V=new Float32Array(W*H);
for(var y=0;y<H;y++){for(var x=0;x<W;x++){
 var n=cv(rowOf[y],x);
 var amp=0.06+0.095*Math.min(1,Math.max(0,(x-40)/110));
 var pyy=568.7+y; if(pyy>738){var fz=Math.min(1,(pyy-738)/8); amp=amp*(1-fz)+fz*(0.08+0.12*Math.min(1,x/140));}
 V[y*W+x]=n*amp;}}
// light horizontal blur
var V2=new Float32Array(W*H);
for(var y=0;y<H;y++)for(var x=0;x<W;x++){var a=0,w=0;for(var dy=-1;dy<=1;dy++)for(var dx=-1;dx<=1;dx++){var yy=y+dy,xx=x+dx;if(yy<0||yy>=H||xx<0||xx>=W)continue;var ww=(dy==0?4:0.6)*(dx==0?3:1);a+=V[yy*W+xx]*ww;w+=ww;}V2[y*W+x]=a/w;}
// row-correlated component (horizontal streaks), stronger on left
var rowv={};
for(var y=0;y<H;y++){var rr=rowOf[y];if(rowv[rr]===undefined)rowv[rr]=g();}
function band(y,x,yc,x0,x1,val,hw){var dy=Math.abs(y-yc);if(dy>hw+1)return 0;if(x<x0||x>x1)return 0;var f=1;if(x<x0+5)f=(x-x0)/5;if(x>x1-5)f=(x1-x)/5;var e=dy<=hw?1:(hw+1-dy);return val*f*e;}
for(var y=0;y<H;y++){for(var x=0;x<W;x++){
 var v=V2[y*W+x];
 var py=568.7+y, px=65.4+x;
 v+=rowv[rowOf[y]]*0.04*Math.max(0,1-x/130);
 // broad tints
 if(py>595&&py<648&&px<150) v+=0.015;
 if(py>640&&py<660&&px>170) v-=0.04;
 if(py>665&&py<690&&px>180) v+=0.02;
 if(py>688&&py<735&&px<150) v*=0.6;
 if(py>674&&py<681&&px<105) v-=0.035;
 // left edge strong column
 if(x<3){v+=(rowv[rowOf[y]]*0.45+0.04)*(1-x/3.2)+g()*0.1;}
 // bands
 v+=band(py,px,657.5,70,104,-0.08,1.5);
 v+=band(py,px,660.6,108,140,-0.06,1.2);
 v+=band(py,px,724.6,86,120,0.12,0.7);
 v+=band(py,px,727.4,88,118,0.09,0.6);
 v+=band(py,px,736.4,93,124,-0.30,1.6);
 v+=band(py,px,736.8,122,140,-0.13,1.0);
 v+=band(py,px,740.8,68,84,0.16,1.2);
 v+=band(py,px,740.8,82,124,0.26,1.3);
 v+=band(py,px,743.6,67,88,-0.24,1.2);
 v+=band(py,px,746.5,67,110,-0.08,1.5);
 if(py>748) v+=0.04;
 if(py>748&&px>140) v-=0.05;
 if(v>1)v=1;if(v<-1)v=-1;
 var i=(y*W+x)*4,R,G,B;
 if(v>=0){R=255;G=B=Math.round(255*(1-v));}else{B=255;R=G=Math.round(255*(1+v));}
 d[i]=R;d[i+1]=G;d[i+2]=B;d[i+3]=255;}}
ctx.putImageData(im,0,0);
})();
</script>
</body></html>
